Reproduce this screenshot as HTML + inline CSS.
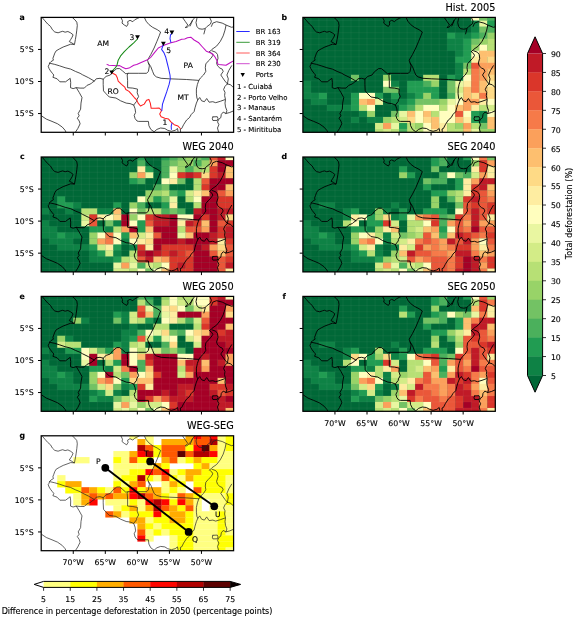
<!DOCTYPE html>
<html lang="en"><head><meta charset="utf-8"><title>Deforestation scenarios</title>
<style>html,body{margin:0;padding:0;background:#fff}svg{display:block}text{font-family:'DejaVu Sans','Liberation Sans',sans-serif;fill:#000;stroke:#000;stroke-width:0.12px}.tk{font-size:7.8px}.tt{font-size:9.75px}.lg{font-size:6.95px}.pl{font-size:7.8px;font-weight:bold}.st{font-size:7.6px}</style></head><body>
<svg width="575" height="618" viewBox="0 0 575 618">
<rect width="575" height="618" fill="#fff"/>
<defs>
<clipPath id="cpa"><rect x="41.2" y="17.4" width="192.4" height="114.9"/></clipPath>
<clipPath id="cpb"><rect x="302.9" y="17.4" width="192.4" height="114.9"/></clipPath>
<clipPath id="cpc"><rect x="41.2" y="157" width="192.4" height="114.9"/></clipPath>
<clipPath id="cpd"><rect x="302.9" y="157" width="192.4" height="114.9"/></clipPath>
<clipPath id="cpe"><rect x="41.2" y="296.4" width="192.4" height="114.9"/></clipPath>
<clipPath id="cpf"><rect x="302.9" y="296.4" width="192.4" height="114.9"/></clipPath>
<clipPath id="cpg"><rect x="41.2" y="435.8" width="192.4" height="114.9"/></clipPath>
</defs>
<g clip-path="url(#cpa)" fill="none" stroke="#222" stroke-width="0.8" stroke-linejoin="round" stroke-linecap="round">
<path d="M42.6 18.1 L44.9 20.8 L47.7 24 L50.5 26.4 L52.4 29.7 L54.8 32 L58.1 32.8 L60.9 31.8 L62.7 31.3 L65.1 32.2 L67.9 31.5 L70.7 32.9 L73.1 34.8 L72.1 37.2 L70.7 39.5 L69.3 41.6 L71.7 42.8 L74 44.4"/>
<path d="M72.6 17.8 L74.9 19.8 L76.8 22.2 L77.3 25.4 L76.8 30.1 L76.2 34.8 L75.4 39.5 L74.5 44.2"/>
<path d="M74 44.4 L70.7 44.2 L67 45.6 L63.2 47 L59.5 48.9 L56.2 50.8 L54.8 53.1 L53.8 55.9 L52.9 58.3 L53.4 60.2 L51 61.6 L49.6 63 L49.1 64.8 L48.2 66.2 L49.1 68.6 L50.5 70.9 L52.4 73.3 L53.8 75 L52.9 77.3 L57.1 78.8 L59.9 81.8 L65.6 81.8 L70.2 78.3 L70.7 82.5 L70.5 87.7 L73.1 88.6 L76.3 87.7 L80.1 88.1 L84.3 88.1 L87.1 85.3 L90.7 83.9 L91.5 83 L94.3 81.1 L96.2 78.8 L100 78.3 L103.2 79.2 L106.1 76.4 L110.3 75 L112.6 71.9 L116.8 68.6 L119.7 68.6 L122.5 70.9 L125.8 73.8 L128.1 73.3 L138.7 73.3 L146.6 73.3 L148.4 71.4 L149.4 65.8 L148.4 63 L147.5 60.2 L150.8 54.5 L154.1 48 L156.9 41.4 L159.2 35.8 L160.6 32 L157.3 29.7 L152.6 27.3 L148.9 24.5 L146.1 21.2 L144.7 18.1"/>
<path d="M49.6 63.2 L54.8 64.4 L59.5 65.8 L65.1 67.7 L70.7 69.1 L75.4 71.4 L80.1 73.3 L82.4 74.7 L88.7 77.8 L94.3 81.1"/>
<path d="M121.1 17.9 L122.5 20.8 L122 23.1 L124.3 25 L126.7 26.4 L128.1 24 L127.6 21.7 L130 20.3 L132.8 21.7 L134.7 19.8 L137.5 18.4 L139.2 17.6"/>
<path d="M148.4 63 L150.8 66.7 L152.6 71.4 L154.1 75 L156.4 76.9 L161.1 78.3 L169.5 78.8 L178.9 79.2 L186.7 79.5 L192.2 79.9 L198.8 80.4"/>
<path d="M128.1 73.3 L127.2 75 L127.6 80.6 L127.6 87.7 L132.8 88.1 L137.5 89.1 L137.2 92.8 L138.6 96.6 L136.7 99.9 L136.6 101.3 L133.7 105"/>
<path d="M103.2 79.2 L103.2 84.4 L103.5 90.9 L106.1 93.8 L109.3 97 L115.9 98 L120.6 100.8 L126.2 103.1 L130 103.6 L133.7 105 L135.1 108.8 L135.6 112.5 L134.2 115.3 L135.1 118.6 L137 121 L138.7 121.4 L148.4 121.4 L148.9 125.7 L150.8 129.4 L154.1 131.8 L156.9 129.4 L160.6 128 L164.8 128.5 L167.7 130.3 L171.4 131.3 L175.2 130.3 L177.5 128.5 L178 131.3"/>
<path d="M209.6 51.7 L211.9 53.6 L212.8 55.5 L211 58.3 L208.2 61.1 L205.8 63.9 L205.3 67.7 L205.8 71.4 L203.5 75 L200.6 77.8 L198.8 80.4 L197.4 84.4 L196.4 89.1 L196.4 93.8 L196.9 98 L197.8 99.9 L196.4 103.1 L195 107.8 L194.1 111.6 L191.3 114.4 L189.4 117.7 L186.6 120 L183.6 124.7 L181.7 128.5 L180.3 129 L180.6 132"/>
<path d="M226 25.4 L225 30.1 L223.2 35.8 L220.3 41.4 L216.6 46.1 L211.9 49.4 L209.6 51.7"/>
<path d="M211.9 50.8 L215.7 52.2 L217.5 54.5 L218 58.3 L216.6 63 L217.5 65.8 L219.9 68.1 L222.2 69.1 L223.2 71.4 L220.8 75 L222.7 77.8 L225 81.1 L227.4 83.9 L225 86.3 L223.6 89.5 L225 92.4 L224.6 95.6 L225.5 99.6 L225 103.1 L225.5 106.9 L226.9 110.6 L226 113.5 L223.2 112.1 L221.3 114.4 L220.8 117.7 L218.9 119.1 L217.5 121.9 L218.9 124.7 L217.5 128 L218.5 131.8"/>
<path d="M197.8 99.9 L199.7 97.5 L201.6 100.8 L204.4 101.7 L206.7 98.5 L209.1 102.2 L212.8 101.7 L215.7 102.7 L220.3 101.3 L225 99.6"/>
<path d="M231.6 65.8 L228.8 70.5 L226.9 75 L228.3 78.8 L227.4 83.9"/>
<path d="M227.4 83.9 L230.7 84.8 L233 87.2"/>
<path d="M226 113.5 L229.7 112.5 L233 111.1"/>
<path d="M212.9 116.9 L217.3 116.7 L218 118.5 L217.3 120.4 L212.9 120.5 L212.3 118.7 L212.9 116.9"/>
<path d="M211.4 26.4 L212.8 23.1 L216.6 21.7 L222.2 23.1 L226.9 25.4 L231.6 27.3 L233.3 26.9"/>
<path d="M182.6 17.6 L185.2 21.3 L187.8 25 L185.2 27.6 L186.9 27.4 L188.3 26.3 L191 22.9 L192.5 20.3 L191.3 23.4 L190.1 26"/>
<path d="M192.5 20.3 L194.1 18.4 L194.9 17.5"/>
<path d="M196.9 18.5 L196 22.6 L196.9 26.4 L198.8 28.7 L202.1 29.2 L204.9 28.7 L207.2 26.4 L210.5 24 L211.4 21.2 L210 18.2"/>
<path d="M205.3 28.7 L203.9 33.9"/>
<path d="M41.7 116 L46.3 119.1 L52 121.4 L57.6 123.8 L62.3 127.1 L65.1 130.3 L66 132.2"/>
<path d="M76.3 87.7 L79.2 92.4 L82 97.5 L81 103.1 L80.6 109.2 L78.2 113.5 L79.2 115.8 L77.3 118.2 L79.2 121 L80.1 123.8 L77.8 128.5 L75.4 132.2"/>
</g>
<g clip-path="url(#cpa)" fill="none" stroke-width="1.05" stroke-linejoin="round" stroke-linecap="round">
<path d="M107 64.4 L108.9 65.3 L113.1 65.6 L116.8 65.8 L119.7 65.6 L122.5 67.2 L125.8 68.8 L129 68.1 L133.7 65.3 L136.7 64.4 L142.3 62 L147.5 59.7 L150.8 57.3 L154.5 52.6 L158.3 48 L162 46.1 L166.7 44.2 L170.9 42.8 L176.1 41.4 L181.7 39.3 L184.7 39 L187.5 37.8 L190.8 37.2 L194.1 40 L198.8 42.8 L202.5 47 L206.3 51.2 L209.6 52.6 L212.8 54.1 L215.2 57.3 L217.1 61.1 L218 64.4 L221.3 64.8 L226 65.3 L229.7 63 L233 61.1" stroke="#c010c0"/>
<path d="M137.5 39 L133.7 42.8 L129 47 L124.3 51.7 L120.6 55.9 L118.2 60.2 L117.3 63.9 L116.8 65.8 L115 68.1 L112.6 70.5 L111.7 71.9" stroke="#188a18"/>
<path d="M112.2 72.8 L113.2 73.5 L115.9 75 L117.3 77.8 L118.2 81.1 L121.5 84.4 L124.8 87.2 L125.8 89.5 L129 91.4 L131.9 94.7 L134.7 98 L136.7 99.9 L138.1 103.1 L140.5 106 L144.2 104.1 L146.6 100.3 L148.9 99.4 L150.3 103.1 L151.2 108.3 L155.5 108.3 L159.2 108 L161.6 110.6 L159.7 113.9 L161.1 116.7 L164.8 118.2 L168.6 119.1 L170.9 121.9 L174.2 124.7 L178 126.1 L180.3 128.5" stroke="#ff2020"/>
<path d="M171.9 33.5 L170.5 34.8 L170 38.6 L170.9 42.3" stroke="#2a2aff"/>
<path d="M163.4 44.5 L162.5 47 L161.6 49.4 L163.9 52.6 L165.8 57.3 L167.2 63 L168.6 68.6 L170 75 L170.3 78.8 L169.1 84.4 L166.7 91.9 L164.4 98.5 L162.5 104.1 L161.8 110.6" stroke="#2a2aff"/>
<path d="M171.9 123.3 L171.2 126.1 L171.4 129.4" stroke="#2a2aff"/>
</g>
<path d="M109.3 70.4 h4.8 l-2.4 4.2z" fill="#000"/>
<path d="M135.1 35.3 h4.8 l-2.4 4.2z" fill="#000"/>
<path d="M169.5 30.6 h4.8 l-2.4 4.2z" fill="#000"/>
<path d="M161 41.8 h4.8 l-2.4 4.2z" fill="#000"/>
<text x="164.8" y="125" text-anchor="middle" class="st">1</text>
<text x="107" y="74.2" text-anchor="middle" class="st">2</text>
<text x="131.9" y="39.5" text-anchor="middle" class="st">3</text>
<text x="166.7" y="34.3" text-anchor="middle" class="st">4</text>
<text x="168.6" y="52.6" text-anchor="middle" class="st">5</text>
<text x="103.2" y="45.6" text-anchor="middle" class="st">AM</text>
<text x="188.2" y="67.8" text-anchor="middle" class="st">PA</text>
<text x="113.1" y="94.2" text-anchor="middle" class="st">RO</text>
<text x="183" y="100.1" text-anchor="middle" class="st">MT</text>
<g stroke="#000" stroke-width="1" fill="none">
<path d="M73.25 132.3 v3.2"/>
<path d="M105.3 132.3 v3.2"/>
<path d="M137.35 132.3 v3.2"/>
<path d="M169.4 132.3 v3.2"/>
<path d="M201.45 132.3 v3.2"/>
<path d="M41.2 49.45 h-3.2"/>
<path d="M41.2 81.5 h-3.2"/>
<path d="M41.2 113.55 h-3.2"/>
</g>
<rect x="41.2" y="17.4" width="192.4" height="114.9" fill="none" stroke="#000" stroke-width="1.25"/>
<text x="33.6" y="52.35" text-anchor="end" class="tk">5°S</text>
<text x="33.6" y="84.4" text-anchor="end" class="tk">10°S</text>
<text x="33.6" y="116.45" text-anchor="end" class="tk">15°S</text>
<path d="M236.3 31.5 H249.7" stroke="#2a2aff" stroke-width="1" fill="none"/>
<text x="255.7" y="34" class="lg">BR 163</text>
<path d="M236.3 42.3 H249.7" stroke="#3a9a3a" stroke-width="1" fill="none"/>
<text x="255.7" y="44.8" class="lg">BR 319</text>
<path d="M236.3 53 H249.7" stroke="#ff5a5a" stroke-width="1" fill="none"/>
<text x="255.7" y="55.5" class="lg">BR 364</text>
<path d="M236.3 63.7 H249.7" stroke="#d050d0" stroke-width="1" fill="none"/>
<text x="255.7" y="66.2" class="lg">BR 230</text>
<path d="M240.5 73.0 h4.4 l-2.2 4.0z" fill="#000"/>
<text x="255.7" y="77.3" class="lg">Ports</text>
<text x="236.9" y="88.6" class="lg">1 - Cuiabá</text>
<text x="236.9" y="99.5" class="lg">2 - Porto Velho</text>
<text x="236.9" y="110.1" class="lg">3 - Manaus</text>
<text x="236.9" y="121.1" class="lg">4 - Santarém</text>
<text x="236.9" y="132" class="lg">5 - Miritituba</text>
<rect x="302.9" y="17.4" width="192.4" height="114.9" fill="#006837"/>
<g clip-path="url(#cpb)">
<rect x="302.9" y="14.6" width="96.45" height="6.27" fill="#006837"/>
<rect x="399.1" y="14.6" width="72.4" height="6.27" fill="#006837"/>
<rect x="471.25" y="14.6" width="8.27" height="6.27" fill="#fffebe"/>
<rect x="479.27" y="14.6" width="8.27" height="6.27" fill="#73c264"/>
<rect x="487.28" y="14.6" width="8.27" height="6.27" fill="#4bb05c"/>
<rect x="302.9" y="20.62" width="96.45" height="6.27" fill="#006837"/>
<rect x="399.1" y="20.62" width="72.4" height="6.27" fill="#006837"/>
<rect x="471.25" y="20.62" width="8.27" height="6.27" fill="#0e8245"/>
<rect x="479.27" y="20.62" width="8.27" height="6.27" fill="#e9f6a1"/>
<rect x="487.28" y="20.62" width="8.27" height="6.27" fill="#219c52"/>
<rect x="302.9" y="26.64" width="96.45" height="6.27" fill="#006837"/>
<rect x="399.1" y="26.64" width="72.4" height="6.27" fill="#006837"/>
<rect x="471.25" y="26.64" width="8.27" height="6.27" fill="#0e8245"/>
<rect x="479.27" y="26.64" width="8.27" height="6.27" fill="#73c264"/>
<rect x="487.28" y="26.64" width="8.27" height="6.27" fill="#4bb05c"/>
<rect x="302.9" y="32.66" width="96.45" height="6.27" fill="#006837"/>
<rect x="399.1" y="32.66" width="48.35" height="6.27" fill="#006837"/>
<rect x="447.2" y="32.66" width="8.27" height="6.27" fill="#219c52"/>
<rect x="455.22" y="32.66" width="16.28" height="6.27" fill="#0e8245"/>
<rect x="471.25" y="32.66" width="8.27" height="6.27" fill="#219c52"/>
<rect x="479.27" y="32.66" width="8.27" height="6.27" fill="#4bb05c"/>
<rect x="487.28" y="32.66" width="8.27" height="6.27" fill="#98d368"/>
<rect x="302.9" y="38.68" width="96.45" height="6.27" fill="#006837"/>
<rect x="399.1" y="38.68" width="48.35" height="6.27" fill="#006837"/>
<rect x="447.2" y="38.68" width="16.28" height="6.27" fill="#0e8245"/>
<rect x="463.23" y="38.68" width="8.27" height="6.27" fill="#219c52"/>
<rect x="471.25" y="38.68" width="8.27" height="6.27" fill="#73c264"/>
<rect x="479.27" y="38.68" width="8.27" height="6.27" fill="#98d368"/>
<rect x="487.28" y="38.68" width="8.27" height="6.27" fill="#b7e075"/>
<rect x="302.9" y="44.7" width="96.45" height="6.27" fill="#006837"/>
<rect x="399.1" y="44.7" width="48.35" height="6.27" fill="#006837"/>
<rect x="447.2" y="44.7" width="16.28" height="6.27" fill="#0e8245"/>
<rect x="463.23" y="44.7" width="8.27" height="6.27" fill="#219c52"/>
<rect x="471.25" y="44.7" width="8.27" height="6.27" fill="#98d368"/>
<rect x="479.27" y="44.7" width="8.27" height="6.27" fill="#fffebe"/>
<rect x="487.28" y="44.7" width="8.27" height="6.27" fill="#b7e075"/>
<rect x="302.9" y="50.72" width="96.45" height="6.27" fill="#006837"/>
<rect x="399.1" y="50.72" width="56.37" height="6.27" fill="#006837"/>
<rect x="455.22" y="50.72" width="8.27" height="6.27" fill="#0e8245"/>
<rect x="463.23" y="50.72" width="8.27" height="6.27" fill="#219c52"/>
<rect x="471.25" y="50.72" width="8.27" height="6.27" fill="#fffebe"/>
<rect x="479.27" y="50.72" width="16.28" height="6.27" fill="#fdbf6f"/>
<rect x="302.9" y="56.74" width="96.45" height="6.27" fill="#006837"/>
<rect x="399.1" y="56.74" width="56.37" height="6.27" fill="#006837"/>
<rect x="455.22" y="56.74" width="16.28" height="6.27" fill="#219c52"/>
<rect x="471.25" y="56.74" width="8.27" height="6.27" fill="#feeda1"/>
<rect x="479.27" y="56.74" width="8.27" height="6.27" fill="#fdbf6f"/>
<rect x="487.28" y="56.74" width="8.27" height="6.27" fill="#feda86"/>
<rect x="302.9" y="62.76" width="96.45" height="6.27" fill="#006837"/>
<rect x="399.1" y="62.76" width="56.37" height="6.27" fill="#006837"/>
<rect x="455.22" y="62.76" width="8.27" height="6.27" fill="#0e8245"/>
<rect x="463.23" y="62.76" width="8.27" height="6.27" fill="#73c264"/>
<rect x="471.25" y="62.76" width="8.27" height="6.27" fill="#ea5739"/>
<rect x="479.27" y="62.76" width="16.28" height="6.27" fill="#fba05b"/>
<rect x="302.9" y="68.78" width="8.27" height="6.27" fill="#006837"/>
<rect x="310.92" y="68.78" width="88.43" height="6.27" fill="#006837"/>
<rect x="399.1" y="68.78" width="56.37" height="6.27" fill="#006837"/>
<rect x="455.22" y="68.78" width="8.27" height="6.27" fill="#0e8245"/>
<rect x="463.23" y="68.78" width="8.27" height="6.27" fill="#b7e075"/>
<rect x="471.25" y="68.78" width="8.27" height="6.27" fill="#f67a49"/>
<rect x="479.27" y="68.78" width="8.27" height="6.27" fill="#fba05b"/>
<rect x="487.28" y="68.78" width="8.27" height="6.27" fill="#fdbf6f"/>
<rect x="302.9" y="74.8" width="8.27" height="6.27" fill="#006837"/>
<rect x="310.92" y="74.8" width="40.33" height="6.27" fill="#006837"/>
<rect x="351" y="74.8" width="8.27" height="6.27" fill="#73c264"/>
<rect x="359.02" y="74.8" width="8.27" height="6.27" fill="#006837"/>
<rect x="367.03" y="74.8" width="16.28" height="6.27" fill="#006837"/>
<rect x="383.07" y="74.8" width="8.27" height="6.27" fill="#98d368"/>
<rect x="391.08" y="74.8" width="8.27" height="6.27" fill="#006837"/>
<rect x="399.1" y="74.8" width="24.3" height="6.27" fill="#006837"/>
<rect x="423.15" y="74.8" width="16.28" height="6.27" fill="#b7e075"/>
<rect x="439.18" y="74.8" width="8.27" height="6.27" fill="#006837"/>
<rect x="447.2" y="74.8" width="8.27" height="6.27" fill="#219c52"/>
<rect x="455.22" y="74.8" width="8.27" height="6.27" fill="#0e8245"/>
<rect x="463.23" y="74.8" width="8.27" height="6.27" fill="#fffebe"/>
<rect x="471.25" y="74.8" width="8.27" height="6.27" fill="#f67a49"/>
<rect x="479.27" y="74.8" width="8.27" height="6.27" fill="#fba05b"/>
<rect x="487.28" y="74.8" width="8.27" height="6.27" fill="#feda86"/>
<rect x="302.9" y="80.82" width="8.27" height="6.27" fill="#0e8245"/>
<rect x="310.92" y="80.82" width="16.28" height="6.27" fill="#006837"/>
<rect x="326.95" y="80.82" width="16.28" height="6.27" fill="#006837"/>
<rect x="342.98" y="80.82" width="16.28" height="6.27" fill="#006837"/>
<rect x="359.02" y="80.82" width="24.3" height="6.27" fill="#006837"/>
<rect x="383.07" y="80.82" width="8.27" height="6.27" fill="#fffebe"/>
<rect x="391.08" y="80.82" width="8.27" height="6.27" fill="#0e8245"/>
<rect x="399.1" y="80.82" width="8.27" height="6.27" fill="#006837"/>
<rect x="407.12" y="80.82" width="16.28" height="6.27" fill="#219c52"/>
<rect x="423.15" y="80.82" width="8.27" height="6.27" fill="#4bb05c"/>
<rect x="431.17" y="80.82" width="8.27" height="6.27" fill="#98d368"/>
<rect x="439.18" y="80.82" width="8.27" height="6.27" fill="#006837"/>
<rect x="447.2" y="80.82" width="8.27" height="6.27" fill="#73c264"/>
<rect x="455.22" y="80.82" width="8.27" height="6.27" fill="#e9f6a1"/>
<rect x="463.23" y="80.82" width="8.27" height="6.27" fill="#feeda1"/>
<rect x="471.25" y="80.82" width="8.27" height="6.27" fill="#f67a49"/>
<rect x="479.27" y="80.82" width="8.27" height="6.27" fill="#fdbf6f"/>
<rect x="487.28" y="80.82" width="8.27" height="6.27" fill="#feeda1"/>
<rect x="302.9" y="86.84" width="8.27" height="6.27" fill="#0e8245"/>
<rect x="310.92" y="86.84" width="16.28" height="6.27" fill="#006837"/>
<rect x="326.95" y="86.84" width="24.3" height="6.27" fill="#006837"/>
<rect x="351" y="86.84" width="32.32" height="6.27" fill="#006837"/>
<rect x="383.07" y="86.84" width="16.28" height="6.27" fill="#73c264"/>
<rect x="399.1" y="86.84" width="8.27" height="6.27" fill="#006837"/>
<rect x="407.12" y="86.84" width="32.32" height="6.27" fill="#219c52"/>
<rect x="439.18" y="86.84" width="8.27" height="6.27" fill="#006837"/>
<rect x="447.2" y="86.84" width="8.27" height="6.27" fill="#73c264"/>
<rect x="455.22" y="86.84" width="8.27" height="6.27" fill="#d3ec87"/>
<rect x="463.23" y="86.84" width="8.27" height="6.27" fill="#fdbf6f"/>
<rect x="471.25" y="86.84" width="8.27" height="6.27" fill="#f67a49"/>
<rect x="479.27" y="86.84" width="8.27" height="6.27" fill="#fdbf6f"/>
<rect x="487.28" y="86.84" width="8.27" height="6.27" fill="#feda86"/>
<rect x="302.9" y="92.86" width="16.28" height="6.27" fill="#0e8245"/>
<rect x="318.93" y="92.86" width="8.27" height="6.27" fill="#219c52"/>
<rect x="326.95" y="92.86" width="8.27" height="6.27" fill="#006837"/>
<rect x="334.97" y="92.86" width="16.28" height="6.27" fill="#006837"/>
<rect x="351" y="92.86" width="8.27" height="6.27" fill="#219c52"/>
<rect x="359.02" y="92.86" width="16.28" height="6.27" fill="#fffebe"/>
<rect x="375.05" y="92.86" width="8.27" height="6.27" fill="#219c52"/>
<rect x="383.07" y="92.86" width="8.27" height="6.27" fill="#006837"/>
<rect x="391.08" y="92.86" width="8.27" height="6.27" fill="#219c52"/>
<rect x="399.1" y="92.86" width="8.27" height="6.27" fill="#006837"/>
<rect x="407.12" y="92.86" width="8.27" height="6.27" fill="#0e8245"/>
<rect x="415.13" y="92.86" width="8.27" height="6.27" fill="#219c52"/>
<rect x="423.15" y="92.86" width="8.27" height="6.27" fill="#98d368"/>
<rect x="431.17" y="92.86" width="8.27" height="6.27" fill="#219c52"/>
<rect x="439.18" y="92.86" width="8.27" height="6.27" fill="#006837"/>
<rect x="447.2" y="92.86" width="8.27" height="6.27" fill="#4bb05c"/>
<rect x="455.22" y="92.86" width="8.27" height="6.27" fill="#e9f6a1"/>
<rect x="463.23" y="92.86" width="8.27" height="6.27" fill="#fdbf6f"/>
<rect x="471.25" y="92.86" width="8.27" height="6.27" fill="#feda86"/>
<rect x="479.27" y="92.86" width="8.27" height="6.27" fill="#f67a49"/>
<rect x="487.28" y="92.86" width="8.27" height="6.27" fill="#feda86"/>
<rect x="302.9" y="98.88" width="8.27" height="6.27" fill="#006837"/>
<rect x="310.92" y="98.88" width="16.28" height="6.27" fill="#0e8245"/>
<rect x="326.95" y="98.88" width="8.27" height="6.27" fill="#006837"/>
<rect x="334.97" y="98.88" width="8.27" height="6.27" fill="#006837"/>
<rect x="342.98" y="98.88" width="8.27" height="6.27" fill="#006837"/>
<rect x="351" y="98.88" width="8.27" height="6.27" fill="#219c52"/>
<rect x="359.02" y="98.88" width="8.27" height="6.27" fill="#fdbf6f"/>
<rect x="367.03" y="98.88" width="8.27" height="6.27" fill="#fba05b"/>
<rect x="375.05" y="98.88" width="8.27" height="6.27" fill="#e9f6a1"/>
<rect x="383.07" y="98.88" width="8.27" height="6.27" fill="#006837"/>
<rect x="391.08" y="98.88" width="8.27" height="6.27" fill="#0e8245"/>
<rect x="399.1" y="98.88" width="8.27" height="6.27" fill="#0e8245"/>
<rect x="407.12" y="98.88" width="8.27" height="6.27" fill="#219c52"/>
<rect x="415.13" y="98.88" width="24.3" height="6.27" fill="#73c264"/>
<rect x="439.18" y="98.88" width="8.27" height="6.27" fill="#98d368"/>
<rect x="447.2" y="98.88" width="8.27" height="6.27" fill="#e9f6a1"/>
<rect x="455.22" y="98.88" width="8.27" height="6.27" fill="#fffebe"/>
<rect x="463.23" y="98.88" width="16.28" height="6.27" fill="#fba05b"/>
<rect x="479.27" y="98.88" width="8.27" height="6.27" fill="#feeda1"/>
<rect x="487.28" y="98.88" width="8.27" height="6.27" fill="#fffebe"/>
<rect x="302.9" y="104.9" width="24.3" height="6.27" fill="#006837"/>
<rect x="326.95" y="104.9" width="24.3" height="6.27" fill="#0e8245"/>
<rect x="351" y="104.9" width="8.27" height="6.27" fill="#219c52"/>
<rect x="359.02" y="104.9" width="8.27" height="6.27" fill="#b7e075"/>
<rect x="367.03" y="104.9" width="8.27" height="6.27" fill="#fffebe"/>
<rect x="375.05" y="104.9" width="24.3" height="6.27" fill="#006837"/>
<rect x="399.1" y="104.9" width="8.27" height="6.27" fill="#219c52"/>
<rect x="407.12" y="104.9" width="8.27" height="6.27" fill="#4bb05c"/>
<rect x="415.13" y="104.9" width="8.27" height="6.27" fill="#b7e075"/>
<rect x="423.15" y="104.9" width="16.28" height="6.27" fill="#fffebe"/>
<rect x="439.18" y="104.9" width="8.27" height="6.27" fill="#b7e075"/>
<rect x="447.2" y="104.9" width="8.27" height="6.27" fill="#fffebe"/>
<rect x="455.22" y="104.9" width="8.27" height="6.27" fill="#fdbf6f"/>
<rect x="463.23" y="104.9" width="8.27" height="6.27" fill="#fba05b"/>
<rect x="471.25" y="104.9" width="8.27" height="6.27" fill="#feeda1"/>
<rect x="479.27" y="104.9" width="8.27" height="6.27" fill="#b7e075"/>
<rect x="487.28" y="104.9" width="8.27" height="6.27" fill="#d3ec87"/>
<rect x="302.9" y="110.92" width="56.37" height="6.27" fill="#006837"/>
<rect x="359.02" y="110.92" width="8.27" height="6.27" fill="#0e8245"/>
<rect x="367.03" y="110.92" width="8.27" height="6.27" fill="#98d368"/>
<rect x="375.05" y="110.92" width="16.28" height="6.27" fill="#006837"/>
<rect x="391.08" y="110.92" width="8.27" height="6.27" fill="#73c264"/>
<rect x="399.1" y="110.92" width="8.27" height="6.27" fill="#e9f6a1"/>
<rect x="407.12" y="110.92" width="8.27" height="6.27" fill="#fdbf6f"/>
<rect x="415.13" y="110.92" width="8.27" height="6.27" fill="#fffebe"/>
<rect x="423.15" y="110.92" width="8.27" height="6.27" fill="#fdbf6f"/>
<rect x="431.17" y="110.92" width="8.27" height="6.27" fill="#b7e075"/>
<rect x="439.18" y="110.92" width="16.28" height="6.27" fill="#fffebe"/>
<rect x="455.22" y="110.92" width="8.27" height="6.27" fill="#ea5739"/>
<rect x="463.23" y="110.92" width="8.27" height="6.27" fill="#fffebe"/>
<rect x="471.25" y="110.92" width="8.27" height="6.27" fill="#219c52"/>
<rect x="479.27" y="110.92" width="8.27" height="6.27" fill="#0e8245"/>
<rect x="487.28" y="110.92" width="8.27" height="6.27" fill="#fffebe"/>
<rect x="302.9" y="116.94" width="32.32" height="6.27" fill="#006837"/>
<rect x="334.97" y="116.94" width="8.27" height="6.27" fill="#006837"/>
<rect x="342.98" y="116.94" width="8.27" height="6.27" fill="#006837"/>
<rect x="351" y="116.94" width="8.27" height="6.27" fill="#0e8245"/>
<rect x="359.02" y="116.94" width="8.27" height="6.27" fill="#006837"/>
<rect x="367.03" y="116.94" width="16.28" height="6.27" fill="#0e8245"/>
<rect x="383.07" y="116.94" width="8.27" height="6.27" fill="#98d368"/>
<rect x="391.08" y="116.94" width="8.27" height="6.27" fill="#b7e075"/>
<rect x="399.1" y="116.94" width="8.27" height="6.27" fill="#d3ec87"/>
<rect x="407.12" y="116.94" width="8.27" height="6.27" fill="#feda86"/>
<rect x="415.13" y="116.94" width="8.27" height="6.27" fill="#fffebe"/>
<rect x="423.15" y="116.94" width="8.27" height="6.27" fill="#feda86"/>
<rect x="431.17" y="116.94" width="8.27" height="6.27" fill="#fdbf6f"/>
<rect x="439.18" y="116.94" width="16.28" height="6.27" fill="#fffebe"/>
<rect x="455.22" y="116.94" width="8.27" height="6.27" fill="#fdbf6f"/>
<rect x="463.23" y="116.94" width="8.27" height="6.27" fill="#feeda1"/>
<rect x="471.25" y="116.94" width="8.27" height="6.27" fill="#219c52"/>
<rect x="479.27" y="116.94" width="8.27" height="6.27" fill="#0e8245"/>
<rect x="487.28" y="116.94" width="8.27" height="6.27" fill="#fdbf6f"/>
<rect x="302.9" y="122.96" width="32.32" height="6.27" fill="#006837"/>
<rect x="334.97" y="122.96" width="8.27" height="6.27" fill="#006837"/>
<rect x="342.98" y="122.96" width="32.32" height="6.27" fill="#006837"/>
<rect x="375.05" y="122.96" width="8.27" height="6.27" fill="#d3ec87"/>
<rect x="383.07" y="122.96" width="8.27" height="6.27" fill="#fba05b"/>
<rect x="391.08" y="122.96" width="8.27" height="6.27" fill="#e9f6a1"/>
<rect x="399.1" y="122.96" width="8.27" height="6.27" fill="#219c52"/>
<rect x="407.12" y="122.96" width="8.27" height="6.27" fill="#b7e075"/>
<rect x="415.13" y="122.96" width="8.27" height="6.27" fill="#98d368"/>
<rect x="423.15" y="122.96" width="8.27" height="6.27" fill="#fffebe"/>
<rect x="431.17" y="122.96" width="8.27" height="6.27" fill="#fdbf6f"/>
<rect x="439.18" y="122.96" width="8.27" height="6.27" fill="#feeda1"/>
<rect x="447.2" y="122.96" width="8.27" height="6.27" fill="#b7e075"/>
<rect x="455.22" y="122.96" width="8.27" height="6.27" fill="#98d368"/>
<rect x="463.23" y="122.96" width="8.27" height="6.27" fill="#fba05b"/>
<rect x="471.25" y="122.96" width="8.27" height="6.27" fill="#b7e075"/>
<rect x="479.27" y="122.96" width="8.27" height="6.27" fill="#73c264"/>
<rect x="487.28" y="122.96" width="8.27" height="6.27" fill="#fdbf6f"/>
<rect x="302.9" y="128.98" width="72.4" height="6.27" fill="#006837"/>
<rect x="375.05" y="128.98" width="8.27" height="6.27" fill="#b7e075"/>
<rect x="383.07" y="128.98" width="8.27" height="6.27" fill="#d3ec87"/>
<rect x="391.08" y="128.98" width="8.27" height="6.27" fill="#b7e075"/>
<rect x="399.1" y="128.98" width="8.27" height="6.27" fill="#4bb05c"/>
<rect x="407.12" y="128.98" width="16.28" height="6.27" fill="#b7e075"/>
<rect x="423.15" y="128.98" width="8.27" height="6.27" fill="#fffebe"/>
<rect x="431.17" y="128.98" width="16.28" height="6.27" fill="#feeda1"/>
<rect x="447.2" y="128.98" width="16.28" height="6.27" fill="#b7e075"/>
<rect x="463.23" y="128.98" width="8.27" height="6.27" fill="#fdbf6f"/>
<rect x="471.25" y="128.98" width="8.27" height="6.27" fill="#e9f6a1"/>
<rect x="479.27" y="128.98" width="16.28" height="6.27" fill="#98d368"/>
<path d="M310.92 17.4v114.9M318.93 17.4v114.9M326.95 17.4v114.9M334.97 17.4v114.9M342.98 17.4v114.9M351 17.4v114.9M359.02 17.4v114.9M367.03 17.4v114.9M375.05 17.4v114.9M383.07 17.4v114.9M391.08 17.4v114.9M399.1 17.4v114.9M407.12 17.4v114.9M415.13 17.4v114.9M423.15 17.4v114.9M431.17 17.4v114.9M439.18 17.4v114.9M447.2 17.4v114.9M455.22 17.4v114.9M463.23 17.4v114.9M471.25 17.4v114.9M479.27 17.4v114.9M487.28 17.4v114.9M302.9 20.62h192.4M302.9 26.64h192.4M302.9 32.66h192.4M302.9 38.68h192.4M302.9 44.7h192.4M302.9 50.72h192.4M302.9 56.74h192.4M302.9 62.76h192.4M302.9 68.78h192.4M302.9 74.8h192.4M302.9 80.82h192.4M302.9 86.84h192.4M302.9 92.86h192.4M302.9 98.88h192.4M302.9 104.9h192.4M302.9 110.92h192.4M302.9 116.94h192.4M302.9 122.96h192.4M302.9 128.98h192.4" stroke="#fff" stroke-opacity="0.10" stroke-width="0.5" fill="none"/>
</g>
<g clip-path="url(#cpb)" fill="none" stroke="#000" stroke-width="0.9" stroke-linejoin="round" stroke-linecap="round">
<path d="M304.3 18.1 L306.6 20.8 L309.4 24 L312.2 26.4 L314.1 29.7 L316.5 32 L319.8 32.8 L322.6 31.8 L324.4 31.3 L326.8 32.2 L329.6 31.5 L332.4 32.9 L334.8 34.8 L333.8 37.2 L332.4 39.5 L331 41.6 L333.4 42.8 L335.7 44.4"/>
<path d="M334.3 17.8 L336.6 19.8 L338.5 22.2 L339 25.4 L338.5 30.1 L337.9 34.8 L337.1 39.5 L336.2 44.2"/>
<path d="M335.7 44.4 L332.4 44.2 L328.7 45.6 L324.9 47 L321.2 48.9 L317.9 50.8 L316.5 53.1 L315.5 55.9 L314.6 58.3 L315.1 60.2 L312.7 61.6 L311.3 63 L310.8 64.8 L309.9 66.2 L310.8 68.6 L312.2 70.9 L314.1 73.3 L315.5 75 L314.6 77.3 L318.8 78.8 L321.6 81.8 L327.3 81.8 L331.9 78.3 L332.4 82.5 L332.2 87.7 L334.8 88.6 L338 87.7 L341.8 88.1 L346 88.1 L348.8 85.3 L352.4 83.9 L353.2 83 L356 81.1 L357.9 78.8 L361.7 78.3 L364.9 79.2 L367.8 76.4 L372 75 L374.3 71.9 L378.5 68.6 L381.4 68.6 L384.2 70.9 L387.5 73.8 L389.8 73.3 L400.4 73.3 L408.3 73.3 L410.1 71.4 L411.1 65.8 L410.1 63 L409.2 60.2 L412.5 54.5 L415.8 48 L418.6 41.4 L420.9 35.8 L422.3 32 L419 29.7 L414.3 27.3 L410.6 24.5 L407.8 21.2 L406.4 18.1"/>
<path d="M311.3 63.2 L316.5 64.4 L321.2 65.8 L326.8 67.7 L332.4 69.1 L337.1 71.4 L341.8 73.3 L344.1 74.7 L350.4 77.8 L356 81.1"/>
<path d="M382.8 17.9 L384.2 20.8 L383.7 23.1 L386 25 L388.4 26.4 L389.8 24 L389.3 21.7 L391.7 20.3 L394.5 21.7 L396.4 19.8 L399.2 18.4 L400.9 17.6"/>
<path d="M410.1 63 L412.5 66.7 L414.3 71.4 L415.8 75 L418.1 76.9 L422.8 78.3 L431.2 78.8 L440.6 79.2 L448.4 79.5 L453.9 79.9 L460.5 80.4"/>
<path d="M389.8 73.3 L388.9 75 L389.3 80.6 L389.3 87.7 L394.5 88.1 L399.2 89.1 L398.9 92.8 L400.3 96.6 L398.4 99.9 L398.3 101.3 L395.4 105"/>
<path d="M364.9 79.2 L364.9 84.4 L365.2 90.9 L367.8 93.8 L371 97 L377.6 98 L382.3 100.8 L387.9 103.1 L391.7 103.6 L395.4 105 L396.8 108.8 L397.3 112.5 L395.9 115.3 L396.8 118.6 L398.7 121 L400.4 121.4 L410.1 121.4 L410.6 125.7 L412.5 129.4 L415.8 131.8 L418.6 129.4 L422.3 128 L426.5 128.5 L429.4 130.3 L433.1 131.3 L436.9 130.3 L439.2 128.5 L439.7 131.3"/>
<path d="M471.3 51.7 L473.6 53.6 L474.5 55.5 L472.7 58.3 L469.9 61.1 L467.5 63.9 L467 67.7 L467.5 71.4 L465.2 75 L462.3 77.8 L460.5 80.4 L459.1 84.4 L458.1 89.1 L458.1 93.8 L458.6 98 L459.5 99.9 L458.1 103.1 L456.7 107.8 L455.8 111.6 L453 114.4 L451.1 117.7 L448.3 120 L445.3 124.7 L443.4 128.5 L442 129 L442.3 132"/>
<path d="M487.7 25.4 L486.7 30.1 L484.9 35.8 L482 41.4 L478.3 46.1 L473.6 49.4 L471.3 51.7"/>
<path d="M473.6 50.8 L477.4 52.2 L479.2 54.5 L479.7 58.3 L478.3 63 L479.2 65.8 L481.6 68.1 L483.9 69.1 L484.9 71.4 L482.5 75 L484.4 77.8 L486.7 81.1 L489.1 83.9 L486.7 86.3 L485.3 89.5 L486.7 92.4 L486.3 95.6 L487.2 99.6 L486.7 103.1 L487.2 106.9 L488.6 110.6 L487.7 113.5 L484.9 112.1 L483 114.4 L482.5 117.7 L480.6 119.1 L479.2 121.9 L480.6 124.7 L479.2 128 L480.2 131.8"/>
<path d="M459.5 99.9 L461.4 97.5 L463.3 100.8 L466.1 101.7 L468.4 98.5 L470.8 102.2 L474.5 101.7 L477.4 102.7 L482 101.3 L486.7 99.6"/>
<path d="M493.3 65.8 L490.5 70.5 L488.6 75 L490 78.8 L489.1 83.9"/>
<path d="M489.1 83.9 L492.4 84.8 L494.7 87.2"/>
<path d="M487.7 113.5 L491.4 112.5 L494.7 111.1"/>
<path d="M474.6 116.9 L479 116.7 L479.7 118.5 L479 120.4 L474.6 120.5 L474 118.7 L474.6 116.9"/>
<path d="M473.1 26.4 L474.5 23.1 L478.3 21.7 L483.9 23.1 L488.6 25.4 L493.3 27.3 L495 26.9"/>
<path d="M444.3 17.6 L446.9 21.3 L449.5 25 L446.9 27.6 L448.6 27.4 L450 26.3 L452.7 22.9 L454.2 20.3 L453 23.4 L451.8 26"/>
<path d="M454.2 20.3 L455.8 18.4 L456.6 17.5"/>
<path d="M458.6 18.5 L457.7 22.6 L458.6 26.4 L460.5 28.7 L463.8 29.2 L466.6 28.7 L468.9 26.4 L472.2 24 L473.1 21.2 L471.7 18.2"/>
<path d="M467 28.7 L465.6 33.9"/>
<path d="M303.4 116 L308 119.1 L313.7 121.4 L319.3 123.8 L324 127.1 L326.8 130.3 L327.7 132.2"/>
<path d="M338 87.7 L340.9 92.4 L343.7 97.5 L342.7 103.1 L342.3 109.2 L339.9 113.5 L340.9 115.8 L339 118.2 L340.9 121 L341.8 123.8 L339.5 128.5 L337.1 132.2"/>
</g>
<g stroke="#000" stroke-width="1" fill="none">
<path d="M334.95 132.3 v3.2"/>
<path d="M367 132.3 v3.2"/>
<path d="M399.05 132.3 v3.2"/>
<path d="M431.1 132.3 v3.2"/>
<path d="M463.15 132.3 v3.2"/>
<path d="M302.9 49.45 h-3.2"/>
<path d="M302.9 81.5 h-3.2"/>
<path d="M302.9 113.55 h-3.2"/>
</g>
<rect x="302.9" y="17.4" width="192.4" height="114.9" fill="none" stroke="#000" stroke-width="1.25"/>
<text x="495.4" y="10.8" text-anchor="end" class="tt">Hist. 2005</text>
<rect x="41.2" y="157" width="192.4" height="114.9" fill="#006837"/>
<g clip-path="url(#cpc)">
<rect x="41.2" y="154.2" width="96.45" height="6.27" fill="#006837"/>
<rect x="137.4" y="154.2" width="8.27" height="6.27" fill="#219c52"/>
<rect x="145.42" y="154.2" width="16.28" height="6.27" fill="#006837"/>
<rect x="161.45" y="154.2" width="8.27" height="6.27" fill="#219c52"/>
<rect x="169.47" y="154.2" width="8.27" height="6.27" fill="#4bb05c"/>
<rect x="177.48" y="154.2" width="8.27" height="6.27" fill="#73c264"/>
<rect x="185.5" y="154.2" width="8.27" height="6.27" fill="#98d368"/>
<rect x="193.52" y="154.2" width="8.27" height="6.27" fill="#73c264"/>
<rect x="201.53" y="154.2" width="8.27" height="6.27" fill="#4bb05c"/>
<rect x="209.55" y="154.2" width="8.27" height="6.27" fill="#ea5739"/>
<rect x="217.57" y="154.2" width="8.27" height="6.27" fill="#c01a27"/>
<rect x="225.58" y="154.2" width="8.27" height="6.27" fill="#fffebe"/>
<rect x="41.2" y="160.22" width="96.45" height="6.27" fill="#006837"/>
<rect x="137.4" y="160.22" width="8.27" height="6.27" fill="#4bb05c"/>
<rect x="145.42" y="160.22" width="16.28" height="6.27" fill="#006837"/>
<rect x="161.45" y="160.22" width="8.27" height="6.27" fill="#4bb05c"/>
<rect x="169.47" y="160.22" width="8.27" height="6.27" fill="#73c264"/>
<rect x="177.48" y="160.22" width="16.28" height="6.27" fill="#98d368"/>
<rect x="193.52" y="160.22" width="8.27" height="6.27" fill="#4bb05c"/>
<rect x="201.53" y="160.22" width="8.27" height="6.27" fill="#98d368"/>
<rect x="209.55" y="160.22" width="8.27" height="6.27" fill="#fba05b"/>
<rect x="217.57" y="160.22" width="16.28" height="6.27" fill="#a50026"/>
<rect x="41.2" y="166.24" width="96.45" height="6.27" fill="#006837"/>
<rect x="137.4" y="166.24" width="8.27" height="6.27" fill="#feeda1"/>
<rect x="145.42" y="166.24" width="8.27" height="6.27" fill="#219c52"/>
<rect x="153.43" y="166.24" width="8.27" height="6.27" fill="#006837"/>
<rect x="161.45" y="166.24" width="8.27" height="6.27" fill="#4bb05c"/>
<rect x="169.47" y="166.24" width="8.27" height="6.27" fill="#e9f6a1"/>
<rect x="177.48" y="166.24" width="8.27" height="6.27" fill="#98d368"/>
<rect x="185.5" y="166.24" width="8.27" height="6.27" fill="#4bb05c"/>
<rect x="193.52" y="166.24" width="8.27" height="6.27" fill="#98d368"/>
<rect x="201.53" y="166.24" width="8.27" height="6.27" fill="#b7e075"/>
<rect x="209.55" y="166.24" width="8.27" height="6.27" fill="#da362a"/>
<rect x="217.57" y="166.24" width="8.27" height="6.27" fill="#a50026"/>
<rect x="225.58" y="166.24" width="8.27" height="6.27" fill="#fdbf6f"/>
<rect x="41.2" y="172.26" width="88.43" height="6.27" fill="#006837"/>
<rect x="129.38" y="172.26" width="8.27" height="6.27" fill="#98d368"/>
<rect x="137.4" y="172.26" width="8.27" height="6.27" fill="#fba05b"/>
<rect x="145.42" y="172.26" width="8.27" height="6.27" fill="#e9f6a1"/>
<rect x="153.43" y="172.26" width="8.27" height="6.27" fill="#006837"/>
<rect x="161.45" y="172.26" width="8.27" height="6.27" fill="#4bb05c"/>
<rect x="169.47" y="172.26" width="8.27" height="6.27" fill="#fffebe"/>
<rect x="177.48" y="172.26" width="8.27" height="6.27" fill="#da362a"/>
<rect x="185.5" y="172.26" width="8.27" height="6.27" fill="#c01a27"/>
<rect x="193.52" y="172.26" width="8.27" height="6.27" fill="#da362a"/>
<rect x="201.53" y="172.26" width="8.27" height="6.27" fill="#feda86"/>
<rect x="209.55" y="172.26" width="8.27" height="6.27" fill="#da362a"/>
<rect x="217.57" y="172.26" width="8.27" height="6.27" fill="#c01a27"/>
<rect x="225.58" y="172.26" width="8.27" height="6.27" fill="#fdbf6f"/>
<rect x="41.2" y="178.28" width="88.43" height="6.27" fill="#006837"/>
<rect x="129.38" y="178.28" width="8.27" height="6.27" fill="#219c52"/>
<rect x="137.4" y="178.28" width="8.27" height="6.27" fill="#4bb05c"/>
<rect x="145.42" y="178.28" width="16.28" height="6.27" fill="#006837"/>
<rect x="161.45" y="178.28" width="8.27" height="6.27" fill="#fffebe"/>
<rect x="169.47" y="178.28" width="8.27" height="6.27" fill="#feeda1"/>
<rect x="177.48" y="178.28" width="8.27" height="6.27" fill="#73c264"/>
<rect x="185.5" y="178.28" width="8.27" height="6.27" fill="#006837"/>
<rect x="193.52" y="178.28" width="8.27" height="6.27" fill="#b7e075"/>
<rect x="201.53" y="178.28" width="8.27" height="6.27" fill="#ea5739"/>
<rect x="209.55" y="178.28" width="24.3" height="6.27" fill="#a50026"/>
<rect x="41.2" y="184.3" width="96.45" height="6.27" fill="#006837"/>
<rect x="137.4" y="184.3" width="16.28" height="6.27" fill="#006837"/>
<rect x="153.43" y="184.3" width="8.27" height="6.27" fill="#4bb05c"/>
<rect x="161.45" y="184.3" width="8.27" height="6.27" fill="#73c264"/>
<rect x="169.47" y="184.3" width="24.3" height="6.27" fill="#006837"/>
<rect x="193.52" y="184.3" width="8.27" height="6.27" fill="#b7e075"/>
<rect x="201.53" y="184.3" width="8.27" height="6.27" fill="#da362a"/>
<rect x="209.55" y="184.3" width="16.28" height="6.27" fill="#a50026"/>
<rect x="225.58" y="184.3" width="8.27" height="6.27" fill="#fdbf6f"/>
<rect x="41.2" y="190.32" width="96.45" height="6.27" fill="#006837"/>
<rect x="137.4" y="190.32" width="8.27" height="6.27" fill="#006837"/>
<rect x="145.42" y="190.32" width="16.28" height="6.27" fill="#98d368"/>
<rect x="161.45" y="190.32" width="8.27" height="6.27" fill="#b7e075"/>
<rect x="169.47" y="190.32" width="8.27" height="6.27" fill="#4bb05c"/>
<rect x="177.48" y="190.32" width="8.27" height="6.27" fill="#219c52"/>
<rect x="185.5" y="190.32" width="8.27" height="6.27" fill="#d3ec87"/>
<rect x="193.52" y="190.32" width="8.27" height="6.27" fill="#feeda1"/>
<rect x="201.53" y="190.32" width="8.27" height="6.27" fill="#fdbf6f"/>
<rect x="209.55" y="190.32" width="8.27" height="6.27" fill="#a50026"/>
<rect x="217.57" y="190.32" width="8.27" height="6.27" fill="#ea5739"/>
<rect x="225.58" y="190.32" width="8.27" height="6.27" fill="#fba05b"/>
<rect x="41.2" y="196.34" width="16.28" height="6.27" fill="#006837"/>
<rect x="57.23" y="196.34" width="8.27" height="6.27" fill="#219c52"/>
<rect x="65.25" y="196.34" width="72.4" height="6.27" fill="#006837"/>
<rect x="137.4" y="196.34" width="8.27" height="6.27" fill="#fffebe"/>
<rect x="145.42" y="196.34" width="8.27" height="6.27" fill="#98d368"/>
<rect x="153.43" y="196.34" width="8.27" height="6.27" fill="#219c52"/>
<rect x="161.45" y="196.34" width="8.27" height="6.27" fill="#73c264"/>
<rect x="169.47" y="196.34" width="8.27" height="6.27" fill="#e9f6a1"/>
<rect x="177.48" y="196.34" width="8.27" height="6.27" fill="#006837"/>
<rect x="185.5" y="196.34" width="8.27" height="6.27" fill="#b7e075"/>
<rect x="193.52" y="196.34" width="8.27" height="6.27" fill="#fffebe"/>
<rect x="201.53" y="196.34" width="16.28" height="6.27" fill="#a50026"/>
<rect x="217.57" y="196.34" width="16.28" height="6.27" fill="#da362a"/>
<rect x="41.2" y="202.36" width="16.28" height="6.27" fill="#006837"/>
<rect x="57.23" y="202.36" width="16.28" height="6.27" fill="#219c52"/>
<rect x="73.27" y="202.36" width="8.27" height="6.27" fill="#0e8245"/>
<rect x="81.28" y="202.36" width="32.32" height="6.27" fill="#006837"/>
<rect x="113.35" y="202.36" width="8.27" height="6.27" fill="#219c52"/>
<rect x="121.37" y="202.36" width="8.27" height="6.27" fill="#006837"/>
<rect x="129.38" y="202.36" width="8.27" height="6.27" fill="#98d368"/>
<rect x="137.4" y="202.36" width="8.27" height="6.27" fill="#4bb05c"/>
<rect x="145.42" y="202.36" width="16.28" height="6.27" fill="#006837"/>
<rect x="161.45" y="202.36" width="8.27" height="6.27" fill="#219c52"/>
<rect x="169.47" y="202.36" width="8.27" height="6.27" fill="#feeda1"/>
<rect x="177.48" y="202.36" width="16.28" height="6.27" fill="#006837"/>
<rect x="193.52" y="202.36" width="8.27" height="6.27" fill="#b7e075"/>
<rect x="201.53" y="202.36" width="16.28" height="6.27" fill="#a50026"/>
<rect x="217.57" y="202.36" width="16.28" height="6.27" fill="#da362a"/>
<rect x="41.2" y="208.38" width="8.27" height="6.27" fill="#0e8245"/>
<rect x="49.22" y="208.38" width="16.28" height="6.27" fill="#006837"/>
<rect x="65.25" y="208.38" width="8.27" height="6.27" fill="#0e8245"/>
<rect x="73.27" y="208.38" width="8.27" height="6.27" fill="#006837"/>
<rect x="81.28" y="208.38" width="16.28" height="6.27" fill="#b7e075"/>
<rect x="97.32" y="208.38" width="16.28" height="6.27" fill="#0e8245"/>
<rect x="113.35" y="208.38" width="8.27" height="6.27" fill="#fdbf6f"/>
<rect x="121.37" y="208.38" width="8.27" height="6.27" fill="#006837"/>
<rect x="129.38" y="208.38" width="8.27" height="6.27" fill="#fffebe"/>
<rect x="137.4" y="208.38" width="8.27" height="6.27" fill="#73c264"/>
<rect x="145.42" y="208.38" width="16.28" height="6.27" fill="#b7e075"/>
<rect x="161.45" y="208.38" width="8.27" height="6.27" fill="#4bb05c"/>
<rect x="169.47" y="208.38" width="8.27" height="6.27" fill="#73c264"/>
<rect x="177.48" y="208.38" width="8.27" height="6.27" fill="#4bb05c"/>
<rect x="185.5" y="208.38" width="8.27" height="6.27" fill="#006837"/>
<rect x="193.52" y="208.38" width="8.27" height="6.27" fill="#c01a27"/>
<rect x="201.53" y="208.38" width="16.28" height="6.27" fill="#a50026"/>
<rect x="217.57" y="208.38" width="16.28" height="6.27" fill="#c01a27"/>
<rect x="41.2" y="214.4" width="16.28" height="6.27" fill="#006837"/>
<rect x="57.23" y="214.4" width="24.3" height="6.27" fill="#006837"/>
<rect x="81.28" y="214.4" width="8.27" height="6.27" fill="#d3ec87"/>
<rect x="89.3" y="214.4" width="8.27" height="6.27" fill="#da362a"/>
<rect x="97.32" y="214.4" width="8.27" height="6.27" fill="#feeda1"/>
<rect x="105.33" y="214.4" width="8.27" height="6.27" fill="#fffebe"/>
<rect x="113.35" y="214.4" width="8.27" height="6.27" fill="#feda86"/>
<rect x="121.37" y="214.4" width="8.27" height="6.27" fill="#a50026"/>
<rect x="129.38" y="214.4" width="8.27" height="6.27" fill="#98d368"/>
<rect x="137.4" y="214.4" width="8.27" height="6.27" fill="#fffebe"/>
<rect x="145.42" y="214.4" width="8.27" height="6.27" fill="#da362a"/>
<rect x="153.43" y="214.4" width="16.28" height="6.27" fill="#c01a27"/>
<rect x="169.47" y="214.4" width="8.27" height="6.27" fill="#a50026"/>
<rect x="177.48" y="214.4" width="16.28" height="6.27" fill="#fffebe"/>
<rect x="193.52" y="214.4" width="8.27" height="6.27" fill="#a50026"/>
<rect x="201.53" y="214.4" width="8.27" height="6.27" fill="#da362a"/>
<rect x="209.55" y="214.4" width="8.27" height="6.27" fill="#a50026"/>
<rect x="217.57" y="214.4" width="8.27" height="6.27" fill="#c01a27"/>
<rect x="225.58" y="214.4" width="8.27" height="6.27" fill="#feda86"/>
<rect x="41.2" y="220.42" width="8.27" height="6.27" fill="#0e8245"/>
<rect x="49.22" y="220.42" width="8.27" height="6.27" fill="#006837"/>
<rect x="57.23" y="220.42" width="24.3" height="6.27" fill="#006837"/>
<rect x="81.28" y="220.42" width="8.27" height="6.27" fill="#e9f6a1"/>
<rect x="89.3" y="220.42" width="8.27" height="6.27" fill="#ea5739"/>
<rect x="97.32" y="220.42" width="8.27" height="6.27" fill="#006837"/>
<rect x="105.33" y="220.42" width="8.27" height="6.27" fill="#73c264"/>
<rect x="113.35" y="220.42" width="8.27" height="6.27" fill="#0e8245"/>
<rect x="121.37" y="220.42" width="8.27" height="6.27" fill="#a50026"/>
<rect x="129.38" y="220.42" width="8.27" height="6.27" fill="#fffebe"/>
<rect x="137.4" y="220.42" width="8.27" height="6.27" fill="#219c52"/>
<rect x="145.42" y="220.42" width="8.27" height="6.27" fill="#ea5739"/>
<rect x="153.43" y="220.42" width="16.28" height="6.27" fill="#c01a27"/>
<rect x="169.47" y="220.42" width="8.27" height="6.27" fill="#a50026"/>
<rect x="177.48" y="220.42" width="8.27" height="6.27" fill="#feeda1"/>
<rect x="185.5" y="220.42" width="8.27" height="6.27" fill="#c01a27"/>
<rect x="193.52" y="220.42" width="8.27" height="6.27" fill="#da362a"/>
<rect x="201.53" y="220.42" width="8.27" height="6.27" fill="#fdbf6f"/>
<rect x="209.55" y="220.42" width="8.27" height="6.27" fill="#a50026"/>
<rect x="217.57" y="220.42" width="8.27" height="6.27" fill="#ea5739"/>
<rect x="225.58" y="220.42" width="8.27" height="6.27" fill="#da362a"/>
<rect x="41.2" y="226.44" width="16.28" height="6.27" fill="#0e8245"/>
<rect x="57.23" y="226.44" width="32.32" height="6.27" fill="#006837"/>
<rect x="89.3" y="226.44" width="16.28" height="6.27" fill="#219c52"/>
<rect x="105.33" y="226.44" width="8.27" height="6.27" fill="#0e8245"/>
<rect x="113.35" y="226.44" width="8.27" height="6.27" fill="#b7e075"/>
<rect x="121.37" y="226.44" width="8.27" height="6.27" fill="#fba05b"/>
<rect x="129.38" y="226.44" width="8.27" height="6.27" fill="#a50026"/>
<rect x="137.4" y="226.44" width="8.27" height="6.27" fill="#219c52"/>
<rect x="145.42" y="226.44" width="8.27" height="6.27" fill="#fdbf6f"/>
<rect x="153.43" y="226.44" width="24.3" height="6.27" fill="#a50026"/>
<rect x="177.48" y="226.44" width="8.27" height="6.27" fill="#b7e075"/>
<rect x="185.5" y="226.44" width="16.28" height="6.27" fill="#ea5739"/>
<rect x="201.53" y="226.44" width="8.27" height="6.27" fill="#fba05b"/>
<rect x="209.55" y="226.44" width="8.27" height="6.27" fill="#a50026"/>
<rect x="217.57" y="226.44" width="8.27" height="6.27" fill="#da362a"/>
<rect x="225.58" y="226.44" width="8.27" height="6.27" fill="#c01a27"/>
<rect x="41.2" y="232.46" width="16.28" height="6.27" fill="#0e8245"/>
<rect x="57.23" y="232.46" width="8.27" height="6.27" fill="#219c52"/>
<rect x="65.25" y="232.46" width="16.28" height="6.27" fill="#0e8245"/>
<rect x="81.28" y="232.46" width="8.27" height="6.27" fill="#006837"/>
<rect x="89.3" y="232.46" width="8.27" height="6.27" fill="#98d368"/>
<rect x="97.32" y="232.46" width="8.27" height="6.27" fill="#fffebe"/>
<rect x="105.33" y="232.46" width="8.27" height="6.27" fill="#f67a49"/>
<rect x="113.35" y="232.46" width="8.27" height="6.27" fill="#fffebe"/>
<rect x="121.37" y="232.46" width="8.27" height="6.27" fill="#219c52"/>
<rect x="129.38" y="232.46" width="8.27" height="6.27" fill="#fdbf6f"/>
<rect x="137.4" y="232.46" width="8.27" height="6.27" fill="#d3ec87"/>
<rect x="145.42" y="232.46" width="8.27" height="6.27" fill="#feeda1"/>
<rect x="153.43" y="232.46" width="8.27" height="6.27" fill="#ea5739"/>
<rect x="161.45" y="232.46" width="16.28" height="6.27" fill="#a50026"/>
<rect x="177.48" y="232.46" width="8.27" height="6.27" fill="#e9f6a1"/>
<rect x="185.5" y="232.46" width="8.27" height="6.27" fill="#fdbf6f"/>
<rect x="193.52" y="232.46" width="16.28" height="6.27" fill="#a50026"/>
<rect x="209.55" y="232.46" width="8.27" height="6.27" fill="#c01a27"/>
<rect x="217.57" y="232.46" width="8.27" height="6.27" fill="#da362a"/>
<rect x="225.58" y="232.46" width="8.27" height="6.27" fill="#c01a27"/>
<rect x="41.2" y="238.48" width="8.27" height="6.27" fill="#006837"/>
<rect x="49.22" y="238.48" width="24.3" height="6.27" fill="#0e8245"/>
<rect x="73.27" y="238.48" width="8.27" height="6.27" fill="#006837"/>
<rect x="81.28" y="238.48" width="8.27" height="6.27" fill="#006837"/>
<rect x="89.3" y="238.48" width="8.27" height="6.27" fill="#98d368"/>
<rect x="97.32" y="238.48" width="8.27" height="6.27" fill="#fba05b"/>
<rect x="105.33" y="238.48" width="8.27" height="6.27" fill="#f67a49"/>
<rect x="113.35" y="238.48" width="8.27" height="6.27" fill="#fffebe"/>
<rect x="121.37" y="238.48" width="8.27" height="6.27" fill="#0e8245"/>
<rect x="129.38" y="238.48" width="8.27" height="6.27" fill="#fffebe"/>
<rect x="137.4" y="238.48" width="8.27" height="6.27" fill="#feeda1"/>
<rect x="145.42" y="238.48" width="8.27" height="6.27" fill="#feda86"/>
<rect x="153.43" y="238.48" width="24.3" height="6.27" fill="#a50026"/>
<rect x="177.48" y="238.48" width="8.27" height="6.27" fill="#c01a27"/>
<rect x="185.5" y="238.48" width="24.3" height="6.27" fill="#a50026"/>
<rect x="209.55" y="238.48" width="8.27" height="6.27" fill="#c01a27"/>
<rect x="217.57" y="238.48" width="8.27" height="6.27" fill="#feeda1"/>
<rect x="225.58" y="238.48" width="8.27" height="6.27" fill="#da362a"/>
<rect x="41.2" y="244.5" width="16.28" height="6.27" fill="#006837"/>
<rect x="57.23" y="244.5" width="32.32" height="6.27" fill="#0e8245"/>
<rect x="89.3" y="244.5" width="8.27" height="6.27" fill="#219c52"/>
<rect x="97.32" y="244.5" width="8.27" height="6.27" fill="#d3ec87"/>
<rect x="105.33" y="244.5" width="8.27" height="6.27" fill="#feeda1"/>
<rect x="113.35" y="244.5" width="8.27" height="6.27" fill="#219c52"/>
<rect x="121.37" y="244.5" width="8.27" height="6.27" fill="#006837"/>
<rect x="129.38" y="244.5" width="8.27" height="6.27" fill="#0e8245"/>
<rect x="137.4" y="244.5" width="8.27" height="6.27" fill="#da362a"/>
<rect x="145.42" y="244.5" width="8.27" height="6.27" fill="#feeda1"/>
<rect x="153.43" y="244.5" width="8.27" height="6.27" fill="#a50026"/>
<rect x="161.45" y="244.5" width="32.32" height="6.27" fill="#da362a"/>
<rect x="193.52" y="244.5" width="8.27" height="6.27" fill="#a50026"/>
<rect x="201.53" y="244.5" width="8.27" height="6.27" fill="#c01a27"/>
<rect x="209.55" y="244.5" width="8.27" height="6.27" fill="#fba05b"/>
<rect x="217.57" y="244.5" width="8.27" height="6.27" fill="#feda86"/>
<rect x="225.58" y="244.5" width="8.27" height="6.27" fill="#ea5739"/>
<rect x="41.2" y="250.52" width="48.35" height="6.27" fill="#006837"/>
<rect x="89.3" y="250.52" width="8.27" height="6.27" fill="#0e8245"/>
<rect x="97.32" y="250.52" width="8.27" height="6.27" fill="#219c52"/>
<rect x="105.33" y="250.52" width="8.27" height="6.27" fill="#d3ec87"/>
<rect x="113.35" y="250.52" width="8.27" height="6.27" fill="#0e8245"/>
<rect x="121.37" y="250.52" width="8.27" height="6.27" fill="#006837"/>
<rect x="129.38" y="250.52" width="8.27" height="6.27" fill="#b7e075"/>
<rect x="137.4" y="250.52" width="8.27" height="6.27" fill="#c01a27"/>
<rect x="145.42" y="250.52" width="8.27" height="6.27" fill="#a50026"/>
<rect x="153.43" y="250.52" width="8.27" height="6.27" fill="#c01a27"/>
<rect x="161.45" y="250.52" width="8.27" height="6.27" fill="#da362a"/>
<rect x="169.47" y="250.52" width="8.27" height="6.27" fill="#c01a27"/>
<rect x="177.48" y="250.52" width="8.27" height="6.27" fill="#da362a"/>
<rect x="185.5" y="250.52" width="8.27" height="6.27" fill="#ea5739"/>
<rect x="193.52" y="250.52" width="16.28" height="6.27" fill="#a50026"/>
<rect x="209.55" y="250.52" width="8.27" height="6.27" fill="#ea5739"/>
<rect x="217.57" y="250.52" width="8.27" height="6.27" fill="#fdbf6f"/>
<rect x="225.58" y="250.52" width="8.27" height="6.27" fill="#ea5739"/>
<rect x="41.2" y="256.54" width="48.35" height="6.27" fill="#006837"/>
<rect x="89.3" y="256.54" width="24.3" height="6.27" fill="#0e8245"/>
<rect x="113.35" y="256.54" width="8.27" height="6.27" fill="#219c52"/>
<rect x="121.37" y="256.54" width="8.27" height="6.27" fill="#b7e075"/>
<rect x="129.38" y="256.54" width="8.27" height="6.27" fill="#d3ec87"/>
<rect x="137.4" y="256.54" width="8.27" height="6.27" fill="#ea5739"/>
<rect x="145.42" y="256.54" width="8.27" height="6.27" fill="#c01a27"/>
<rect x="153.43" y="256.54" width="8.27" height="6.27" fill="#fdbf6f"/>
<rect x="161.45" y="256.54" width="8.27" height="6.27" fill="#fba05b"/>
<rect x="169.47" y="256.54" width="24.3" height="6.27" fill="#da362a"/>
<rect x="193.52" y="256.54" width="24.3" height="6.27" fill="#a50026"/>
<rect x="217.57" y="256.54" width="8.27" height="6.27" fill="#ea5739"/>
<rect x="225.58" y="256.54" width="8.27" height="6.27" fill="#da362a"/>
<rect x="41.2" y="262.56" width="72.4" height="6.27" fill="#006837"/>
<rect x="113.35" y="262.56" width="8.27" height="6.27" fill="#e9f6a1"/>
<rect x="121.37" y="262.56" width="8.27" height="6.27" fill="#fba05b"/>
<rect x="129.38" y="262.56" width="8.27" height="6.27" fill="#e9f6a1"/>
<rect x="137.4" y="262.56" width="8.27" height="6.27" fill="#4bb05c"/>
<rect x="145.42" y="262.56" width="8.27" height="6.27" fill="#d3ec87"/>
<rect x="153.43" y="262.56" width="8.27" height="6.27" fill="#b7e075"/>
<rect x="161.45" y="262.56" width="8.27" height="6.27" fill="#fffebe"/>
<rect x="169.47" y="262.56" width="8.27" height="6.27" fill="#da362a"/>
<rect x="177.48" y="262.56" width="8.27" height="6.27" fill="#c01a27"/>
<rect x="185.5" y="262.56" width="8.27" height="6.27" fill="#da362a"/>
<rect x="193.52" y="262.56" width="24.3" height="6.27" fill="#a50026"/>
<rect x="217.57" y="262.56" width="8.27" height="6.27" fill="#ea5739"/>
<rect x="225.58" y="262.56" width="8.27" height="6.27" fill="#c01a27"/>
<rect x="41.2" y="268.58" width="72.4" height="6.27" fill="#006837"/>
<rect x="113.35" y="268.58" width="16.28" height="6.27" fill="#d3ec87"/>
<rect x="129.38" y="268.58" width="8.27" height="6.27" fill="#b7e075"/>
<rect x="137.4" y="268.58" width="8.27" height="6.27" fill="#fffebe"/>
<rect x="145.42" y="268.58" width="8.27" height="6.27" fill="#73c264"/>
<rect x="153.43" y="268.58" width="8.27" height="6.27" fill="#fffebe"/>
<rect x="161.45" y="268.58" width="8.27" height="6.27" fill="#fdbf6f"/>
<rect x="169.47" y="268.58" width="24.3" height="6.27" fill="#da362a"/>
<rect x="193.52" y="268.58" width="24.3" height="6.27" fill="#a50026"/>
<rect x="217.57" y="268.58" width="8.27" height="6.27" fill="#ea5739"/>
<rect x="225.58" y="268.58" width="8.27" height="6.27" fill="#feeda1"/>
<path d="M49.22 157v114.9M57.23 157v114.9M65.25 157v114.9M73.27 157v114.9M81.28 157v114.9M89.3 157v114.9M97.32 157v114.9M105.33 157v114.9M113.35 157v114.9M121.37 157v114.9M129.38 157v114.9M137.4 157v114.9M145.42 157v114.9M153.43 157v114.9M161.45 157v114.9M169.47 157v114.9M177.48 157v114.9M185.5 157v114.9M193.52 157v114.9M201.53 157v114.9M209.55 157v114.9M217.57 157v114.9M225.58 157v114.9M41.2 160.22h192.4M41.2 166.24h192.4M41.2 172.26h192.4M41.2 178.28h192.4M41.2 184.3h192.4M41.2 190.32h192.4M41.2 196.34h192.4M41.2 202.36h192.4M41.2 208.38h192.4M41.2 214.4h192.4M41.2 220.42h192.4M41.2 226.44h192.4M41.2 232.46h192.4M41.2 238.48h192.4M41.2 244.5h192.4M41.2 250.52h192.4M41.2 256.54h192.4M41.2 262.56h192.4M41.2 268.58h192.4" stroke="#fff" stroke-opacity="0.10" stroke-width="0.5" fill="none"/>
</g>
<g clip-path="url(#cpc)" fill="none" stroke="#000" stroke-width="0.9" stroke-linejoin="round" stroke-linecap="round">
<path d="M42.6 157.7 L44.9 160.4 L47.7 163.6 L50.5 166 L52.4 169.3 L54.8 171.6 L58.1 172.4 L60.9 171.4 L62.7 170.9 L65.1 171.8 L67.9 171.1 L70.7 172.5 L73.1 174.4 L72.1 176.8 L70.7 179.1 L69.3 181.2 L71.7 182.4 L74 184"/>
<path d="M72.6 157.4 L74.9 159.4 L76.8 161.8 L77.3 165 L76.8 169.7 L76.2 174.4 L75.4 179.1 L74.5 183.8"/>
<path d="M74 184 L70.7 183.8 L67 185.2 L63.2 186.6 L59.5 188.5 L56.2 190.4 L54.8 192.7 L53.8 195.5 L52.9 197.9 L53.4 199.8 L51 201.2 L49.6 202.6 L49.1 204.4 L48.2 205.8 L49.1 208.2 L50.5 210.5 L52.4 212.9 L53.8 214.6 L52.9 216.9 L57.1 218.4 L59.9 221.4 L65.6 221.4 L70.2 217.9 L70.7 222.1 L70.5 227.3 L73.1 228.2 L76.3 227.3 L80.1 227.7 L84.3 227.7 L87.1 224.9 L90.7 223.5 L91.5 222.6 L94.3 220.7 L96.2 218.4 L100 217.9 L103.2 218.8 L106.1 216 L110.3 214.6 L112.6 211.5 L116.8 208.2 L119.7 208.2 L122.5 210.5 L125.8 213.4 L128.1 212.9 L138.7 212.9 L146.6 212.9 L148.4 211 L149.4 205.4 L148.4 202.6 L147.5 199.8 L150.8 194.1 L154.1 187.6 L156.9 181 L159.2 175.4 L160.6 171.6 L157.3 169.3 L152.6 166.9 L148.9 164.1 L146.1 160.8 L144.7 157.7"/>
<path d="M49.6 202.8 L54.8 204 L59.5 205.4 L65.1 207.3 L70.7 208.7 L75.4 211 L80.1 212.9 L82.4 214.3 L88.7 217.4 L94.3 220.7"/>
<path d="M121.1 157.5 L122.5 160.4 L122 162.7 L124.3 164.6 L126.7 166 L128.1 163.6 L127.6 161.3 L130 159.9 L132.8 161.3 L134.7 159.4 L137.5 158 L139.2 157.2"/>
<path d="M148.4 202.6 L150.8 206.3 L152.6 211 L154.1 214.6 L156.4 216.5 L161.1 217.9 L169.5 218.4 L178.9 218.8 L186.7 219.1 L192.2 219.5 L198.8 220"/>
<path d="M128.1 212.9 L127.2 214.6 L127.6 220.2 L127.6 227.3 L132.8 227.7 L137.5 228.7 L137.2 232.4 L138.6 236.2 L136.7 239.5 L136.6 240.9 L133.7 244.6"/>
<path d="M103.2 218.8 L103.2 224 L103.5 230.5 L106.1 233.4 L109.3 236.6 L115.9 237.6 L120.6 240.4 L126.2 242.7 L130 243.2 L133.7 244.6 L135.1 248.4 L135.6 252.1 L134.2 254.9 L135.1 258.2 L137 260.6 L138.7 261 L148.4 261 L148.9 265.3 L150.8 269 L154.1 271.4 L156.9 269 L160.6 267.6 L164.8 268.1 L167.7 269.9 L171.4 270.9 L175.2 269.9 L177.5 268.1 L178 270.9"/>
<path d="M209.6 191.3 L211.9 193.2 L212.8 195.1 L211 197.9 L208.2 200.7 L205.8 203.5 L205.3 207.3 L205.8 211 L203.5 214.6 L200.6 217.4 L198.8 220 L197.4 224 L196.4 228.7 L196.4 233.4 L196.9 237.6 L197.8 239.5 L196.4 242.7 L195 247.4 L194.1 251.2 L191.3 254 L189.4 257.3 L186.6 259.6 L183.6 264.3 L181.7 268.1 L180.3 268.6 L180.6 271.6"/>
<path d="M226 165 L225 169.7 L223.2 175.4 L220.3 181 L216.6 185.7 L211.9 189 L209.6 191.3"/>
<path d="M211.9 190.4 L215.7 191.8 L217.5 194.1 L218 197.9 L216.6 202.6 L217.5 205.4 L219.9 207.7 L222.2 208.7 L223.2 211 L220.8 214.6 L222.7 217.4 L225 220.7 L227.4 223.5 L225 225.9 L223.6 229.1 L225 232 L224.6 235.2 L225.5 239.2 L225 242.7 L225.5 246.5 L226.9 250.2 L226 253.1 L223.2 251.7 L221.3 254 L220.8 257.3 L218.9 258.7 L217.5 261.5 L218.9 264.3 L217.5 267.6 L218.5 271.4"/>
<path d="M197.8 239.5 L199.7 237.1 L201.6 240.4 L204.4 241.3 L206.7 238.1 L209.1 241.8 L212.8 241.3 L215.7 242.3 L220.3 240.9 L225 239.2"/>
<path d="M231.6 205.4 L228.8 210.1 L226.9 214.6 L228.3 218.4 L227.4 223.5"/>
<path d="M227.4 223.5 L230.7 224.4 L233 226.8"/>
<path d="M226 253.1 L229.7 252.1 L233 250.7"/>
<path d="M212.9 256.5 L217.3 256.3 L218 258.1 L217.3 260 L212.9 260.1 L212.3 258.3 L212.9 256.5"/>
<path d="M211.4 166 L212.8 162.7 L216.6 161.3 L222.2 162.7 L226.9 165 L231.6 166.9 L233.3 166.5"/>
<path d="M182.6 157.2 L185.2 160.9 L187.8 164.6 L185.2 167.2 L186.9 167 L188.3 165.9 L191 162.5 L192.5 159.9 L191.3 163 L190.1 165.6"/>
<path d="M192.5 159.9 L194.1 158 L194.9 157.1"/>
<path d="M196.9 158.1 L196 162.2 L196.9 166 L198.8 168.3 L202.1 168.8 L204.9 168.3 L207.2 166 L210.5 163.6 L211.4 160.8 L210 157.8"/>
<path d="M205.3 168.3 L203.9 173.5"/>
<path d="M41.7 255.6 L46.3 258.7 L52 261 L57.6 263.4 L62.3 266.7 L65.1 269.9 L66 271.8"/>
<path d="M76.3 227.3 L79.2 232 L82 237.1 L81 242.7 L80.6 248.8 L78.2 253.1 L79.2 255.4 L77.3 257.8 L79.2 260.6 L80.1 263.4 L77.8 268.1 L75.4 271.8"/>
</g>
<g stroke="#000" stroke-width="1" fill="none">
<path d="M73.25 271.9 v3.2"/>
<path d="M105.3 271.9 v3.2"/>
<path d="M137.35 271.9 v3.2"/>
<path d="M169.4 271.9 v3.2"/>
<path d="M201.45 271.9 v3.2"/>
<path d="M41.2 189.05 h-3.2"/>
<path d="M41.2 221.1 h-3.2"/>
<path d="M41.2 253.15 h-3.2"/>
</g>
<rect x="41.2" y="157" width="192.4" height="114.9" fill="none" stroke="#000" stroke-width="1.25"/>
<text x="33.6" y="191.95" text-anchor="end" class="tk">5°S</text>
<text x="33.6" y="224" text-anchor="end" class="tk">10°S</text>
<text x="33.6" y="256.05" text-anchor="end" class="tk">15°S</text>
<text x="233.7" y="150.4" text-anchor="end" class="tt">WEG 2040</text>
<rect x="302.9" y="157" width="192.4" height="114.9" fill="#006837"/>
<g clip-path="url(#cpd)">
<rect x="302.9" y="154.2" width="96.45" height="6.27" fill="#006837"/>
<rect x="399.1" y="154.2" width="24.3" height="6.27" fill="#006837"/>
<rect x="423.15" y="154.2" width="8.27" height="6.27" fill="#006837"/>
<rect x="431.17" y="154.2" width="8.27" height="6.27" fill="#219c52"/>
<rect x="439.18" y="154.2" width="8.27" height="6.27" fill="#4bb05c"/>
<rect x="447.2" y="154.2" width="16.28" height="6.27" fill="#006837"/>
<rect x="463.23" y="154.2" width="8.27" height="6.27" fill="#219c52"/>
<rect x="471.25" y="154.2" width="8.27" height="6.27" fill="#fffebe"/>
<rect x="479.27" y="154.2" width="8.27" height="6.27" fill="#f67a49"/>
<rect x="487.28" y="154.2" width="8.27" height="6.27" fill="#73c264"/>
<rect x="302.9" y="160.22" width="96.45" height="6.27" fill="#006837"/>
<rect x="399.1" y="160.22" width="8.27" height="6.27" fill="#006837"/>
<rect x="407.12" y="160.22" width="16.28" height="6.27" fill="#006837"/>
<rect x="423.15" y="160.22" width="8.27" height="6.27" fill="#006837"/>
<rect x="431.17" y="160.22" width="8.27" height="6.27" fill="#219c52"/>
<rect x="439.18" y="160.22" width="8.27" height="6.27" fill="#4bb05c"/>
<rect x="447.2" y="160.22" width="8.27" height="6.27" fill="#006837"/>
<rect x="455.22" y="160.22" width="8.27" height="6.27" fill="#006837"/>
<rect x="463.23" y="160.22" width="8.27" height="6.27" fill="#006837"/>
<rect x="471.25" y="160.22" width="8.27" height="6.27" fill="#98d368"/>
<rect x="479.27" y="160.22" width="8.27" height="6.27" fill="#da362a"/>
<rect x="487.28" y="160.22" width="8.27" height="6.27" fill="#fba05b"/>
<rect x="302.9" y="166.24" width="96.45" height="6.27" fill="#006837"/>
<rect x="399.1" y="166.24" width="8.27" height="6.27" fill="#219c52"/>
<rect x="407.12" y="166.24" width="16.28" height="6.27" fill="#006837"/>
<rect x="423.15" y="166.24" width="8.27" height="6.27" fill="#006837"/>
<rect x="431.17" y="166.24" width="8.27" height="6.27" fill="#73c264"/>
<rect x="439.18" y="166.24" width="32.32" height="6.27" fill="#006837"/>
<rect x="471.25" y="166.24" width="8.27" height="6.27" fill="#feeda1"/>
<rect x="479.27" y="166.24" width="8.27" height="6.27" fill="#da362a"/>
<rect x="487.28" y="166.24" width="8.27" height="6.27" fill="#feeda1"/>
<rect x="302.9" y="172.26" width="96.45" height="6.27" fill="#006837"/>
<rect x="399.1" y="172.26" width="8.27" height="6.27" fill="#98d368"/>
<rect x="407.12" y="172.26" width="8.27" height="6.27" fill="#219c52"/>
<rect x="415.13" y="172.26" width="8.27" height="6.27" fill="#006837"/>
<rect x="423.15" y="172.26" width="8.27" height="6.27" fill="#006837"/>
<rect x="431.17" y="172.26" width="8.27" height="6.27" fill="#006837"/>
<rect x="439.18" y="172.26" width="8.27" height="6.27" fill="#4bb05c"/>
<rect x="447.2" y="172.26" width="8.27" height="6.27" fill="#fffebe"/>
<rect x="455.22" y="172.26" width="8.27" height="6.27" fill="#73c264"/>
<rect x="463.23" y="172.26" width="8.27" height="6.27" fill="#4bb05c"/>
<rect x="471.25" y="172.26" width="8.27" height="6.27" fill="#d3ec87"/>
<rect x="479.27" y="172.26" width="8.27" height="6.27" fill="#fba05b"/>
<rect x="487.28" y="172.26" width="8.27" height="6.27" fill="#feeda1"/>
<rect x="302.9" y="178.28" width="96.45" height="6.27" fill="#006837"/>
<rect x="399.1" y="178.28" width="24.3" height="6.27" fill="#006837"/>
<rect x="423.15" y="178.28" width="8.27" height="6.27" fill="#73c264"/>
<rect x="431.17" y="178.28" width="16.28" height="6.27" fill="#4bb05c"/>
<rect x="447.2" y="178.28" width="8.27" height="6.27" fill="#006837"/>
<rect x="455.22" y="178.28" width="8.27" height="6.27" fill="#219c52"/>
<rect x="463.23" y="178.28" width="8.27" height="6.27" fill="#feeda1"/>
<rect x="471.25" y="178.28" width="8.27" height="6.27" fill="#fba05b"/>
<rect x="479.27" y="178.28" width="16.28" height="6.27" fill="#c01a27"/>
<rect x="302.9" y="184.3" width="96.45" height="6.27" fill="#006837"/>
<rect x="399.1" y="184.3" width="24.3" height="6.27" fill="#006837"/>
<rect x="423.15" y="184.3" width="8.27" height="6.27" fill="#219c52"/>
<rect x="431.17" y="184.3" width="24.3" height="6.27" fill="#006837"/>
<rect x="455.22" y="184.3" width="8.27" height="6.27" fill="#219c52"/>
<rect x="463.23" y="184.3" width="8.27" height="6.27" fill="#feeda1"/>
<rect x="471.25" y="184.3" width="8.27" height="6.27" fill="#da362a"/>
<rect x="479.27" y="184.3" width="8.27" height="6.27" fill="#c01a27"/>
<rect x="487.28" y="184.3" width="8.27" height="6.27" fill="#fdbf6f"/>
<rect x="302.9" y="190.32" width="96.45" height="6.27" fill="#006837"/>
<rect x="399.1" y="190.32" width="32.32" height="6.27" fill="#006837"/>
<rect x="431.17" y="190.32" width="16.28" height="6.27" fill="#219c52"/>
<rect x="447.2" y="190.32" width="8.27" height="6.27" fill="#98d368"/>
<rect x="455.22" y="190.32" width="8.27" height="6.27" fill="#b7e075"/>
<rect x="463.23" y="190.32" width="8.27" height="6.27" fill="#feeda1"/>
<rect x="471.25" y="190.32" width="8.27" height="6.27" fill="#da362a"/>
<rect x="479.27" y="190.32" width="8.27" height="6.27" fill="#ea5739"/>
<rect x="487.28" y="190.32" width="8.27" height="6.27" fill="#fba05b"/>
<rect x="302.9" y="196.34" width="96.45" height="6.27" fill="#006837"/>
<rect x="399.1" y="196.34" width="8.27" height="6.27" fill="#006837"/>
<rect x="407.12" y="196.34" width="24.3" height="6.27" fill="#006837"/>
<rect x="431.17" y="196.34" width="8.27" height="6.27" fill="#98d368"/>
<rect x="439.18" y="196.34" width="8.27" height="6.27" fill="#006837"/>
<rect x="447.2" y="196.34" width="8.27" height="6.27" fill="#4bb05c"/>
<rect x="455.22" y="196.34" width="8.27" height="6.27" fill="#b7e075"/>
<rect x="463.23" y="196.34" width="8.27" height="6.27" fill="#da362a"/>
<rect x="471.25" y="196.34" width="8.27" height="6.27" fill="#c01a27"/>
<rect x="479.27" y="196.34" width="8.27" height="6.27" fill="#ea5739"/>
<rect x="487.28" y="196.34" width="8.27" height="6.27" fill="#f67a49"/>
<rect x="302.9" y="202.36" width="16.28" height="6.27" fill="#006837"/>
<rect x="318.93" y="202.36" width="16.28" height="6.27" fill="#0e8245"/>
<rect x="334.97" y="202.36" width="8.27" height="6.27" fill="#006837"/>
<rect x="342.98" y="202.36" width="48.35" height="6.27" fill="#006837"/>
<rect x="391.08" y="202.36" width="8.27" height="6.27" fill="#0e8245"/>
<rect x="399.1" y="202.36" width="32.32" height="6.27" fill="#006837"/>
<rect x="431.17" y="202.36" width="8.27" height="6.27" fill="#98d368"/>
<rect x="439.18" y="202.36" width="8.27" height="6.27" fill="#006837"/>
<rect x="447.2" y="202.36" width="8.27" height="6.27" fill="#006837"/>
<rect x="455.22" y="202.36" width="8.27" height="6.27" fill="#73c264"/>
<rect x="463.23" y="202.36" width="8.27" height="6.27" fill="#ea5739"/>
<rect x="471.25" y="202.36" width="8.27" height="6.27" fill="#da362a"/>
<rect x="479.27" y="202.36" width="8.27" height="6.27" fill="#ea5739"/>
<rect x="487.28" y="202.36" width="8.27" height="6.27" fill="#da362a"/>
<rect x="302.9" y="208.38" width="40.33" height="6.27" fill="#006837"/>
<rect x="342.98" y="208.38" width="8.27" height="6.27" fill="#0e8245"/>
<rect x="351" y="208.38" width="8.27" height="6.27" fill="#219c52"/>
<rect x="359.02" y="208.38" width="16.28" height="6.27" fill="#006837"/>
<rect x="375.05" y="208.38" width="8.27" height="6.27" fill="#98d368"/>
<rect x="383.07" y="208.38" width="8.27" height="6.27" fill="#0e8245"/>
<rect x="391.08" y="208.38" width="8.27" height="6.27" fill="#006837"/>
<rect x="399.1" y="208.38" width="8.27" height="6.27" fill="#219c52"/>
<rect x="407.12" y="208.38" width="16.28" height="6.27" fill="#006837"/>
<rect x="423.15" y="208.38" width="24.3" height="6.27" fill="#219c52"/>
<rect x="447.2" y="208.38" width="8.27" height="6.27" fill="#006837"/>
<rect x="455.22" y="208.38" width="8.27" height="6.27" fill="#fffebe"/>
<rect x="463.23" y="208.38" width="8.27" height="6.27" fill="#ea5739"/>
<rect x="471.25" y="208.38" width="8.27" height="6.27" fill="#c01a27"/>
<rect x="479.27" y="208.38" width="8.27" height="6.27" fill="#ea5739"/>
<rect x="487.28" y="208.38" width="8.27" height="6.27" fill="#da362a"/>
<rect x="302.9" y="214.4" width="16.28" height="6.27" fill="#006837"/>
<rect x="318.93" y="214.4" width="24.3" height="6.27" fill="#006837"/>
<rect x="342.98" y="214.4" width="8.27" height="6.27" fill="#0e8245"/>
<rect x="351" y="214.4" width="8.27" height="6.27" fill="#feeda1"/>
<rect x="359.02" y="214.4" width="8.27" height="6.27" fill="#fffebe"/>
<rect x="367.03" y="214.4" width="8.27" height="6.27" fill="#219c52"/>
<rect x="375.05" y="214.4" width="8.27" height="6.27" fill="#98d368"/>
<rect x="383.07" y="214.4" width="8.27" height="6.27" fill="#feda86"/>
<rect x="391.08" y="214.4" width="8.27" height="6.27" fill="#0e8245"/>
<rect x="399.1" y="214.4" width="8.27" height="6.27" fill="#219c52"/>
<rect x="407.12" y="214.4" width="8.27" height="6.27" fill="#e9f6a1"/>
<rect x="415.13" y="214.4" width="8.27" height="6.27" fill="#fba05b"/>
<rect x="423.15" y="214.4" width="8.27" height="6.27" fill="#f67a49"/>
<rect x="431.17" y="214.4" width="8.27" height="6.27" fill="#ea5739"/>
<rect x="439.18" y="214.4" width="8.27" height="6.27" fill="#4bb05c"/>
<rect x="447.2" y="214.4" width="8.27" height="6.27" fill="#73c264"/>
<rect x="455.22" y="214.4" width="8.27" height="6.27" fill="#da362a"/>
<rect x="463.23" y="214.4" width="8.27" height="6.27" fill="#f67a49"/>
<rect x="471.25" y="214.4" width="8.27" height="6.27" fill="#c01a27"/>
<rect x="479.27" y="214.4" width="8.27" height="6.27" fill="#ea5739"/>
<rect x="487.28" y="214.4" width="8.27" height="6.27" fill="#feeda1"/>
<rect x="302.9" y="220.42" width="8.27" height="6.27" fill="#0e8245"/>
<rect x="310.92" y="220.42" width="8.27" height="6.27" fill="#006837"/>
<rect x="318.93" y="220.42" width="24.3" height="6.27" fill="#006837"/>
<rect x="342.98" y="220.42" width="8.27" height="6.27" fill="#b7e075"/>
<rect x="351" y="220.42" width="8.27" height="6.27" fill="#fffebe"/>
<rect x="359.02" y="220.42" width="8.27" height="6.27" fill="#006837"/>
<rect x="367.03" y="220.42" width="16.28" height="6.27" fill="#219c52"/>
<rect x="383.07" y="220.42" width="8.27" height="6.27" fill="#da362a"/>
<rect x="391.08" y="220.42" width="8.27" height="6.27" fill="#d3ec87"/>
<rect x="399.1" y="220.42" width="8.27" height="6.27" fill="#006837"/>
<rect x="407.12" y="220.42" width="16.28" height="6.27" fill="#b7e075"/>
<rect x="423.15" y="220.42" width="8.27" height="6.27" fill="#fffebe"/>
<rect x="431.17" y="220.42" width="8.27" height="6.27" fill="#da362a"/>
<rect x="439.18" y="220.42" width="8.27" height="6.27" fill="#4bb05c"/>
<rect x="447.2" y="220.42" width="8.27" height="6.27" fill="#fba05b"/>
<rect x="455.22" y="220.42" width="8.27" height="6.27" fill="#ea5739"/>
<rect x="463.23" y="220.42" width="8.27" height="6.27" fill="#fba05b"/>
<rect x="471.25" y="220.42" width="8.27" height="6.27" fill="#c01a27"/>
<rect x="479.27" y="220.42" width="16.28" height="6.27" fill="#fba05b"/>
<rect x="302.9" y="226.44" width="16.28" height="6.27" fill="#0e8245"/>
<rect x="318.93" y="226.44" width="32.32" height="6.27" fill="#006837"/>
<rect x="351" y="226.44" width="16.28" height="6.27" fill="#219c52"/>
<rect x="367.03" y="226.44" width="8.27" height="6.27" fill="#0e8245"/>
<rect x="375.05" y="226.44" width="8.27" height="6.27" fill="#98d368"/>
<rect x="383.07" y="226.44" width="8.27" height="6.27" fill="#feeda1"/>
<rect x="391.08" y="226.44" width="8.27" height="6.27" fill="#fdbf6f"/>
<rect x="399.1" y="226.44" width="8.27" height="6.27" fill="#006837"/>
<rect x="407.12" y="226.44" width="8.27" height="6.27" fill="#b7e075"/>
<rect x="415.13" y="226.44" width="8.27" height="6.27" fill="#d3ec87"/>
<rect x="423.15" y="226.44" width="8.27" height="6.27" fill="#fdbf6f"/>
<rect x="431.17" y="226.44" width="8.27" height="6.27" fill="#fba05b"/>
<rect x="439.18" y="226.44" width="8.27" height="6.27" fill="#219c52"/>
<rect x="447.2" y="226.44" width="8.27" height="6.27" fill="#fffebe"/>
<rect x="455.22" y="226.44" width="8.27" height="6.27" fill="#ea5739"/>
<rect x="463.23" y="226.44" width="8.27" height="6.27" fill="#f67a49"/>
<rect x="471.25" y="226.44" width="8.27" height="6.27" fill="#a50026"/>
<rect x="479.27" y="226.44" width="16.28" height="6.27" fill="#ea5739"/>
<rect x="302.9" y="232.46" width="16.28" height="6.27" fill="#0e8245"/>
<rect x="318.93" y="232.46" width="8.27" height="6.27" fill="#219c52"/>
<rect x="326.95" y="232.46" width="8.27" height="6.27" fill="#0e8245"/>
<rect x="334.97" y="232.46" width="8.27" height="6.27" fill="#006837"/>
<rect x="342.98" y="232.46" width="8.27" height="6.27" fill="#006837"/>
<rect x="351" y="232.46" width="8.27" height="6.27" fill="#98d368"/>
<rect x="359.02" y="232.46" width="8.27" height="6.27" fill="#fffebe"/>
<rect x="367.03" y="232.46" width="8.27" height="6.27" fill="#feeda1"/>
<rect x="375.05" y="232.46" width="8.27" height="6.27" fill="#b7e075"/>
<rect x="383.07" y="232.46" width="8.27" height="6.27" fill="#0e8245"/>
<rect x="391.08" y="232.46" width="8.27" height="6.27" fill="#d3ec87"/>
<rect x="399.1" y="232.46" width="8.27" height="6.27" fill="#73c264"/>
<rect x="407.12" y="232.46" width="8.27" height="6.27" fill="#98d368"/>
<rect x="415.13" y="232.46" width="8.27" height="6.27" fill="#b7e075"/>
<rect x="423.15" y="232.46" width="8.27" height="6.27" fill="#ea5739"/>
<rect x="431.17" y="232.46" width="8.27" height="6.27" fill="#fdbf6f"/>
<rect x="439.18" y="232.46" width="8.27" height="6.27" fill="#4bb05c"/>
<rect x="447.2" y="232.46" width="8.27" height="6.27" fill="#fdbf6f"/>
<rect x="455.22" y="232.46" width="8.27" height="6.27" fill="#c01a27"/>
<rect x="463.23" y="232.46" width="8.27" height="6.27" fill="#da362a"/>
<rect x="471.25" y="232.46" width="8.27" height="6.27" fill="#ea5739"/>
<rect x="479.27" y="232.46" width="8.27" height="6.27" fill="#f67a49"/>
<rect x="487.28" y="232.46" width="8.27" height="6.27" fill="#da362a"/>
<rect x="302.9" y="238.48" width="8.27" height="6.27" fill="#006837"/>
<rect x="310.92" y="238.48" width="24.3" height="6.27" fill="#0e8245"/>
<rect x="334.97" y="238.48" width="8.27" height="6.27" fill="#006837"/>
<rect x="342.98" y="238.48" width="8.27" height="6.27" fill="#006837"/>
<rect x="351" y="238.48" width="8.27" height="6.27" fill="#98d368"/>
<rect x="359.02" y="238.48" width="8.27" height="6.27" fill="#fba05b"/>
<rect x="367.03" y="238.48" width="8.27" height="6.27" fill="#f67a49"/>
<rect x="375.05" y="238.48" width="8.27" height="6.27" fill="#fffebe"/>
<rect x="383.07" y="238.48" width="8.27" height="6.27" fill="#0e8245"/>
<rect x="391.08" y="238.48" width="8.27" height="6.27" fill="#b7e075"/>
<rect x="399.1" y="238.48" width="8.27" height="6.27" fill="#d3ec87"/>
<rect x="407.12" y="238.48" width="8.27" height="6.27" fill="#feeda1"/>
<rect x="415.13" y="238.48" width="8.27" height="6.27" fill="#f67a49"/>
<rect x="423.15" y="238.48" width="8.27" height="6.27" fill="#ea5739"/>
<rect x="431.17" y="238.48" width="8.27" height="6.27" fill="#f67a49"/>
<rect x="439.18" y="238.48" width="8.27" height="6.27" fill="#fba05b"/>
<rect x="447.2" y="238.48" width="8.27" height="6.27" fill="#c01a27"/>
<rect x="455.22" y="238.48" width="8.27" height="6.27" fill="#ea5739"/>
<rect x="463.23" y="238.48" width="8.27" height="6.27" fill="#c01a27"/>
<rect x="471.25" y="238.48" width="8.27" height="6.27" fill="#fba05b"/>
<rect x="479.27" y="238.48" width="8.27" height="6.27" fill="#fffebe"/>
<rect x="487.28" y="238.48" width="8.27" height="6.27" fill="#ea5739"/>
<rect x="302.9" y="244.5" width="16.28" height="6.27" fill="#006837"/>
<rect x="318.93" y="244.5" width="32.32" height="6.27" fill="#0e8245"/>
<rect x="351" y="244.5" width="8.27" height="6.27" fill="#219c52"/>
<rect x="359.02" y="244.5" width="8.27" height="6.27" fill="#d3ec87"/>
<rect x="367.03" y="244.5" width="8.27" height="6.27" fill="#feeda1"/>
<rect x="375.05" y="244.5" width="8.27" height="6.27" fill="#0e8245"/>
<rect x="383.07" y="244.5" width="8.27" height="6.27" fill="#006837"/>
<rect x="391.08" y="244.5" width="8.27" height="6.27" fill="#0e8245"/>
<rect x="399.1" y="244.5" width="8.27" height="6.27" fill="#feeda1"/>
<rect x="407.12" y="244.5" width="8.27" height="6.27" fill="#d3ec87"/>
<rect x="415.13" y="244.5" width="8.27" height="6.27" fill="#da362a"/>
<rect x="423.15" y="244.5" width="8.27" height="6.27" fill="#fba05b"/>
<rect x="431.17" y="244.5" width="8.27" height="6.27" fill="#f67a49"/>
<rect x="439.18" y="244.5" width="8.27" height="6.27" fill="#fba05b"/>
<rect x="447.2" y="244.5" width="8.27" height="6.27" fill="#f67a49"/>
<rect x="455.22" y="244.5" width="16.28" height="6.27" fill="#da362a"/>
<rect x="471.25" y="244.5" width="8.27" height="6.27" fill="#fba05b"/>
<rect x="479.27" y="244.5" width="8.27" height="6.27" fill="#feeda1"/>
<rect x="487.28" y="244.5" width="8.27" height="6.27" fill="#f67a49"/>
<rect x="302.9" y="250.52" width="48.35" height="6.27" fill="#006837"/>
<rect x="351" y="250.52" width="8.27" height="6.27" fill="#0e8245"/>
<rect x="359.02" y="250.52" width="8.27" height="6.27" fill="#219c52"/>
<rect x="367.03" y="250.52" width="8.27" height="6.27" fill="#b7e075"/>
<rect x="375.05" y="250.52" width="8.27" height="6.27" fill="#0e8245"/>
<rect x="383.07" y="250.52" width="8.27" height="6.27" fill="#006837"/>
<rect x="391.08" y="250.52" width="8.27" height="6.27" fill="#98d368"/>
<rect x="399.1" y="250.52" width="8.27" height="6.27" fill="#fdbf6f"/>
<rect x="407.12" y="250.52" width="8.27" height="6.27" fill="#c01a27"/>
<rect x="415.13" y="250.52" width="16.28" height="6.27" fill="#ea5739"/>
<rect x="431.17" y="250.52" width="16.28" height="6.27" fill="#f67a49"/>
<rect x="447.2" y="250.52" width="8.27" height="6.27" fill="#fba05b"/>
<rect x="455.22" y="250.52" width="16.28" height="6.27" fill="#c01a27"/>
<rect x="471.25" y="250.52" width="8.27" height="6.27" fill="#f67a49"/>
<rect x="479.27" y="250.52" width="8.27" height="6.27" fill="#fdbf6f"/>
<rect x="487.28" y="250.52" width="8.27" height="6.27" fill="#fba05b"/>
<rect x="302.9" y="256.54" width="48.35" height="6.27" fill="#006837"/>
<rect x="351" y="256.54" width="24.3" height="6.27" fill="#0e8245"/>
<rect x="375.05" y="256.54" width="8.27" height="6.27" fill="#219c52"/>
<rect x="383.07" y="256.54" width="8.27" height="6.27" fill="#98d368"/>
<rect x="391.08" y="256.54" width="8.27" height="6.27" fill="#b7e075"/>
<rect x="399.1" y="256.54" width="8.27" height="6.27" fill="#d3ec87"/>
<rect x="407.12" y="256.54" width="8.27" height="6.27" fill="#ea5739"/>
<rect x="415.13" y="256.54" width="8.27" height="6.27" fill="#fba05b"/>
<rect x="423.15" y="256.54" width="8.27" height="6.27" fill="#f67a49"/>
<rect x="431.17" y="256.54" width="16.28" height="6.27" fill="#ea5739"/>
<rect x="447.2" y="256.54" width="8.27" height="6.27" fill="#f67a49"/>
<rect x="455.22" y="256.54" width="8.27" height="6.27" fill="#da362a"/>
<rect x="463.23" y="256.54" width="8.27" height="6.27" fill="#a50026"/>
<rect x="471.25" y="256.54" width="8.27" height="6.27" fill="#c01a27"/>
<rect x="479.27" y="256.54" width="8.27" height="6.27" fill="#f67a49"/>
<rect x="487.28" y="256.54" width="8.27" height="6.27" fill="#da362a"/>
<rect x="302.9" y="262.56" width="72.4" height="6.27" fill="#006837"/>
<rect x="375.05" y="262.56" width="8.27" height="6.27" fill="#d3ec87"/>
<rect x="383.07" y="262.56" width="8.27" height="6.27" fill="#fba05b"/>
<rect x="391.08" y="262.56" width="8.27" height="6.27" fill="#e9f6a1"/>
<rect x="399.1" y="262.56" width="8.27" height="6.27" fill="#4bb05c"/>
<rect x="407.12" y="262.56" width="8.27" height="6.27" fill="#d3ec87"/>
<rect x="415.13" y="262.56" width="8.27" height="6.27" fill="#b7e075"/>
<rect x="423.15" y="262.56" width="8.27" height="6.27" fill="#fffebe"/>
<rect x="431.17" y="262.56" width="16.28" height="6.27" fill="#ea5739"/>
<rect x="447.2" y="262.56" width="8.27" height="6.27" fill="#f67a49"/>
<rect x="455.22" y="262.56" width="8.27" height="6.27" fill="#da362a"/>
<rect x="463.23" y="262.56" width="8.27" height="6.27" fill="#a50026"/>
<rect x="471.25" y="262.56" width="8.27" height="6.27" fill="#c01a27"/>
<rect x="479.27" y="262.56" width="8.27" height="6.27" fill="#fba05b"/>
<rect x="487.28" y="262.56" width="8.27" height="6.27" fill="#da362a"/>
<rect x="302.9" y="268.58" width="72.4" height="6.27" fill="#006837"/>
<rect x="375.05" y="268.58" width="8.27" height="6.27" fill="#b7e075"/>
<rect x="383.07" y="268.58" width="8.27" height="6.27" fill="#d3ec87"/>
<rect x="391.08" y="268.58" width="8.27" height="6.27" fill="#b7e075"/>
<rect x="399.1" y="268.58" width="8.27" height="6.27" fill="#fffebe"/>
<rect x="407.12" y="268.58" width="8.27" height="6.27" fill="#73c264"/>
<rect x="415.13" y="268.58" width="8.27" height="6.27" fill="#e9f6a1"/>
<rect x="423.15" y="268.58" width="8.27" height="6.27" fill="#fdbf6f"/>
<rect x="431.17" y="268.58" width="16.28" height="6.27" fill="#ea5739"/>
<rect x="447.2" y="268.58" width="8.27" height="6.27" fill="#f67a49"/>
<rect x="455.22" y="268.58" width="8.27" height="6.27" fill="#c01a27"/>
<rect x="463.23" y="268.58" width="8.27" height="6.27" fill="#a50026"/>
<rect x="471.25" y="268.58" width="8.27" height="6.27" fill="#c01a27"/>
<rect x="479.27" y="268.58" width="8.27" height="6.27" fill="#f67a49"/>
<rect x="487.28" y="268.58" width="8.27" height="6.27" fill="#feeda1"/>
<path d="M310.92 157v114.9M318.93 157v114.9M326.95 157v114.9M334.97 157v114.9M342.98 157v114.9M351 157v114.9M359.02 157v114.9M367.03 157v114.9M375.05 157v114.9M383.07 157v114.9M391.08 157v114.9M399.1 157v114.9M407.12 157v114.9M415.13 157v114.9M423.15 157v114.9M431.17 157v114.9M439.18 157v114.9M447.2 157v114.9M455.22 157v114.9M463.23 157v114.9M471.25 157v114.9M479.27 157v114.9M487.28 157v114.9M302.9 160.22h192.4M302.9 166.24h192.4M302.9 172.26h192.4M302.9 178.28h192.4M302.9 184.3h192.4M302.9 190.32h192.4M302.9 196.34h192.4M302.9 202.36h192.4M302.9 208.38h192.4M302.9 214.4h192.4M302.9 220.42h192.4M302.9 226.44h192.4M302.9 232.46h192.4M302.9 238.48h192.4M302.9 244.5h192.4M302.9 250.52h192.4M302.9 256.54h192.4M302.9 262.56h192.4M302.9 268.58h192.4" stroke="#fff" stroke-opacity="0.10" stroke-width="0.5" fill="none"/>
</g>
<g clip-path="url(#cpd)" fill="none" stroke="#000" stroke-width="0.9" stroke-linejoin="round" stroke-linecap="round">
<path d="M304.3 157.7 L306.6 160.4 L309.4 163.6 L312.2 166 L314.1 169.3 L316.5 171.6 L319.8 172.4 L322.6 171.4 L324.4 170.9 L326.8 171.8 L329.6 171.1 L332.4 172.5 L334.8 174.4 L333.8 176.8 L332.4 179.1 L331 181.2 L333.4 182.4 L335.7 184"/>
<path d="M334.3 157.4 L336.6 159.4 L338.5 161.8 L339 165 L338.5 169.7 L337.9 174.4 L337.1 179.1 L336.2 183.8"/>
<path d="M335.7 184 L332.4 183.8 L328.7 185.2 L324.9 186.6 L321.2 188.5 L317.9 190.4 L316.5 192.7 L315.5 195.5 L314.6 197.9 L315.1 199.8 L312.7 201.2 L311.3 202.6 L310.8 204.4 L309.9 205.8 L310.8 208.2 L312.2 210.5 L314.1 212.9 L315.5 214.6 L314.6 216.9 L318.8 218.4 L321.6 221.4 L327.3 221.4 L331.9 217.9 L332.4 222.1 L332.2 227.3 L334.8 228.2 L338 227.3 L341.8 227.7 L346 227.7 L348.8 224.9 L352.4 223.5 L353.2 222.6 L356 220.7 L357.9 218.4 L361.7 217.9 L364.9 218.8 L367.8 216 L372 214.6 L374.3 211.5 L378.5 208.2 L381.4 208.2 L384.2 210.5 L387.5 213.4 L389.8 212.9 L400.4 212.9 L408.3 212.9 L410.1 211 L411.1 205.4 L410.1 202.6 L409.2 199.8 L412.5 194.1 L415.8 187.6 L418.6 181 L420.9 175.4 L422.3 171.6 L419 169.3 L414.3 166.9 L410.6 164.1 L407.8 160.8 L406.4 157.7"/>
<path d="M311.3 202.8 L316.5 204 L321.2 205.4 L326.8 207.3 L332.4 208.7 L337.1 211 L341.8 212.9 L344.1 214.3 L350.4 217.4 L356 220.7"/>
<path d="M382.8 157.5 L384.2 160.4 L383.7 162.7 L386 164.6 L388.4 166 L389.8 163.6 L389.3 161.3 L391.7 159.9 L394.5 161.3 L396.4 159.4 L399.2 158 L400.9 157.2"/>
<path d="M410.1 202.6 L412.5 206.3 L414.3 211 L415.8 214.6 L418.1 216.5 L422.8 217.9 L431.2 218.4 L440.6 218.8 L448.4 219.1 L453.9 219.5 L460.5 220"/>
<path d="M389.8 212.9 L388.9 214.6 L389.3 220.2 L389.3 227.3 L394.5 227.7 L399.2 228.7 L398.9 232.4 L400.3 236.2 L398.4 239.5 L398.3 240.9 L395.4 244.6"/>
<path d="M364.9 218.8 L364.9 224 L365.2 230.5 L367.8 233.4 L371 236.6 L377.6 237.6 L382.3 240.4 L387.9 242.7 L391.7 243.2 L395.4 244.6 L396.8 248.4 L397.3 252.1 L395.9 254.9 L396.8 258.2 L398.7 260.6 L400.4 261 L410.1 261 L410.6 265.3 L412.5 269 L415.8 271.4 L418.6 269 L422.3 267.6 L426.5 268.1 L429.4 269.9 L433.1 270.9 L436.9 269.9 L439.2 268.1 L439.7 270.9"/>
<path d="M471.3 191.3 L473.6 193.2 L474.5 195.1 L472.7 197.9 L469.9 200.7 L467.5 203.5 L467 207.3 L467.5 211 L465.2 214.6 L462.3 217.4 L460.5 220 L459.1 224 L458.1 228.7 L458.1 233.4 L458.6 237.6 L459.5 239.5 L458.1 242.7 L456.7 247.4 L455.8 251.2 L453 254 L451.1 257.3 L448.3 259.6 L445.3 264.3 L443.4 268.1 L442 268.6 L442.3 271.6"/>
<path d="M487.7 165 L486.7 169.7 L484.9 175.4 L482 181 L478.3 185.7 L473.6 189 L471.3 191.3"/>
<path d="M473.6 190.4 L477.4 191.8 L479.2 194.1 L479.7 197.9 L478.3 202.6 L479.2 205.4 L481.6 207.7 L483.9 208.7 L484.9 211 L482.5 214.6 L484.4 217.4 L486.7 220.7 L489.1 223.5 L486.7 225.9 L485.3 229.1 L486.7 232 L486.3 235.2 L487.2 239.2 L486.7 242.7 L487.2 246.5 L488.6 250.2 L487.7 253.1 L484.9 251.7 L483 254 L482.5 257.3 L480.6 258.7 L479.2 261.5 L480.6 264.3 L479.2 267.6 L480.2 271.4"/>
<path d="M459.5 239.5 L461.4 237.1 L463.3 240.4 L466.1 241.3 L468.4 238.1 L470.8 241.8 L474.5 241.3 L477.4 242.3 L482 240.9 L486.7 239.2"/>
<path d="M493.3 205.4 L490.5 210.1 L488.6 214.6 L490 218.4 L489.1 223.5"/>
<path d="M489.1 223.5 L492.4 224.4 L494.7 226.8"/>
<path d="M487.7 253.1 L491.4 252.1 L494.7 250.7"/>
<path d="M474.6 256.5 L479 256.3 L479.7 258.1 L479 260 L474.6 260.1 L474 258.3 L474.6 256.5"/>
<path d="M473.1 166 L474.5 162.7 L478.3 161.3 L483.9 162.7 L488.6 165 L493.3 166.9 L495 166.5"/>
<path d="M444.3 157.2 L446.9 160.9 L449.5 164.6 L446.9 167.2 L448.6 167 L450 165.9 L452.7 162.5 L454.2 159.9 L453 163 L451.8 165.6"/>
<path d="M454.2 159.9 L455.8 158 L456.6 157.1"/>
<path d="M458.6 158.1 L457.7 162.2 L458.6 166 L460.5 168.3 L463.8 168.8 L466.6 168.3 L468.9 166 L472.2 163.6 L473.1 160.8 L471.7 157.8"/>
<path d="M467 168.3 L465.6 173.5"/>
<path d="M303.4 255.6 L308 258.7 L313.7 261 L319.3 263.4 L324 266.7 L326.8 269.9 L327.7 271.8"/>
<path d="M338 227.3 L340.9 232 L343.7 237.1 L342.7 242.7 L342.3 248.8 L339.9 253.1 L340.9 255.4 L339 257.8 L340.9 260.6 L341.8 263.4 L339.5 268.1 L337.1 271.8"/>
</g>
<g stroke="#000" stroke-width="1" fill="none">
<path d="M334.95 271.9 v3.2"/>
<path d="M367 271.9 v3.2"/>
<path d="M399.05 271.9 v3.2"/>
<path d="M431.1 271.9 v3.2"/>
<path d="M463.15 271.9 v3.2"/>
<path d="M302.9 189.05 h-3.2"/>
<path d="M302.9 221.1 h-3.2"/>
<path d="M302.9 253.15 h-3.2"/>
</g>
<rect x="302.9" y="157" width="192.4" height="114.9" fill="none" stroke="#000" stroke-width="1.25"/>
<text x="495.4" y="150.4" text-anchor="end" class="tt">SEG 2040</text>
<rect x="41.2" y="296.4" width="192.4" height="114.9" fill="#006837"/>
<g clip-path="url(#cpe)">
<rect x="41.2" y="293.6" width="88.43" height="6.27" fill="#006837"/>
<rect x="129.38" y="293.6" width="8.27" height="6.27" fill="#006837"/>
<rect x="137.4" y="293.6" width="8.27" height="6.27" fill="#4bb05c"/>
<rect x="145.42" y="293.6" width="8.27" height="6.27" fill="#219c52"/>
<rect x="153.43" y="293.6" width="8.27" height="6.27" fill="#006837"/>
<rect x="161.45" y="293.6" width="8.27" height="6.27" fill="#98d368"/>
<rect x="169.47" y="293.6" width="8.27" height="6.27" fill="#fffebe"/>
<rect x="177.48" y="293.6" width="16.28" height="6.27" fill="#b7e075"/>
<rect x="193.52" y="293.6" width="16.28" height="6.27" fill="#fffebe"/>
<rect x="209.55" y="293.6" width="8.27" height="6.27" fill="#da362a"/>
<rect x="217.57" y="293.6" width="8.27" height="6.27" fill="#c01a27"/>
<rect x="225.58" y="293.6" width="8.27" height="6.27" fill="#fffebe"/>
<rect x="41.2" y="299.62" width="96.45" height="6.27" fill="#006837"/>
<rect x="137.4" y="299.62" width="8.27" height="6.27" fill="#b7e075"/>
<rect x="145.42" y="299.62" width="8.27" height="6.27" fill="#4bb05c"/>
<rect x="153.43" y="299.62" width="8.27" height="6.27" fill="#006837"/>
<rect x="161.45" y="299.62" width="8.27" height="6.27" fill="#b7e075"/>
<rect x="169.47" y="299.62" width="8.27" height="6.27" fill="#fffebe"/>
<rect x="177.48" y="299.62" width="8.27" height="6.27" fill="#d3ec87"/>
<rect x="185.5" y="299.62" width="8.27" height="6.27" fill="#b7e075"/>
<rect x="193.52" y="299.62" width="16.28" height="6.27" fill="#fffebe"/>
<rect x="209.55" y="299.62" width="8.27" height="6.27" fill="#da362a"/>
<rect x="217.57" y="299.62" width="16.28" height="6.27" fill="#a50026"/>
<rect x="41.2" y="305.64" width="96.45" height="6.27" fill="#006837"/>
<rect x="137.4" y="305.64" width="8.27" height="6.27" fill="#ea5739"/>
<rect x="145.42" y="305.64" width="8.27" height="6.27" fill="#e9f6a1"/>
<rect x="153.43" y="305.64" width="8.27" height="6.27" fill="#4bb05c"/>
<rect x="161.45" y="305.64" width="8.27" height="6.27" fill="#feeda1"/>
<rect x="169.47" y="305.64" width="8.27" height="6.27" fill="#feda86"/>
<rect x="177.48" y="305.64" width="8.27" height="6.27" fill="#fffebe"/>
<rect x="185.5" y="305.64" width="8.27" height="6.27" fill="#73c264"/>
<rect x="193.52" y="305.64" width="8.27" height="6.27" fill="#d3ec87"/>
<rect x="201.53" y="305.64" width="8.27" height="6.27" fill="#feeda1"/>
<rect x="209.55" y="305.64" width="16.28" height="6.27" fill="#a50026"/>
<rect x="225.58" y="305.64" width="8.27" height="6.27" fill="#fba05b"/>
<rect x="41.2" y="311.66" width="72.4" height="6.27" fill="#006837"/>
<rect x="113.35" y="311.66" width="8.27" height="6.27" fill="#219c52"/>
<rect x="121.37" y="311.66" width="8.27" height="6.27" fill="#0e8245"/>
<rect x="129.38" y="311.66" width="8.27" height="6.27" fill="#d3ec87"/>
<rect x="137.4" y="311.66" width="8.27" height="6.27" fill="#da362a"/>
<rect x="145.42" y="311.66" width="8.27" height="6.27" fill="#fdbf6f"/>
<rect x="153.43" y="311.66" width="8.27" height="6.27" fill="#4bb05c"/>
<rect x="161.45" y="311.66" width="8.27" height="6.27" fill="#e9f6a1"/>
<rect x="169.47" y="311.66" width="8.27" height="6.27" fill="#feeda1"/>
<rect x="177.48" y="311.66" width="24.3" height="6.27" fill="#a50026"/>
<rect x="201.53" y="311.66" width="8.27" height="6.27" fill="#fba05b"/>
<rect x="209.55" y="311.66" width="16.28" height="6.27" fill="#a50026"/>
<rect x="225.58" y="311.66" width="8.27" height="6.27" fill="#feda86"/>
<rect x="41.2" y="317.68" width="32.32" height="6.27" fill="#006837"/>
<rect x="73.27" y="317.68" width="8.27" height="6.27" fill="#98d368"/>
<rect x="81.28" y="317.68" width="8.27" height="6.27" fill="#0e8245"/>
<rect x="89.3" y="317.68" width="24.3" height="6.27" fill="#006837"/>
<rect x="113.35" y="317.68" width="8.27" height="6.27" fill="#73c264"/>
<rect x="121.37" y="317.68" width="8.27" height="6.27" fill="#0e8245"/>
<rect x="129.38" y="317.68" width="8.27" height="6.27" fill="#d3ec87"/>
<rect x="137.4" y="317.68" width="8.27" height="6.27" fill="#b7e075"/>
<rect x="145.42" y="317.68" width="8.27" height="6.27" fill="#219c52"/>
<rect x="153.43" y="317.68" width="8.27" height="6.27" fill="#006837"/>
<rect x="161.45" y="317.68" width="8.27" height="6.27" fill="#fffebe"/>
<rect x="169.47" y="317.68" width="8.27" height="6.27" fill="#feeda1"/>
<rect x="177.48" y="317.68" width="8.27" height="6.27" fill="#b7e075"/>
<rect x="185.5" y="317.68" width="8.27" height="6.27" fill="#4bb05c"/>
<rect x="193.52" y="317.68" width="8.27" height="6.27" fill="#d3ec87"/>
<rect x="201.53" y="317.68" width="8.27" height="6.27" fill="#ea5739"/>
<rect x="209.55" y="317.68" width="24.3" height="6.27" fill="#a50026"/>
<rect x="41.2" y="323.7" width="80.42" height="6.27" fill="#006837"/>
<rect x="121.37" y="323.7" width="8.27" height="6.27" fill="#006837"/>
<rect x="129.38" y="323.7" width="8.27" height="6.27" fill="#0e8245"/>
<rect x="137.4" y="323.7" width="16.28" height="6.27" fill="#006837"/>
<rect x="153.43" y="323.7" width="16.28" height="6.27" fill="#b7e075"/>
<rect x="169.47" y="323.7" width="24.3" height="6.27" fill="#006837"/>
<rect x="193.52" y="323.7" width="8.27" height="6.27" fill="#b7e075"/>
<rect x="201.53" y="323.7" width="8.27" height="6.27" fill="#da362a"/>
<rect x="209.55" y="323.7" width="16.28" height="6.27" fill="#a50026"/>
<rect x="225.58" y="323.7" width="8.27" height="6.27" fill="#fdbf6f"/>
<rect x="41.2" y="329.72" width="80.42" height="6.27" fill="#006837"/>
<rect x="121.37" y="329.72" width="16.28" height="6.27" fill="#0e8245"/>
<rect x="137.4" y="329.72" width="8.27" height="6.27" fill="#4bb05c"/>
<rect x="145.42" y="329.72" width="8.27" height="6.27" fill="#fffebe"/>
<rect x="153.43" y="329.72" width="8.27" height="6.27" fill="#e9f6a1"/>
<rect x="161.45" y="329.72" width="8.27" height="6.27" fill="#feda86"/>
<rect x="169.47" y="329.72" width="8.27" height="6.27" fill="#73c264"/>
<rect x="177.48" y="329.72" width="8.27" height="6.27" fill="#4bb05c"/>
<rect x="185.5" y="329.72" width="8.27" height="6.27" fill="#fffebe"/>
<rect x="193.52" y="329.72" width="8.27" height="6.27" fill="#feda86"/>
<rect x="201.53" y="329.72" width="8.27" height="6.27" fill="#fdbf6f"/>
<rect x="209.55" y="329.72" width="8.27" height="6.27" fill="#a50026"/>
<rect x="217.57" y="329.72" width="8.27" height="6.27" fill="#da362a"/>
<rect x="225.58" y="329.72" width="8.27" height="6.27" fill="#c01a27"/>
<rect x="41.2" y="335.74" width="16.28" height="6.27" fill="#006837"/>
<rect x="57.23" y="335.74" width="8.27" height="6.27" fill="#98d368"/>
<rect x="65.25" y="335.74" width="8.27" height="6.27" fill="#0e8245"/>
<rect x="73.27" y="335.74" width="48.35" height="6.27" fill="#006837"/>
<rect x="121.37" y="335.74" width="8.27" height="6.27" fill="#0e8245"/>
<rect x="129.38" y="335.74" width="8.27" height="6.27" fill="#219c52"/>
<rect x="137.4" y="335.74" width="8.27" height="6.27" fill="#ea5739"/>
<rect x="145.42" y="335.74" width="8.27" height="6.27" fill="#d3ec87"/>
<rect x="153.43" y="335.74" width="8.27" height="6.27" fill="#219c52"/>
<rect x="161.45" y="335.74" width="8.27" height="6.27" fill="#e9f6a1"/>
<rect x="169.47" y="335.74" width="8.27" height="6.27" fill="#fffebe"/>
<rect x="177.48" y="335.74" width="8.27" height="6.27" fill="#006837"/>
<rect x="185.5" y="335.74" width="8.27" height="6.27" fill="#d3ec87"/>
<rect x="193.52" y="335.74" width="8.27" height="6.27" fill="#feeda1"/>
<rect x="201.53" y="335.74" width="16.28" height="6.27" fill="#a50026"/>
<rect x="217.57" y="335.74" width="16.28" height="6.27" fill="#c01a27"/>
<rect x="41.2" y="341.76" width="16.28" height="6.27" fill="#006837"/>
<rect x="57.23" y="341.76" width="8.27" height="6.27" fill="#d3ec87"/>
<rect x="65.25" y="341.76" width="16.28" height="6.27" fill="#b7e075"/>
<rect x="81.28" y="341.76" width="32.32" height="6.27" fill="#006837"/>
<rect x="113.35" y="341.76" width="8.27" height="6.27" fill="#219c52"/>
<rect x="121.37" y="341.76" width="8.27" height="6.27" fill="#0e8245"/>
<rect x="129.38" y="341.76" width="8.27" height="6.27" fill="#b7e075"/>
<rect x="137.4" y="341.76" width="8.27" height="6.27" fill="#d3ec87"/>
<rect x="145.42" y="341.76" width="16.28" height="6.27" fill="#006837"/>
<rect x="161.45" y="341.76" width="8.27" height="6.27" fill="#4bb05c"/>
<rect x="169.47" y="341.76" width="8.27" height="6.27" fill="#feda86"/>
<rect x="177.48" y="341.76" width="16.28" height="6.27" fill="#006837"/>
<rect x="193.52" y="341.76" width="8.27" height="6.27" fill="#d3ec87"/>
<rect x="201.53" y="341.76" width="24.3" height="6.27" fill="#a50026"/>
<rect x="225.58" y="341.76" width="8.27" height="6.27" fill="#c01a27"/>
<rect x="41.2" y="347.78" width="8.27" height="6.27" fill="#0e8245"/>
<rect x="49.22" y="347.78" width="16.28" height="6.27" fill="#006837"/>
<rect x="65.25" y="347.78" width="16.28" height="6.27" fill="#219c52"/>
<rect x="81.28" y="347.78" width="8.27" height="6.27" fill="#fffebe"/>
<rect x="89.3" y="347.78" width="8.27" height="6.27" fill="#d3ec87"/>
<rect x="97.32" y="347.78" width="8.27" height="6.27" fill="#73c264"/>
<rect x="105.33" y="347.78" width="8.27" height="6.27" fill="#219c52"/>
<rect x="113.35" y="347.78" width="8.27" height="6.27" fill="#fba05b"/>
<rect x="121.37" y="347.78" width="8.27" height="6.27" fill="#0e8245"/>
<rect x="129.38" y="347.78" width="8.27" height="6.27" fill="#fffebe"/>
<rect x="137.4" y="347.78" width="8.27" height="6.27" fill="#b7e075"/>
<rect x="145.42" y="347.78" width="8.27" height="6.27" fill="#e9f6a1"/>
<rect x="153.43" y="347.78" width="8.27" height="6.27" fill="#d3ec87"/>
<rect x="161.45" y="347.78" width="8.27" height="6.27" fill="#73c264"/>
<rect x="169.47" y="347.78" width="8.27" height="6.27" fill="#98d368"/>
<rect x="177.48" y="347.78" width="8.27" height="6.27" fill="#4bb05c"/>
<rect x="185.5" y="347.78" width="8.27" height="6.27" fill="#006837"/>
<rect x="193.52" y="347.78" width="40.33" height="6.27" fill="#a50026"/>
<rect x="41.2" y="353.8" width="16.28" height="6.27" fill="#006837"/>
<rect x="57.23" y="353.8" width="24.3" height="6.27" fill="#006837"/>
<rect x="81.28" y="353.8" width="8.27" height="6.27" fill="#fffebe"/>
<rect x="89.3" y="353.8" width="8.27" height="6.27" fill="#a50026"/>
<rect x="97.32" y="353.8" width="8.27" height="6.27" fill="#feeda1"/>
<rect x="105.33" y="353.8" width="8.27" height="6.27" fill="#feda86"/>
<rect x="113.35" y="353.8" width="8.27" height="6.27" fill="#fba05b"/>
<rect x="121.37" y="353.8" width="8.27" height="6.27" fill="#a50026"/>
<rect x="129.38" y="353.8" width="8.27" height="6.27" fill="#fffebe"/>
<rect x="137.4" y="353.8" width="8.27" height="6.27" fill="#fdbf6f"/>
<rect x="145.42" y="353.8" width="8.27" height="6.27" fill="#c01a27"/>
<rect x="153.43" y="353.8" width="24.3" height="6.27" fill="#a50026"/>
<rect x="177.48" y="353.8" width="16.28" height="6.27" fill="#fffebe"/>
<rect x="193.52" y="353.8" width="8.27" height="6.27" fill="#a50026"/>
<rect x="201.53" y="353.8" width="8.27" height="6.27" fill="#c01a27"/>
<rect x="209.55" y="353.8" width="16.28" height="6.27" fill="#a50026"/>
<rect x="225.58" y="353.8" width="8.27" height="6.27" fill="#fba05b"/>
<rect x="41.2" y="359.82" width="8.27" height="6.27" fill="#0e8245"/>
<rect x="49.22" y="359.82" width="8.27" height="6.27" fill="#006837"/>
<rect x="57.23" y="359.82" width="16.28" height="6.27" fill="#006837"/>
<rect x="73.27" y="359.82" width="8.27" height="6.27" fill="#006837"/>
<rect x="81.28" y="359.82" width="8.27" height="6.27" fill="#e9f6a1"/>
<rect x="89.3" y="359.82" width="8.27" height="6.27" fill="#a50026"/>
<rect x="97.32" y="359.82" width="8.27" height="6.27" fill="#006837"/>
<rect x="105.33" y="359.82" width="8.27" height="6.27" fill="#b7e075"/>
<rect x="113.35" y="359.82" width="8.27" height="6.27" fill="#219c52"/>
<rect x="121.37" y="359.82" width="8.27" height="6.27" fill="#a50026"/>
<rect x="129.38" y="359.82" width="8.27" height="6.27" fill="#fffebe"/>
<rect x="137.4" y="359.82" width="8.27" height="6.27" fill="#4bb05c"/>
<rect x="145.42" y="359.82" width="8.27" height="6.27" fill="#da362a"/>
<rect x="153.43" y="359.82" width="24.3" height="6.27" fill="#a50026"/>
<rect x="177.48" y="359.82" width="8.27" height="6.27" fill="#fdbf6f"/>
<rect x="185.5" y="359.82" width="16.28" height="6.27" fill="#c01a27"/>
<rect x="201.53" y="359.82" width="8.27" height="6.27" fill="#fdbf6f"/>
<rect x="209.55" y="359.82" width="8.27" height="6.27" fill="#a50026"/>
<rect x="217.57" y="359.82" width="8.27" height="6.27" fill="#c01a27"/>
<rect x="225.58" y="359.82" width="8.27" height="6.27" fill="#fba05b"/>
<rect x="41.2" y="365.84" width="16.28" height="6.27" fill="#0e8245"/>
<rect x="57.23" y="365.84" width="32.32" height="6.27" fill="#006837"/>
<rect x="89.3" y="365.84" width="16.28" height="6.27" fill="#219c52"/>
<rect x="105.33" y="365.84" width="8.27" height="6.27" fill="#0e8245"/>
<rect x="113.35" y="365.84" width="8.27" height="6.27" fill="#d3ec87"/>
<rect x="121.37" y="365.84" width="8.27" height="6.27" fill="#f67a49"/>
<rect x="129.38" y="365.84" width="8.27" height="6.27" fill="#a50026"/>
<rect x="137.4" y="365.84" width="8.27" height="6.27" fill="#4bb05c"/>
<rect x="145.42" y="365.84" width="8.27" height="6.27" fill="#fdbf6f"/>
<rect x="153.43" y="365.84" width="24.3" height="6.27" fill="#a50026"/>
<rect x="177.48" y="365.84" width="8.27" height="6.27" fill="#b7e075"/>
<rect x="185.5" y="365.84" width="8.27" height="6.27" fill="#da362a"/>
<rect x="193.52" y="365.84" width="8.27" height="6.27" fill="#c01a27"/>
<rect x="201.53" y="365.84" width="8.27" height="6.27" fill="#fba05b"/>
<rect x="209.55" y="365.84" width="24.3" height="6.27" fill="#a50026"/>
<rect x="41.2" y="371.86" width="16.28" height="6.27" fill="#0e8245"/>
<rect x="57.23" y="371.86" width="8.27" height="6.27" fill="#219c52"/>
<rect x="65.25" y="371.86" width="8.27" height="6.27" fill="#0e8245"/>
<rect x="73.27" y="371.86" width="8.27" height="6.27" fill="#006837"/>
<rect x="81.28" y="371.86" width="8.27" height="6.27" fill="#006837"/>
<rect x="89.3" y="371.86" width="8.27" height="6.27" fill="#98d368"/>
<rect x="97.32" y="371.86" width="8.27" height="6.27" fill="#fffebe"/>
<rect x="105.33" y="371.86" width="8.27" height="6.27" fill="#a50026"/>
<rect x="113.35" y="371.86" width="8.27" height="6.27" fill="#b7e075"/>
<rect x="121.37" y="371.86" width="8.27" height="6.27" fill="#73c264"/>
<rect x="129.38" y="371.86" width="8.27" height="6.27" fill="#fba05b"/>
<rect x="137.4" y="371.86" width="8.27" height="6.27" fill="#fffebe"/>
<rect x="145.42" y="371.86" width="8.27" height="6.27" fill="#feda86"/>
<rect x="153.43" y="371.86" width="8.27" height="6.27" fill="#da362a"/>
<rect x="161.45" y="371.86" width="16.28" height="6.27" fill="#a50026"/>
<rect x="177.48" y="371.86" width="8.27" height="6.27" fill="#d3ec87"/>
<rect x="185.5" y="371.86" width="8.27" height="6.27" fill="#fba05b"/>
<rect x="193.52" y="371.86" width="40.33" height="6.27" fill="#a50026"/>
<rect x="41.2" y="377.88" width="8.27" height="6.27" fill="#006837"/>
<rect x="49.22" y="377.88" width="24.3" height="6.27" fill="#0e8245"/>
<rect x="73.27" y="377.88" width="8.27" height="6.27" fill="#006837"/>
<rect x="81.28" y="377.88" width="8.27" height="6.27" fill="#006837"/>
<rect x="89.3" y="377.88" width="8.27" height="6.27" fill="#98d368"/>
<rect x="97.32" y="377.88" width="8.27" height="6.27" fill="#fba05b"/>
<rect x="105.33" y="377.88" width="8.27" height="6.27" fill="#f67a49"/>
<rect x="113.35" y="377.88" width="8.27" height="6.27" fill="#fffebe"/>
<rect x="121.37" y="377.88" width="8.27" height="6.27" fill="#219c52"/>
<rect x="129.38" y="377.88" width="8.27" height="6.27" fill="#feda86"/>
<rect x="137.4" y="377.88" width="16.28" height="6.27" fill="#fdbf6f"/>
<rect x="153.43" y="377.88" width="64.38" height="6.27" fill="#a50026"/>
<rect x="217.57" y="377.88" width="8.27" height="6.27" fill="#fdbf6f"/>
<rect x="225.58" y="377.88" width="8.27" height="6.27" fill="#a50026"/>
<rect x="41.2" y="383.9" width="16.28" height="6.27" fill="#006837"/>
<rect x="57.23" y="383.9" width="32.32" height="6.27" fill="#0e8245"/>
<rect x="89.3" y="383.9" width="8.27" height="6.27" fill="#73c264"/>
<rect x="97.32" y="383.9" width="8.27" height="6.27" fill="#d3ec87"/>
<rect x="105.33" y="383.9" width="8.27" height="6.27" fill="#feda86"/>
<rect x="113.35" y="383.9" width="8.27" height="6.27" fill="#73c264"/>
<rect x="121.37" y="383.9" width="8.27" height="6.27" fill="#0e8245"/>
<rect x="129.38" y="383.9" width="8.27" height="6.27" fill="#219c52"/>
<rect x="137.4" y="383.9" width="8.27" height="6.27" fill="#da362a"/>
<rect x="145.42" y="383.9" width="8.27" height="6.27" fill="#feeda1"/>
<rect x="153.43" y="383.9" width="24.3" height="6.27" fill="#a50026"/>
<rect x="177.48" y="383.9" width="16.28" height="6.27" fill="#c01a27"/>
<rect x="193.52" y="383.9" width="16.28" height="6.27" fill="#a50026"/>
<rect x="209.55" y="383.9" width="16.28" height="6.27" fill="#da362a"/>
<rect x="225.58" y="383.9" width="8.27" height="6.27" fill="#c01a27"/>
<rect x="41.2" y="389.92" width="48.35" height="6.27" fill="#006837"/>
<rect x="89.3" y="389.92" width="8.27" height="6.27" fill="#0e8245"/>
<rect x="97.32" y="389.92" width="8.27" height="6.27" fill="#219c52"/>
<rect x="105.33" y="389.92" width="8.27" height="6.27" fill="#d3ec87"/>
<rect x="113.35" y="389.92" width="8.27" height="6.27" fill="#0e8245"/>
<rect x="121.37" y="389.92" width="8.27" height="6.27" fill="#006837"/>
<rect x="129.38" y="389.92" width="8.27" height="6.27" fill="#b7e075"/>
<rect x="137.4" y="389.92" width="24.3" height="6.27" fill="#a50026"/>
<rect x="161.45" y="389.92" width="8.27" height="6.27" fill="#c01a27"/>
<rect x="169.47" y="389.92" width="8.27" height="6.27" fill="#a50026"/>
<rect x="177.48" y="389.92" width="8.27" height="6.27" fill="#c01a27"/>
<rect x="185.5" y="389.92" width="8.27" height="6.27" fill="#da362a"/>
<rect x="193.52" y="389.92" width="16.28" height="6.27" fill="#a50026"/>
<rect x="209.55" y="389.92" width="8.27" height="6.27" fill="#c01a27"/>
<rect x="217.57" y="389.92" width="8.27" height="6.27" fill="#ea5739"/>
<rect x="225.58" y="389.92" width="8.27" height="6.27" fill="#da362a"/>
<rect x="41.2" y="395.94" width="48.35" height="6.27" fill="#006837"/>
<rect x="89.3" y="395.94" width="8.27" height="6.27" fill="#219c52"/>
<rect x="97.32" y="395.94" width="16.28" height="6.27" fill="#0e8245"/>
<rect x="113.35" y="395.94" width="8.27" height="6.27" fill="#73c264"/>
<rect x="121.37" y="395.94" width="8.27" height="6.27" fill="#b7e075"/>
<rect x="129.38" y="395.94" width="8.27" height="6.27" fill="#d3ec87"/>
<rect x="137.4" y="395.94" width="8.27" height="6.27" fill="#a50026"/>
<rect x="145.42" y="395.94" width="8.27" height="6.27" fill="#da362a"/>
<rect x="153.43" y="395.94" width="8.27" height="6.27" fill="#fba05b"/>
<rect x="161.45" y="395.94" width="8.27" height="6.27" fill="#ea5739"/>
<rect x="169.47" y="395.94" width="24.3" height="6.27" fill="#c01a27"/>
<rect x="193.52" y="395.94" width="24.3" height="6.27" fill="#a50026"/>
<rect x="217.57" y="395.94" width="8.27" height="6.27" fill="#c01a27"/>
<rect x="225.58" y="395.94" width="8.27" height="6.27" fill="#a50026"/>
<rect x="41.2" y="401.96" width="72.4" height="6.27" fill="#006837"/>
<rect x="113.35" y="401.96" width="8.27" height="6.27" fill="#e9f6a1"/>
<rect x="121.37" y="401.96" width="8.27" height="6.27" fill="#fba05b"/>
<rect x="129.38" y="401.96" width="8.27" height="6.27" fill="#e9f6a1"/>
<rect x="137.4" y="401.96" width="8.27" height="6.27" fill="#98d368"/>
<rect x="145.42" y="401.96" width="16.28" height="6.27" fill="#d3ec87"/>
<rect x="161.45" y="401.96" width="8.27" height="6.27" fill="#fffebe"/>
<rect x="169.47" y="401.96" width="8.27" height="6.27" fill="#da362a"/>
<rect x="177.48" y="401.96" width="40.33" height="6.27" fill="#a50026"/>
<rect x="217.57" y="401.96" width="16.28" height="6.27" fill="#c01a27"/>
<rect x="41.2" y="407.98" width="72.4" height="6.27" fill="#006837"/>
<rect x="113.35" y="407.98" width="8.27" height="6.27" fill="#d3ec87"/>
<rect x="121.37" y="407.98" width="8.27" height="6.27" fill="#e9f6a1"/>
<rect x="129.38" y="407.98" width="8.27" height="6.27" fill="#b7e075"/>
<rect x="137.4" y="407.98" width="8.27" height="6.27" fill="#fffebe"/>
<rect x="145.42" y="407.98" width="8.27" height="6.27" fill="#73c264"/>
<rect x="153.43" y="407.98" width="8.27" height="6.27" fill="#fffebe"/>
<rect x="161.45" y="407.98" width="8.27" height="6.27" fill="#fdbf6f"/>
<rect x="169.47" y="407.98" width="8.27" height="6.27" fill="#c01a27"/>
<rect x="177.48" y="407.98" width="40.33" height="6.27" fill="#a50026"/>
<rect x="217.57" y="407.98" width="8.27" height="6.27" fill="#c01a27"/>
<rect x="225.58" y="407.98" width="8.27" height="6.27" fill="#fdbf6f"/>
<path d="M49.22 296.4v114.9M57.23 296.4v114.9M65.25 296.4v114.9M73.27 296.4v114.9M81.28 296.4v114.9M89.3 296.4v114.9M97.32 296.4v114.9M105.33 296.4v114.9M113.35 296.4v114.9M121.37 296.4v114.9M129.38 296.4v114.9M137.4 296.4v114.9M145.42 296.4v114.9M153.43 296.4v114.9M161.45 296.4v114.9M169.47 296.4v114.9M177.48 296.4v114.9M185.5 296.4v114.9M193.52 296.4v114.9M201.53 296.4v114.9M209.55 296.4v114.9M217.57 296.4v114.9M225.58 296.4v114.9M41.2 299.62h192.4M41.2 305.64h192.4M41.2 311.66h192.4M41.2 317.68h192.4M41.2 323.7h192.4M41.2 329.72h192.4M41.2 335.74h192.4M41.2 341.76h192.4M41.2 347.78h192.4M41.2 353.8h192.4M41.2 359.82h192.4M41.2 365.84h192.4M41.2 371.86h192.4M41.2 377.88h192.4M41.2 383.9h192.4M41.2 389.92h192.4M41.2 395.94h192.4M41.2 401.96h192.4M41.2 407.98h192.4" stroke="#fff" stroke-opacity="0.10" stroke-width="0.5" fill="none"/>
</g>
<g clip-path="url(#cpe)" fill="none" stroke="#000" stroke-width="0.9" stroke-linejoin="round" stroke-linecap="round">
<path d="M42.6 297.1 L44.9 299.8 L47.7 303 L50.5 305.4 L52.4 308.7 L54.8 311 L58.1 311.8 L60.9 310.8 L62.7 310.3 L65.1 311.2 L67.9 310.5 L70.7 311.9 L73.1 313.8 L72.1 316.2 L70.7 318.5 L69.3 320.6 L71.7 321.8 L74 323.4"/>
<path d="M72.6 296.8 L74.9 298.8 L76.8 301.2 L77.3 304.4 L76.8 309.1 L76.2 313.8 L75.4 318.5 L74.5 323.2"/>
<path d="M74 323.4 L70.7 323.2 L67 324.6 L63.2 326 L59.5 327.9 L56.2 329.8 L54.8 332.1 L53.8 334.9 L52.9 337.3 L53.4 339.2 L51 340.6 L49.6 342 L49.1 343.8 L48.2 345.2 L49.1 347.6 L50.5 349.9 L52.4 352.3 L53.8 354 L52.9 356.3 L57.1 357.8 L59.9 360.8 L65.6 360.8 L70.2 357.3 L70.7 361.5 L70.5 366.7 L73.1 367.6 L76.3 366.7 L80.1 367.1 L84.3 367.1 L87.1 364.3 L90.7 362.9 L91.5 362 L94.3 360.1 L96.2 357.8 L100 357.3 L103.2 358.2 L106.1 355.4 L110.3 354 L112.6 350.9 L116.8 347.6 L119.7 347.6 L122.5 349.9 L125.8 352.8 L128.1 352.3 L138.7 352.3 L146.6 352.3 L148.4 350.4 L149.4 344.8 L148.4 342 L147.5 339.2 L150.8 333.5 L154.1 327 L156.9 320.4 L159.2 314.8 L160.6 311 L157.3 308.7 L152.6 306.3 L148.9 303.5 L146.1 300.2 L144.7 297.1"/>
<path d="M49.6 342.2 L54.8 343.4 L59.5 344.8 L65.1 346.7 L70.7 348.1 L75.4 350.4 L80.1 352.3 L82.4 353.7 L88.7 356.8 L94.3 360.1"/>
<path d="M121.1 296.9 L122.5 299.8 L122 302.1 L124.3 304 L126.7 305.4 L128.1 303 L127.6 300.7 L130 299.3 L132.8 300.7 L134.7 298.8 L137.5 297.4 L139.2 296.6"/>
<path d="M148.4 342 L150.8 345.7 L152.6 350.4 L154.1 354 L156.4 355.9 L161.1 357.3 L169.5 357.8 L178.9 358.2 L186.7 358.5 L192.2 358.9 L198.8 359.4"/>
<path d="M128.1 352.3 L127.2 354 L127.6 359.6 L127.6 366.7 L132.8 367.1 L137.5 368.1 L137.2 371.8 L138.6 375.6 L136.7 378.9 L136.6 380.3 L133.7 384"/>
<path d="M103.2 358.2 L103.2 363.4 L103.5 369.9 L106.1 372.8 L109.3 376 L115.9 377 L120.6 379.8 L126.2 382.1 L130 382.6 L133.7 384 L135.1 387.8 L135.6 391.5 L134.2 394.3 L135.1 397.6 L137 400 L138.7 400.4 L148.4 400.4 L148.9 404.7 L150.8 408.4 L154.1 410.8 L156.9 408.4 L160.6 407 L164.8 407.5 L167.7 409.3 L171.4 410.3 L175.2 409.3 L177.5 407.5 L178 410.3"/>
<path d="M209.6 330.7 L211.9 332.6 L212.8 334.5 L211 337.3 L208.2 340.1 L205.8 342.9 L205.3 346.7 L205.8 350.4 L203.5 354 L200.6 356.8 L198.8 359.4 L197.4 363.4 L196.4 368.1 L196.4 372.8 L196.9 377 L197.8 378.9 L196.4 382.1 L195 386.8 L194.1 390.6 L191.3 393.4 L189.4 396.7 L186.6 399 L183.6 403.7 L181.7 407.5 L180.3 408 L180.6 411"/>
<path d="M226 304.4 L225 309.1 L223.2 314.8 L220.3 320.4 L216.6 325.1 L211.9 328.4 L209.6 330.7"/>
<path d="M211.9 329.8 L215.7 331.2 L217.5 333.5 L218 337.3 L216.6 342 L217.5 344.8 L219.9 347.1 L222.2 348.1 L223.2 350.4 L220.8 354 L222.7 356.8 L225 360.1 L227.4 362.9 L225 365.3 L223.6 368.5 L225 371.4 L224.6 374.6 L225.5 378.6 L225 382.1 L225.5 385.9 L226.9 389.6 L226 392.5 L223.2 391.1 L221.3 393.4 L220.8 396.7 L218.9 398.1 L217.5 400.9 L218.9 403.7 L217.5 407 L218.5 410.8"/>
<path d="M197.8 378.9 L199.7 376.5 L201.6 379.8 L204.4 380.7 L206.7 377.5 L209.1 381.2 L212.8 380.7 L215.7 381.7 L220.3 380.3 L225 378.6"/>
<path d="M231.6 344.8 L228.8 349.5 L226.9 354 L228.3 357.8 L227.4 362.9"/>
<path d="M227.4 362.9 L230.7 363.8 L233 366.2"/>
<path d="M226 392.5 L229.7 391.5 L233 390.1"/>
<path d="M212.9 395.9 L217.3 395.7 L218 397.5 L217.3 399.4 L212.9 399.5 L212.3 397.7 L212.9 395.9"/>
<path d="M211.4 305.4 L212.8 302.1 L216.6 300.7 L222.2 302.1 L226.9 304.4 L231.6 306.3 L233.3 305.9"/>
<path d="M182.6 296.6 L185.2 300.3 L187.8 304 L185.2 306.6 L186.9 306.4 L188.3 305.3 L191 301.9 L192.5 299.3 L191.3 302.4 L190.1 305"/>
<path d="M192.5 299.3 L194.1 297.4 L194.9 296.5"/>
<path d="M196.9 297.5 L196 301.6 L196.9 305.4 L198.8 307.7 L202.1 308.2 L204.9 307.7 L207.2 305.4 L210.5 303 L211.4 300.2 L210 297.2"/>
<path d="M205.3 307.7 L203.9 312.9"/>
<path d="M41.7 395 L46.3 398.1 L52 400.4 L57.6 402.8 L62.3 406.1 L65.1 409.3 L66 411.2"/>
<path d="M76.3 366.7 L79.2 371.4 L82 376.5 L81 382.1 L80.6 388.2 L78.2 392.5 L79.2 394.8 L77.3 397.2 L79.2 400 L80.1 402.8 L77.8 407.5 L75.4 411.2"/>
</g>
<g stroke="#000" stroke-width="1" fill="none">
<path d="M73.25 411.3 v3.2"/>
<path d="M105.3 411.3 v3.2"/>
<path d="M137.35 411.3 v3.2"/>
<path d="M169.4 411.3 v3.2"/>
<path d="M201.45 411.3 v3.2"/>
<path d="M41.2 328.45 h-3.2"/>
<path d="M41.2 360.5 h-3.2"/>
<path d="M41.2 392.55 h-3.2"/>
</g>
<rect x="41.2" y="296.4" width="192.4" height="114.9" fill="none" stroke="#000" stroke-width="1.25"/>
<text x="33.6" y="331.35" text-anchor="end" class="tk">5°S</text>
<text x="33.6" y="363.4" text-anchor="end" class="tk">10°S</text>
<text x="33.6" y="395.45" text-anchor="end" class="tk">15°S</text>
<text x="233.7" y="289.8" text-anchor="end" class="tt">WEG 2050</text>
<rect x="302.9" y="296.4" width="192.4" height="114.9" fill="#006837"/>
<g clip-path="url(#cpf)">
<rect x="302.9" y="293.6" width="96.45" height="6.27" fill="#006837"/>
<rect x="399.1" y="293.6" width="24.3" height="6.27" fill="#006837"/>
<rect x="423.15" y="293.6" width="8.27" height="6.27" fill="#006837"/>
<rect x="431.17" y="293.6" width="8.27" height="6.27" fill="#219c52"/>
<rect x="439.18" y="293.6" width="8.27" height="6.27" fill="#4bb05c"/>
<rect x="447.2" y="293.6" width="16.28" height="6.27" fill="#006837"/>
<rect x="463.23" y="293.6" width="8.27" height="6.27" fill="#219c52"/>
<rect x="471.25" y="293.6" width="8.27" height="6.27" fill="#fffebe"/>
<rect x="479.27" y="293.6" width="8.27" height="6.27" fill="#ea5739"/>
<rect x="487.28" y="293.6" width="8.27" height="6.27" fill="#98d368"/>
<rect x="302.9" y="299.62" width="96.45" height="6.27" fill="#006837"/>
<rect x="399.1" y="299.62" width="8.27" height="6.27" fill="#006837"/>
<rect x="407.12" y="299.62" width="16.28" height="6.27" fill="#006837"/>
<rect x="423.15" y="299.62" width="8.27" height="6.27" fill="#006837"/>
<rect x="431.17" y="299.62" width="8.27" height="6.27" fill="#219c52"/>
<rect x="439.18" y="299.62" width="8.27" height="6.27" fill="#4bb05c"/>
<rect x="447.2" y="299.62" width="8.27" height="6.27" fill="#006837"/>
<rect x="455.22" y="299.62" width="8.27" height="6.27" fill="#006837"/>
<rect x="463.23" y="299.62" width="8.27" height="6.27" fill="#006837"/>
<rect x="471.25" y="299.62" width="8.27" height="6.27" fill="#b7e075"/>
<rect x="479.27" y="299.62" width="8.27" height="6.27" fill="#da362a"/>
<rect x="487.28" y="299.62" width="8.27" height="6.27" fill="#f67a49"/>
<rect x="302.9" y="305.64" width="96.45" height="6.27" fill="#006837"/>
<rect x="399.1" y="305.64" width="8.27" height="6.27" fill="#219c52"/>
<rect x="407.12" y="305.64" width="16.28" height="6.27" fill="#006837"/>
<rect x="423.15" y="305.64" width="8.27" height="6.27" fill="#006837"/>
<rect x="431.17" y="305.64" width="8.27" height="6.27" fill="#98d368"/>
<rect x="439.18" y="305.64" width="32.32" height="6.27" fill="#006837"/>
<rect x="471.25" y="305.64" width="8.27" height="6.27" fill="#fdbf6f"/>
<rect x="479.27" y="305.64" width="8.27" height="6.27" fill="#da362a"/>
<rect x="487.28" y="305.64" width="8.27" height="6.27" fill="#feeda1"/>
<rect x="302.9" y="311.66" width="96.45" height="6.27" fill="#006837"/>
<rect x="399.1" y="311.66" width="8.27" height="6.27" fill="#b7e075"/>
<rect x="407.12" y="311.66" width="8.27" height="6.27" fill="#219c52"/>
<rect x="415.13" y="311.66" width="8.27" height="6.27" fill="#006837"/>
<rect x="423.15" y="311.66" width="8.27" height="6.27" fill="#006837"/>
<rect x="431.17" y="311.66" width="8.27" height="6.27" fill="#219c52"/>
<rect x="439.18" y="311.66" width="8.27" height="6.27" fill="#4bb05c"/>
<rect x="447.2" y="311.66" width="8.27" height="6.27" fill="#fffebe"/>
<rect x="455.22" y="311.66" width="8.27" height="6.27" fill="#98d368"/>
<rect x="463.23" y="311.66" width="8.27" height="6.27" fill="#73c264"/>
<rect x="471.25" y="311.66" width="8.27" height="6.27" fill="#e9f6a1"/>
<rect x="479.27" y="311.66" width="8.27" height="6.27" fill="#f67a49"/>
<rect x="487.28" y="311.66" width="8.27" height="6.27" fill="#feeda1"/>
<rect x="302.9" y="317.68" width="96.45" height="6.27" fill="#006837"/>
<rect x="399.1" y="317.68" width="24.3" height="6.27" fill="#006837"/>
<rect x="423.15" y="317.68" width="16.28" height="6.27" fill="#73c264"/>
<rect x="439.18" y="317.68" width="8.27" height="6.27" fill="#4bb05c"/>
<rect x="447.2" y="317.68" width="8.27" height="6.27" fill="#006837"/>
<rect x="455.22" y="317.68" width="8.27" height="6.27" fill="#219c52"/>
<rect x="463.23" y="317.68" width="8.27" height="6.27" fill="#fdbf6f"/>
<rect x="471.25" y="317.68" width="8.27" height="6.27" fill="#f67a49"/>
<rect x="479.27" y="317.68" width="16.28" height="6.27" fill="#c01a27"/>
<rect x="302.9" y="323.7" width="96.45" height="6.27" fill="#006837"/>
<rect x="399.1" y="323.7" width="24.3" height="6.27" fill="#006837"/>
<rect x="423.15" y="323.7" width="8.27" height="6.27" fill="#219c52"/>
<rect x="431.17" y="323.7" width="24.3" height="6.27" fill="#006837"/>
<rect x="455.22" y="323.7" width="8.27" height="6.27" fill="#219c52"/>
<rect x="463.23" y="323.7" width="8.27" height="6.27" fill="#fdbf6f"/>
<rect x="471.25" y="323.7" width="16.28" height="6.27" fill="#c01a27"/>
<rect x="487.28" y="323.7" width="8.27" height="6.27" fill="#fdbf6f"/>
<rect x="302.9" y="329.72" width="96.45" height="6.27" fill="#006837"/>
<rect x="399.1" y="329.72" width="32.32" height="6.27" fill="#006837"/>
<rect x="431.17" y="329.72" width="16.28" height="6.27" fill="#219c52"/>
<rect x="447.2" y="329.72" width="8.27" height="6.27" fill="#98d368"/>
<rect x="455.22" y="329.72" width="8.27" height="6.27" fill="#d3ec87"/>
<rect x="463.23" y="329.72" width="8.27" height="6.27" fill="#feeda1"/>
<rect x="471.25" y="329.72" width="8.27" height="6.27" fill="#c01a27"/>
<rect x="479.27" y="329.72" width="8.27" height="6.27" fill="#ea5739"/>
<rect x="487.28" y="329.72" width="8.27" height="6.27" fill="#fba05b"/>
<rect x="302.9" y="335.74" width="96.45" height="6.27" fill="#006837"/>
<rect x="399.1" y="335.74" width="8.27" height="6.27" fill="#006837"/>
<rect x="407.12" y="335.74" width="24.3" height="6.27" fill="#006837"/>
<rect x="431.17" y="335.74" width="8.27" height="6.27" fill="#98d368"/>
<rect x="439.18" y="335.74" width="8.27" height="6.27" fill="#006837"/>
<rect x="447.2" y="335.74" width="8.27" height="6.27" fill="#4bb05c"/>
<rect x="455.22" y="335.74" width="8.27" height="6.27" fill="#b7e075"/>
<rect x="463.23" y="335.74" width="8.27" height="6.27" fill="#ea5739"/>
<rect x="471.25" y="335.74" width="8.27" height="6.27" fill="#da362a"/>
<rect x="479.27" y="335.74" width="8.27" height="6.27" fill="#ea5739"/>
<rect x="487.28" y="335.74" width="8.27" height="6.27" fill="#f67a49"/>
<rect x="302.9" y="341.76" width="16.28" height="6.27" fill="#006837"/>
<rect x="318.93" y="341.76" width="16.28" height="6.27" fill="#0e8245"/>
<rect x="334.97" y="341.76" width="8.27" height="6.27" fill="#006837"/>
<rect x="342.98" y="341.76" width="48.35" height="6.27" fill="#006837"/>
<rect x="391.08" y="341.76" width="8.27" height="6.27" fill="#0e8245"/>
<rect x="399.1" y="341.76" width="32.32" height="6.27" fill="#006837"/>
<rect x="431.17" y="341.76" width="8.27" height="6.27" fill="#b7e075"/>
<rect x="439.18" y="341.76" width="8.27" height="6.27" fill="#006837"/>
<rect x="447.2" y="341.76" width="8.27" height="6.27" fill="#006837"/>
<rect x="455.22" y="341.76" width="8.27" height="6.27" fill="#98d368"/>
<rect x="463.23" y="341.76" width="16.28" height="6.27" fill="#ea5739"/>
<rect x="479.27" y="341.76" width="8.27" height="6.27" fill="#da362a"/>
<rect x="487.28" y="341.76" width="8.27" height="6.27" fill="#c01a27"/>
<rect x="302.9" y="347.78" width="40.33" height="6.27" fill="#006837"/>
<rect x="342.98" y="347.78" width="8.27" height="6.27" fill="#0e8245"/>
<rect x="351" y="347.78" width="8.27" height="6.27" fill="#219c52"/>
<rect x="359.02" y="347.78" width="16.28" height="6.27" fill="#006837"/>
<rect x="375.05" y="347.78" width="8.27" height="6.27" fill="#b7e075"/>
<rect x="383.07" y="347.78" width="16.28" height="6.27" fill="#006837"/>
<rect x="399.1" y="347.78" width="8.27" height="6.27" fill="#219c52"/>
<rect x="407.12" y="347.78" width="16.28" height="6.27" fill="#006837"/>
<rect x="423.15" y="347.78" width="24.3" height="6.27" fill="#219c52"/>
<rect x="447.2" y="347.78" width="8.27" height="6.27" fill="#006837"/>
<rect x="455.22" y="347.78" width="8.27" height="6.27" fill="#fffebe"/>
<rect x="463.23" y="347.78" width="8.27" height="6.27" fill="#ea5739"/>
<rect x="471.25" y="347.78" width="8.27" height="6.27" fill="#c01a27"/>
<rect x="479.27" y="347.78" width="8.27" height="6.27" fill="#ea5739"/>
<rect x="487.28" y="347.78" width="8.27" height="6.27" fill="#da362a"/>
<rect x="302.9" y="353.8" width="16.28" height="6.27" fill="#006837"/>
<rect x="318.93" y="353.8" width="24.3" height="6.27" fill="#006837"/>
<rect x="342.98" y="353.8" width="8.27" height="6.27" fill="#0e8245"/>
<rect x="351" y="353.8" width="8.27" height="6.27" fill="#feda86"/>
<rect x="359.02" y="353.8" width="8.27" height="6.27" fill="#fffebe"/>
<rect x="367.03" y="353.8" width="8.27" height="6.27" fill="#219c52"/>
<rect x="375.05" y="353.8" width="8.27" height="6.27" fill="#98d368"/>
<rect x="383.07" y="353.8" width="8.27" height="6.27" fill="#feda86"/>
<rect x="391.08" y="353.8" width="8.27" height="6.27" fill="#0e8245"/>
<rect x="399.1" y="353.8" width="8.27" height="6.27" fill="#219c52"/>
<rect x="407.12" y="353.8" width="8.27" height="6.27" fill="#fffebe"/>
<rect x="415.13" y="353.8" width="8.27" height="6.27" fill="#f67a49"/>
<rect x="423.15" y="353.8" width="8.27" height="6.27" fill="#ea5739"/>
<rect x="431.17" y="353.8" width="8.27" height="6.27" fill="#da362a"/>
<rect x="439.18" y="353.8" width="8.27" height="6.27" fill="#4bb05c"/>
<rect x="447.2" y="353.8" width="8.27" height="6.27" fill="#73c264"/>
<rect x="455.22" y="353.8" width="8.27" height="6.27" fill="#da362a"/>
<rect x="463.23" y="353.8" width="8.27" height="6.27" fill="#f67a49"/>
<rect x="471.25" y="353.8" width="8.27" height="6.27" fill="#c01a27"/>
<rect x="479.27" y="353.8" width="8.27" height="6.27" fill="#ea5739"/>
<rect x="487.28" y="353.8" width="8.27" height="6.27" fill="#feeda1"/>
<rect x="302.9" y="359.82" width="8.27" height="6.27" fill="#0e8245"/>
<rect x="310.92" y="359.82" width="8.27" height="6.27" fill="#006837"/>
<rect x="318.93" y="359.82" width="24.3" height="6.27" fill="#006837"/>
<rect x="342.98" y="359.82" width="8.27" height="6.27" fill="#b7e075"/>
<rect x="351" y="359.82" width="8.27" height="6.27" fill="#fffebe"/>
<rect x="359.02" y="359.82" width="8.27" height="6.27" fill="#006837"/>
<rect x="367.03" y="359.82" width="16.28" height="6.27" fill="#219c52"/>
<rect x="383.07" y="359.82" width="8.27" height="6.27" fill="#da362a"/>
<rect x="391.08" y="359.82" width="8.27" height="6.27" fill="#d3ec87"/>
<rect x="399.1" y="359.82" width="8.27" height="6.27" fill="#006837"/>
<rect x="407.12" y="359.82" width="16.28" height="6.27" fill="#b7e075"/>
<rect x="423.15" y="359.82" width="8.27" height="6.27" fill="#fffebe"/>
<rect x="431.17" y="359.82" width="8.27" height="6.27" fill="#ea5739"/>
<rect x="439.18" y="359.82" width="8.27" height="6.27" fill="#4bb05c"/>
<rect x="447.2" y="359.82" width="8.27" height="6.27" fill="#fba05b"/>
<rect x="455.22" y="359.82" width="8.27" height="6.27" fill="#ea5739"/>
<rect x="463.23" y="359.82" width="8.27" height="6.27" fill="#fba05b"/>
<rect x="471.25" y="359.82" width="8.27" height="6.27" fill="#c01a27"/>
<rect x="479.27" y="359.82" width="16.28" height="6.27" fill="#f67a49"/>
<rect x="302.9" y="365.84" width="16.28" height="6.27" fill="#0e8245"/>
<rect x="318.93" y="365.84" width="32.32" height="6.27" fill="#006837"/>
<rect x="351" y="365.84" width="16.28" height="6.27" fill="#219c52"/>
<rect x="367.03" y="365.84" width="8.27" height="6.27" fill="#0e8245"/>
<rect x="375.05" y="365.84" width="8.27" height="6.27" fill="#b7e075"/>
<rect x="383.07" y="365.84" width="8.27" height="6.27" fill="#feeda1"/>
<rect x="391.08" y="365.84" width="8.27" height="6.27" fill="#fba05b"/>
<rect x="399.1" y="365.84" width="8.27" height="6.27" fill="#006837"/>
<rect x="407.12" y="365.84" width="8.27" height="6.27" fill="#b7e075"/>
<rect x="415.13" y="365.84" width="8.27" height="6.27" fill="#d3ec87"/>
<rect x="423.15" y="365.84" width="8.27" height="6.27" fill="#fdbf6f"/>
<rect x="431.17" y="365.84" width="8.27" height="6.27" fill="#fba05b"/>
<rect x="439.18" y="365.84" width="8.27" height="6.27" fill="#219c52"/>
<rect x="447.2" y="365.84" width="8.27" height="6.27" fill="#feeda1"/>
<rect x="455.22" y="365.84" width="8.27" height="6.27" fill="#ea5739"/>
<rect x="463.23" y="365.84" width="8.27" height="6.27" fill="#f67a49"/>
<rect x="471.25" y="365.84" width="8.27" height="6.27" fill="#a50026"/>
<rect x="479.27" y="365.84" width="16.28" height="6.27" fill="#ea5739"/>
<rect x="302.9" y="371.86" width="16.28" height="6.27" fill="#0e8245"/>
<rect x="318.93" y="371.86" width="8.27" height="6.27" fill="#219c52"/>
<rect x="326.95" y="371.86" width="8.27" height="6.27" fill="#0e8245"/>
<rect x="334.97" y="371.86" width="8.27" height="6.27" fill="#006837"/>
<rect x="342.98" y="371.86" width="8.27" height="6.27" fill="#006837"/>
<rect x="351" y="371.86" width="8.27" height="6.27" fill="#98d368"/>
<rect x="359.02" y="371.86" width="8.27" height="6.27" fill="#fffebe"/>
<rect x="367.03" y="371.86" width="8.27" height="6.27" fill="#feeda1"/>
<rect x="375.05" y="371.86" width="8.27" height="6.27" fill="#b7e075"/>
<rect x="383.07" y="371.86" width="8.27" height="6.27" fill="#0e8245"/>
<rect x="391.08" y="371.86" width="8.27" height="6.27" fill="#d3ec87"/>
<rect x="399.1" y="371.86" width="8.27" height="6.27" fill="#98d368"/>
<rect x="407.12" y="371.86" width="16.28" height="6.27" fill="#b7e075"/>
<rect x="423.15" y="371.86" width="8.27" height="6.27" fill="#ea5739"/>
<rect x="431.17" y="371.86" width="8.27" height="6.27" fill="#fdbf6f"/>
<rect x="439.18" y="371.86" width="8.27" height="6.27" fill="#4bb05c"/>
<rect x="447.2" y="371.86" width="8.27" height="6.27" fill="#fba05b"/>
<rect x="455.22" y="371.86" width="8.27" height="6.27" fill="#c01a27"/>
<rect x="463.23" y="371.86" width="8.27" height="6.27" fill="#da362a"/>
<rect x="471.25" y="371.86" width="8.27" height="6.27" fill="#f67a49"/>
<rect x="479.27" y="371.86" width="8.27" height="6.27" fill="#fba05b"/>
<rect x="487.28" y="371.86" width="8.27" height="6.27" fill="#da362a"/>
<rect x="302.9" y="377.88" width="8.27" height="6.27" fill="#006837"/>
<rect x="310.92" y="377.88" width="24.3" height="6.27" fill="#0e8245"/>
<rect x="334.97" y="377.88" width="8.27" height="6.27" fill="#006837"/>
<rect x="342.98" y="377.88" width="8.27" height="6.27" fill="#006837"/>
<rect x="351" y="377.88" width="8.27" height="6.27" fill="#98d368"/>
<rect x="359.02" y="377.88" width="8.27" height="6.27" fill="#fba05b"/>
<rect x="367.03" y="377.88" width="8.27" height="6.27" fill="#f67a49"/>
<rect x="375.05" y="377.88" width="8.27" height="6.27" fill="#fffebe"/>
<rect x="383.07" y="377.88" width="8.27" height="6.27" fill="#0e8245"/>
<rect x="391.08" y="377.88" width="8.27" height="6.27" fill="#b7e075"/>
<rect x="399.1" y="377.88" width="8.27" height="6.27" fill="#d3ec87"/>
<rect x="407.12" y="377.88" width="8.27" height="6.27" fill="#feeda1"/>
<rect x="415.13" y="377.88" width="8.27" height="6.27" fill="#f67a49"/>
<rect x="423.15" y="377.88" width="8.27" height="6.27" fill="#ea5739"/>
<rect x="431.17" y="377.88" width="16.28" height="6.27" fill="#fba05b"/>
<rect x="447.2" y="377.88" width="8.27" height="6.27" fill="#c01a27"/>
<rect x="455.22" y="377.88" width="8.27" height="6.27" fill="#da362a"/>
<rect x="463.23" y="377.88" width="8.27" height="6.27" fill="#c01a27"/>
<rect x="471.25" y="377.88" width="8.27" height="6.27" fill="#f67a49"/>
<rect x="479.27" y="377.88" width="8.27" height="6.27" fill="#fffebe"/>
<rect x="487.28" y="377.88" width="8.27" height="6.27" fill="#ea5739"/>
<rect x="302.9" y="383.9" width="16.28" height="6.27" fill="#006837"/>
<rect x="318.93" y="383.9" width="32.32" height="6.27" fill="#0e8245"/>
<rect x="351" y="383.9" width="8.27" height="6.27" fill="#73c264"/>
<rect x="359.02" y="383.9" width="8.27" height="6.27" fill="#d3ec87"/>
<rect x="367.03" y="383.9" width="8.27" height="6.27" fill="#feda86"/>
<rect x="375.05" y="383.9" width="8.27" height="6.27" fill="#219c52"/>
<rect x="383.07" y="383.9" width="8.27" height="6.27" fill="#006837"/>
<rect x="391.08" y="383.9" width="8.27" height="6.27" fill="#0e8245"/>
<rect x="399.1" y="383.9" width="8.27" height="6.27" fill="#feeda1"/>
<rect x="407.12" y="383.9" width="8.27" height="6.27" fill="#d3ec87"/>
<rect x="415.13" y="383.9" width="8.27" height="6.27" fill="#c01a27"/>
<rect x="423.15" y="383.9" width="16.28" height="6.27" fill="#f67a49"/>
<rect x="439.18" y="383.9" width="8.27" height="6.27" fill="#fba05b"/>
<rect x="447.2" y="383.9" width="8.27" height="6.27" fill="#f67a49"/>
<rect x="455.22" y="383.9" width="8.27" height="6.27" fill="#c01a27"/>
<rect x="463.23" y="383.9" width="8.27" height="6.27" fill="#da362a"/>
<rect x="471.25" y="383.9" width="8.27" height="6.27" fill="#fba05b"/>
<rect x="479.27" y="383.9" width="8.27" height="6.27" fill="#feeda1"/>
<rect x="487.28" y="383.9" width="8.27" height="6.27" fill="#f67a49"/>
<rect x="302.9" y="389.92" width="48.35" height="6.27" fill="#006837"/>
<rect x="351" y="389.92" width="8.27" height="6.27" fill="#0e8245"/>
<rect x="359.02" y="389.92" width="8.27" height="6.27" fill="#219c52"/>
<rect x="367.03" y="389.92" width="8.27" height="6.27" fill="#d3ec87"/>
<rect x="375.05" y="389.92" width="8.27" height="6.27" fill="#0e8245"/>
<rect x="383.07" y="389.92" width="8.27" height="6.27" fill="#006837"/>
<rect x="391.08" y="389.92" width="8.27" height="6.27" fill="#98d368"/>
<rect x="399.1" y="389.92" width="8.27" height="6.27" fill="#fdbf6f"/>
<rect x="407.12" y="389.92" width="8.27" height="6.27" fill="#c01a27"/>
<rect x="415.13" y="389.92" width="16.28" height="6.27" fill="#ea5739"/>
<rect x="431.17" y="389.92" width="8.27" height="6.27" fill="#f67a49"/>
<rect x="439.18" y="389.92" width="8.27" height="6.27" fill="#fba05b"/>
<rect x="447.2" y="389.92" width="8.27" height="6.27" fill="#f67a49"/>
<rect x="455.22" y="389.92" width="16.28" height="6.27" fill="#c01a27"/>
<rect x="471.25" y="389.92" width="8.27" height="6.27" fill="#f67a49"/>
<rect x="479.27" y="389.92" width="8.27" height="6.27" fill="#fdbf6f"/>
<rect x="487.28" y="389.92" width="8.27" height="6.27" fill="#f67a49"/>
<rect x="302.9" y="395.94" width="48.35" height="6.27" fill="#006837"/>
<rect x="351" y="395.94" width="8.27" height="6.27" fill="#219c52"/>
<rect x="359.02" y="395.94" width="16.28" height="6.27" fill="#0e8245"/>
<rect x="375.05" y="395.94" width="8.27" height="6.27" fill="#73c264"/>
<rect x="383.07" y="395.94" width="8.27" height="6.27" fill="#98d368"/>
<rect x="391.08" y="395.94" width="8.27" height="6.27" fill="#b7e075"/>
<rect x="399.1" y="395.94" width="8.27" height="6.27" fill="#e9f6a1"/>
<rect x="407.12" y="395.94" width="8.27" height="6.27" fill="#da362a"/>
<rect x="415.13" y="395.94" width="8.27" height="6.27" fill="#f67a49"/>
<rect x="423.15" y="395.94" width="16.28" height="6.27" fill="#ea5739"/>
<rect x="439.18" y="395.94" width="8.27" height="6.27" fill="#f67a49"/>
<rect x="447.2" y="395.94" width="8.27" height="6.27" fill="#ea5739"/>
<rect x="455.22" y="395.94" width="8.27" height="6.27" fill="#da362a"/>
<rect x="463.23" y="395.94" width="16.28" height="6.27" fill="#c01a27"/>
<rect x="479.27" y="395.94" width="8.27" height="6.27" fill="#fba05b"/>
<rect x="487.28" y="395.94" width="8.27" height="6.27" fill="#da362a"/>
<rect x="302.9" y="401.96" width="72.4" height="6.27" fill="#006837"/>
<rect x="375.05" y="401.96" width="8.27" height="6.27" fill="#d3ec87"/>
<rect x="383.07" y="401.96" width="8.27" height="6.27" fill="#fba05b"/>
<rect x="391.08" y="401.96" width="8.27" height="6.27" fill="#e9f6a1"/>
<rect x="399.1" y="401.96" width="8.27" height="6.27" fill="#73c264"/>
<rect x="407.12" y="401.96" width="16.28" height="6.27" fill="#d3ec87"/>
<rect x="423.15" y="401.96" width="8.27" height="6.27" fill="#fffebe"/>
<rect x="431.17" y="401.96" width="24.3" height="6.27" fill="#ea5739"/>
<rect x="455.22" y="401.96" width="8.27" height="6.27" fill="#da362a"/>
<rect x="463.23" y="401.96" width="8.27" height="6.27" fill="#a50026"/>
<rect x="471.25" y="401.96" width="8.27" height="6.27" fill="#c01a27"/>
<rect x="479.27" y="401.96" width="8.27" height="6.27" fill="#fba05b"/>
<rect x="487.28" y="401.96" width="8.27" height="6.27" fill="#da362a"/>
<rect x="302.9" y="407.98" width="72.4" height="6.27" fill="#006837"/>
<rect x="375.05" y="407.98" width="8.27" height="6.27" fill="#b7e075"/>
<rect x="383.07" y="407.98" width="8.27" height="6.27" fill="#d3ec87"/>
<rect x="391.08" y="407.98" width="8.27" height="6.27" fill="#b7e075"/>
<rect x="399.1" y="407.98" width="8.27" height="6.27" fill="#fffebe"/>
<rect x="407.12" y="407.98" width="8.27" height="6.27" fill="#73c264"/>
<rect x="415.13" y="407.98" width="8.27" height="6.27" fill="#e9f6a1"/>
<rect x="423.15" y="407.98" width="8.27" height="6.27" fill="#fdbf6f"/>
<rect x="431.17" y="407.98" width="24.3" height="6.27" fill="#ea5739"/>
<rect x="455.22" y="407.98" width="24.3" height="6.27" fill="#c01a27"/>
<rect x="479.27" y="407.98" width="8.27" height="6.27" fill="#f67a49"/>
<rect x="487.28" y="407.98" width="8.27" height="6.27" fill="#feeda1"/>
<path d="M310.92 296.4v114.9M318.93 296.4v114.9M326.95 296.4v114.9M334.97 296.4v114.9M342.98 296.4v114.9M351 296.4v114.9M359.02 296.4v114.9M367.03 296.4v114.9M375.05 296.4v114.9M383.07 296.4v114.9M391.08 296.4v114.9M399.1 296.4v114.9M407.12 296.4v114.9M415.13 296.4v114.9M423.15 296.4v114.9M431.17 296.4v114.9M439.18 296.4v114.9M447.2 296.4v114.9M455.22 296.4v114.9M463.23 296.4v114.9M471.25 296.4v114.9M479.27 296.4v114.9M487.28 296.4v114.9M302.9 299.62h192.4M302.9 305.64h192.4M302.9 311.66h192.4M302.9 317.68h192.4M302.9 323.7h192.4M302.9 329.72h192.4M302.9 335.74h192.4M302.9 341.76h192.4M302.9 347.78h192.4M302.9 353.8h192.4M302.9 359.82h192.4M302.9 365.84h192.4M302.9 371.86h192.4M302.9 377.88h192.4M302.9 383.9h192.4M302.9 389.92h192.4M302.9 395.94h192.4M302.9 401.96h192.4M302.9 407.98h192.4" stroke="#fff" stroke-opacity="0.10" stroke-width="0.5" fill="none"/>
</g>
<g clip-path="url(#cpf)" fill="none" stroke="#000" stroke-width="0.9" stroke-linejoin="round" stroke-linecap="round">
<path d="M304.3 297.1 L306.6 299.8 L309.4 303 L312.2 305.4 L314.1 308.7 L316.5 311 L319.8 311.8 L322.6 310.8 L324.4 310.3 L326.8 311.2 L329.6 310.5 L332.4 311.9 L334.8 313.8 L333.8 316.2 L332.4 318.5 L331 320.6 L333.4 321.8 L335.7 323.4"/>
<path d="M334.3 296.8 L336.6 298.8 L338.5 301.2 L339 304.4 L338.5 309.1 L337.9 313.8 L337.1 318.5 L336.2 323.2"/>
<path d="M335.7 323.4 L332.4 323.2 L328.7 324.6 L324.9 326 L321.2 327.9 L317.9 329.8 L316.5 332.1 L315.5 334.9 L314.6 337.3 L315.1 339.2 L312.7 340.6 L311.3 342 L310.8 343.8 L309.9 345.2 L310.8 347.6 L312.2 349.9 L314.1 352.3 L315.5 354 L314.6 356.3 L318.8 357.8 L321.6 360.8 L327.3 360.8 L331.9 357.3 L332.4 361.5 L332.2 366.7 L334.8 367.6 L338 366.7 L341.8 367.1 L346 367.1 L348.8 364.3 L352.4 362.9 L353.2 362 L356 360.1 L357.9 357.8 L361.7 357.3 L364.9 358.2 L367.8 355.4 L372 354 L374.3 350.9 L378.5 347.6 L381.4 347.6 L384.2 349.9 L387.5 352.8 L389.8 352.3 L400.4 352.3 L408.3 352.3 L410.1 350.4 L411.1 344.8 L410.1 342 L409.2 339.2 L412.5 333.5 L415.8 327 L418.6 320.4 L420.9 314.8 L422.3 311 L419 308.7 L414.3 306.3 L410.6 303.5 L407.8 300.2 L406.4 297.1"/>
<path d="M311.3 342.2 L316.5 343.4 L321.2 344.8 L326.8 346.7 L332.4 348.1 L337.1 350.4 L341.8 352.3 L344.1 353.7 L350.4 356.8 L356 360.1"/>
<path d="M382.8 296.9 L384.2 299.8 L383.7 302.1 L386 304 L388.4 305.4 L389.8 303 L389.3 300.7 L391.7 299.3 L394.5 300.7 L396.4 298.8 L399.2 297.4 L400.9 296.6"/>
<path d="M410.1 342 L412.5 345.7 L414.3 350.4 L415.8 354 L418.1 355.9 L422.8 357.3 L431.2 357.8 L440.6 358.2 L448.4 358.5 L453.9 358.9 L460.5 359.4"/>
<path d="M389.8 352.3 L388.9 354 L389.3 359.6 L389.3 366.7 L394.5 367.1 L399.2 368.1 L398.9 371.8 L400.3 375.6 L398.4 378.9 L398.3 380.3 L395.4 384"/>
<path d="M364.9 358.2 L364.9 363.4 L365.2 369.9 L367.8 372.8 L371 376 L377.6 377 L382.3 379.8 L387.9 382.1 L391.7 382.6 L395.4 384 L396.8 387.8 L397.3 391.5 L395.9 394.3 L396.8 397.6 L398.7 400 L400.4 400.4 L410.1 400.4 L410.6 404.7 L412.5 408.4 L415.8 410.8 L418.6 408.4 L422.3 407 L426.5 407.5 L429.4 409.3 L433.1 410.3 L436.9 409.3 L439.2 407.5 L439.7 410.3"/>
<path d="M471.3 330.7 L473.6 332.6 L474.5 334.5 L472.7 337.3 L469.9 340.1 L467.5 342.9 L467 346.7 L467.5 350.4 L465.2 354 L462.3 356.8 L460.5 359.4 L459.1 363.4 L458.1 368.1 L458.1 372.8 L458.6 377 L459.5 378.9 L458.1 382.1 L456.7 386.8 L455.8 390.6 L453 393.4 L451.1 396.7 L448.3 399 L445.3 403.7 L443.4 407.5 L442 408 L442.3 411"/>
<path d="M487.7 304.4 L486.7 309.1 L484.9 314.8 L482 320.4 L478.3 325.1 L473.6 328.4 L471.3 330.7"/>
<path d="M473.6 329.8 L477.4 331.2 L479.2 333.5 L479.7 337.3 L478.3 342 L479.2 344.8 L481.6 347.1 L483.9 348.1 L484.9 350.4 L482.5 354 L484.4 356.8 L486.7 360.1 L489.1 362.9 L486.7 365.3 L485.3 368.5 L486.7 371.4 L486.3 374.6 L487.2 378.6 L486.7 382.1 L487.2 385.9 L488.6 389.6 L487.7 392.5 L484.9 391.1 L483 393.4 L482.5 396.7 L480.6 398.1 L479.2 400.9 L480.6 403.7 L479.2 407 L480.2 410.8"/>
<path d="M459.5 378.9 L461.4 376.5 L463.3 379.8 L466.1 380.7 L468.4 377.5 L470.8 381.2 L474.5 380.7 L477.4 381.7 L482 380.3 L486.7 378.6"/>
<path d="M493.3 344.8 L490.5 349.5 L488.6 354 L490 357.8 L489.1 362.9"/>
<path d="M489.1 362.9 L492.4 363.8 L494.7 366.2"/>
<path d="M487.7 392.5 L491.4 391.5 L494.7 390.1"/>
<path d="M474.6 395.9 L479 395.7 L479.7 397.5 L479 399.4 L474.6 399.5 L474 397.7 L474.6 395.9"/>
<path d="M473.1 305.4 L474.5 302.1 L478.3 300.7 L483.9 302.1 L488.6 304.4 L493.3 306.3 L495 305.9"/>
<path d="M444.3 296.6 L446.9 300.3 L449.5 304 L446.9 306.6 L448.6 306.4 L450 305.3 L452.7 301.9 L454.2 299.3 L453 302.4 L451.8 305"/>
<path d="M454.2 299.3 L455.8 297.4 L456.6 296.5"/>
<path d="M458.6 297.5 L457.7 301.6 L458.6 305.4 L460.5 307.7 L463.8 308.2 L466.6 307.7 L468.9 305.4 L472.2 303 L473.1 300.2 L471.7 297.2"/>
<path d="M467 307.7 L465.6 312.9"/>
<path d="M303.4 395 L308 398.1 L313.7 400.4 L319.3 402.8 L324 406.1 L326.8 409.3 L327.7 411.2"/>
<path d="M338 366.7 L340.9 371.4 L343.7 376.5 L342.7 382.1 L342.3 388.2 L339.9 392.5 L340.9 394.8 L339 397.2 L340.9 400 L341.8 402.8 L339.5 407.5 L337.1 411.2"/>
</g>
<g stroke="#000" stroke-width="1" fill="none">
<path d="M334.95 411.3 v3.2"/>
<path d="M367 411.3 v3.2"/>
<path d="M399.05 411.3 v3.2"/>
<path d="M431.1 411.3 v3.2"/>
<path d="M463.15 411.3 v3.2"/>
<path d="M302.9 328.45 h-3.2"/>
<path d="M302.9 360.5 h-3.2"/>
<path d="M302.9 392.55 h-3.2"/>
</g>
<rect x="302.9" y="296.4" width="192.4" height="114.9" fill="none" stroke="#000" stroke-width="1.25"/>
<text x="334.95" y="425.9" text-anchor="middle" class="tk">70°W</text>
<text x="367" y="425.9" text-anchor="middle" class="tk">65°W</text>
<text x="399.05" y="425.9" text-anchor="middle" class="tk">60°W</text>
<text x="431.1" y="425.9" text-anchor="middle" class="tk">55°W</text>
<text x="463.15" y="425.9" text-anchor="middle" class="tk">50°W</text>
<text x="495.4" y="289.8" text-anchor="end" class="tt">SEG 2050</text>
<g clip-path="url(#cpg)">
<rect x="129.38" y="433" width="8.27" height="6.27" fill="#ffff81"/>
<rect x="145.42" y="433" width="8.27" height="6.27" fill="#ffff81"/>
<rect x="185.5" y="433" width="8.27" height="6.27" fill="#ffad00"/>
<rect x="193.52" y="433" width="8.27" height="6.27" fill="#ff0500"/>
<rect x="201.53" y="433" width="8.27" height="6.27" fill="#ff5900"/>
<rect x="209.55" y="433" width="8.27" height="6.27" fill="#ff0500"/>
<rect x="217.57" y="433" width="8.27" height="6.27" fill="#ffff81"/>
<rect x="225.58" y="433" width="8.27" height="6.27" fill="#ffff03"/>
<rect x="137.4" y="439.02" width="8.27" height="6.27" fill="#ffad00"/>
<rect x="145.42" y="439.02" width="8.27" height="6.27" fill="#ffff81"/>
<rect x="161.45" y="439.02" width="32.32" height="6.27" fill="#ffad00"/>
<rect x="193.52" y="439.02" width="16.28" height="6.27" fill="#ff5900"/>
<rect x="209.55" y="439.02" width="8.27" height="6.27" fill="#b00000"/>
<rect x="217.57" y="439.02" width="8.27" height="6.27" fill="#ffff81"/>
<rect x="225.58" y="439.02" width="8.27" height="6.27" fill="#ffff03"/>
<rect x="137.4" y="445.04" width="8.27" height="6.27" fill="#b00000"/>
<rect x="145.42" y="445.04" width="8.27" height="6.27" fill="#ff5900"/>
<rect x="153.43" y="445.04" width="8.27" height="6.27" fill="#ffff03"/>
<rect x="161.45" y="445.04" width="24.3" height="6.27" fill="#ff5900"/>
<rect x="185.5" y="445.04" width="8.27" height="6.27" fill="#ffff03"/>
<rect x="193.52" y="445.04" width="8.27" height="6.27" fill="#ff0500"/>
<rect x="201.53" y="445.04" width="8.27" height="6.27" fill="#5c0000"/>
<rect x="209.55" y="445.04" width="8.27" height="6.27" fill="#ffad00"/>
<rect x="217.57" y="445.04" width="8.27" height="6.27" fill="#ffff81"/>
<rect x="225.58" y="445.04" width="8.27" height="6.27" fill="#ffff03"/>
<rect x="113.35" y="451.06" width="16.28" height="6.27" fill="#ffff81"/>
<rect x="129.38" y="451.06" width="8.27" height="6.27" fill="#ffad00"/>
<rect x="137.4" y="451.06" width="8.27" height="6.27" fill="#ff0500"/>
<rect x="145.42" y="451.06" width="8.27" height="6.27" fill="#b00000"/>
<rect x="153.43" y="451.06" width="8.27" height="6.27" fill="#ffff03"/>
<rect x="161.45" y="451.06" width="16.28" height="6.27" fill="#ff5900"/>
<rect x="177.48" y="451.06" width="8.27" height="6.27" fill="#5c0000"/>
<rect x="185.5" y="451.06" width="8.27" height="6.27" fill="#ff5900"/>
<rect x="193.52" y="451.06" width="16.28" height="6.27" fill="#b00000"/>
<rect x="209.55" y="451.06" width="8.27" height="6.27" fill="#ff0500"/>
<rect x="217.57" y="451.06" width="16.28" height="6.27" fill="#ffff81"/>
<rect x="73.27" y="457.08" width="16.28" height="6.27" fill="#ffff81"/>
<rect x="113.35" y="457.08" width="8.27" height="6.27" fill="#ffff03"/>
<rect x="121.37" y="457.08" width="8.27" height="6.27" fill="#ffff81"/>
<rect x="129.38" y="457.08" width="8.27" height="6.27" fill="#ff5900"/>
<rect x="137.4" y="457.08" width="16.28" height="6.27" fill="#ffff03"/>
<rect x="161.45" y="457.08" width="8.27" height="6.27" fill="#ffad00"/>
<rect x="169.47" y="457.08" width="8.27" height="6.27" fill="#ff5900"/>
<rect x="177.48" y="457.08" width="8.27" height="6.27" fill="#ffff81"/>
<rect x="185.5" y="457.08" width="8.27" height="6.27" fill="#ffff03"/>
<rect x="193.52" y="457.08" width="8.27" height="6.27" fill="#ffad00"/>
<rect x="201.53" y="457.08" width="16.28" height="6.27" fill="#ffff03"/>
<rect x="217.57" y="457.08" width="16.28" height="6.27" fill="#ffff81"/>
<rect x="113.35" y="463.1" width="24.3" height="6.27" fill="#ffff81"/>
<rect x="137.4" y="463.1" width="16.28" height="6.27" fill="#ffff81"/>
<rect x="153.43" y="463.1" width="8.27" height="6.27" fill="#ffad00"/>
<rect x="161.45" y="463.1" width="8.27" height="6.27" fill="#ffff03"/>
<rect x="193.52" y="463.1" width="8.27" height="6.27" fill="#ffff03"/>
<rect x="201.53" y="463.1" width="8.27" height="6.27" fill="#ffad00"/>
<rect x="209.55" y="463.1" width="24.3" height="6.27" fill="#ffff81"/>
<rect x="113.35" y="469.12" width="16.28" height="6.27" fill="#ffff81"/>
<rect x="129.38" y="469.12" width="8.27" height="6.27" fill="#ffff03"/>
<rect x="137.4" y="469.12" width="8.27" height="6.27" fill="#ffff03"/>
<rect x="145.42" y="469.12" width="8.27" height="6.27" fill="#ff0500"/>
<rect x="153.43" y="469.12" width="8.27" height="6.27" fill="#ff5900"/>
<rect x="161.45" y="469.12" width="8.27" height="6.27" fill="#ff0500"/>
<rect x="169.47" y="469.12" width="8.27" height="6.27" fill="#ffff81"/>
<rect x="177.48" y="469.12" width="8.27" height="6.27" fill="#ffff03"/>
<rect x="185.5" y="469.12" width="16.28" height="6.27" fill="#ffad00"/>
<rect x="201.53" y="469.12" width="32.32" height="6.27" fill="#ffff03"/>
<rect x="57.23" y="475.14" width="8.27" height="6.27" fill="#ffff81"/>
<rect x="113.35" y="475.14" width="8.27" height="6.27" fill="#ffff81"/>
<rect x="121.37" y="475.14" width="16.28" height="6.27" fill="#ffff03"/>
<rect x="137.4" y="475.14" width="8.27" height="6.27" fill="#b00000"/>
<rect x="145.42" y="475.14" width="8.27" height="6.27" fill="#ffff03"/>
<rect x="153.43" y="475.14" width="8.27" height="6.27" fill="#ffff81"/>
<rect x="161.45" y="475.14" width="8.27" height="6.27" fill="#ff5900"/>
<rect x="169.47" y="475.14" width="8.27" height="6.27" fill="#ffff03"/>
<rect x="177.48" y="475.14" width="8.27" height="6.27" fill="#ffff81"/>
<rect x="185.5" y="475.14" width="8.27" height="6.27" fill="#ffad00"/>
<rect x="193.52" y="475.14" width="32.32" height="6.27" fill="#ffff03"/>
<rect x="225.58" y="475.14" width="8.27" height="6.27" fill="#ffff81"/>
<rect x="57.23" y="481.16" width="8.27" height="6.27" fill="#ffff03"/>
<rect x="65.25" y="481.16" width="16.28" height="6.27" fill="#ffad00"/>
<rect x="113.35" y="481.16" width="8.27" height="6.27" fill="#ffff03"/>
<rect x="121.37" y="481.16" width="8.27" height="6.27" fill="#ffff81"/>
<rect x="129.38" y="481.16" width="8.27" height="6.27" fill="#ffad00"/>
<rect x="137.4" y="481.16" width="8.27" height="6.27" fill="#ff5900"/>
<rect x="161.45" y="481.16" width="8.27" height="6.27" fill="#ffff81"/>
<rect x="169.47" y="481.16" width="8.27" height="6.27" fill="#ffad00"/>
<rect x="177.48" y="481.16" width="8.27" height="6.27" fill="#ffff03"/>
<rect x="193.52" y="481.16" width="32.32" height="6.27" fill="#ffff03"/>
<rect x="225.58" y="481.16" width="8.27" height="6.27" fill="#ffff81"/>
<rect x="65.25" y="487.18" width="16.28" height="6.27" fill="#ffff03"/>
<rect x="81.28" y="487.18" width="8.27" height="6.27" fill="#ff5900"/>
<rect x="89.3" y="487.18" width="8.27" height="6.27" fill="#ffad00"/>
<rect x="97.32" y="487.18" width="8.27" height="6.27" fill="#ffff03"/>
<rect x="105.33" y="487.18" width="8.27" height="6.27" fill="#ffff81"/>
<rect x="113.35" y="487.18" width="8.27" height="6.27" fill="#ff5900"/>
<rect x="121.37" y="487.18" width="8.27" height="6.27" fill="#ffff03"/>
<rect x="129.38" y="487.18" width="8.27" height="6.27" fill="#ff0500"/>
<rect x="137.4" y="487.18" width="8.27" height="6.27" fill="#ffff03"/>
<rect x="145.42" y="487.18" width="16.28" height="6.27" fill="#ffad00"/>
<rect x="161.45" y="487.18" width="8.27" height="6.27" fill="#ffff81"/>
<rect x="169.47" y="487.18" width="8.27" height="6.27" fill="#ffff03"/>
<rect x="177.48" y="487.18" width="8.27" height="6.27" fill="#ffff81"/>
<rect x="193.52" y="487.18" width="8.27" height="6.27" fill="#ff5900"/>
<rect x="201.53" y="487.18" width="24.3" height="6.27" fill="#ffff03"/>
<rect x="225.58" y="487.18" width="8.27" height="6.27" fill="#ffff81"/>
<rect x="73.27" y="493.2" width="8.27" height="6.27" fill="#ffff81"/>
<rect x="81.28" y="493.2" width="8.27" height="6.27" fill="#ffad00"/>
<rect x="89.3" y="493.2" width="8.27" height="6.27" fill="#ff5900"/>
<rect x="97.32" y="493.2" width="8.27" height="6.27" fill="#ffad00"/>
<rect x="105.33" y="493.2" width="8.27" height="6.27" fill="#ff5900"/>
<rect x="113.35" y="493.2" width="16.28" height="6.27" fill="#ffad00"/>
<rect x="129.38" y="493.2" width="8.27" height="6.27" fill="#ff0500"/>
<rect x="137.4" y="493.2" width="8.27" height="6.27" fill="#b00000"/>
<rect x="145.42" y="493.2" width="8.27" height="6.27" fill="#ff5900"/>
<rect x="153.43" y="493.2" width="8.27" height="6.27" fill="#ffad00"/>
<rect x="161.45" y="493.2" width="8.27" height="6.27" fill="#ffff03"/>
<rect x="169.47" y="493.2" width="8.27" height="6.27" fill="#ffff81"/>
<rect x="177.48" y="493.2" width="8.27" height="6.27" fill="#ff5900"/>
<rect x="185.5" y="493.2" width="8.27" height="6.27" fill="#ffad00"/>
<rect x="193.52" y="493.2" width="8.27" height="6.27" fill="#ffff03"/>
<rect x="201.53" y="493.2" width="24.3" height="6.27" fill="#ffff81"/>
<rect x="225.58" y="493.2" width="8.27" height="6.27" fill="#ffff03"/>
<rect x="73.27" y="499.22" width="8.27" height="6.27" fill="#ffff81"/>
<rect x="81.28" y="499.22" width="8.27" height="6.27" fill="#ffad00"/>
<rect x="89.3" y="499.22" width="8.27" height="6.27" fill="#ff0500"/>
<rect x="105.33" y="499.22" width="24.3" height="6.27" fill="#ffff81"/>
<rect x="129.38" y="499.22" width="8.27" height="6.27" fill="#ffff03"/>
<rect x="137.4" y="499.22" width="8.27" height="6.27" fill="#ffff81"/>
<rect x="145.42" y="499.22" width="8.27" height="6.27" fill="#ff0500"/>
<rect x="153.43" y="499.22" width="8.27" height="6.27" fill="#b00000"/>
<rect x="161.45" y="499.22" width="8.27" height="6.27" fill="#ff0500"/>
<rect x="169.47" y="499.22" width="8.27" height="6.27" fill="#ffff03"/>
<rect x="177.48" y="499.22" width="8.27" height="6.27" fill="#ff0500"/>
<rect x="185.5" y="499.22" width="8.27" height="6.27" fill="#ffad00"/>
<rect x="193.52" y="499.22" width="8.27" height="6.27" fill="#ffff81"/>
<rect x="209.55" y="499.22" width="16.28" height="6.27" fill="#ffff81"/>
<rect x="225.58" y="499.22" width="8.27" height="6.27" fill="#ffff03"/>
<rect x="113.35" y="505.24" width="8.27" height="6.27" fill="#ffff81"/>
<rect x="121.37" y="505.24" width="8.27" height="6.27" fill="#ffff03"/>
<rect x="129.38" y="505.24" width="8.27" height="6.27" fill="#ffad00"/>
<rect x="137.4" y="505.24" width="8.27" height="6.27" fill="#ffff81"/>
<rect x="145.42" y="505.24" width="8.27" height="6.27" fill="#ffad00"/>
<rect x="153.43" y="505.24" width="8.27" height="6.27" fill="#b00000"/>
<rect x="161.45" y="505.24" width="8.27" height="6.27" fill="#ff5900"/>
<rect x="169.47" y="505.24" width="8.27" height="6.27" fill="#ffad00"/>
<rect x="177.48" y="505.24" width="8.27" height="6.27" fill="#ffff03"/>
<rect x="185.5" y="505.24" width="8.27" height="6.27" fill="#ff5900"/>
<rect x="193.52" y="505.24" width="8.27" height="6.27" fill="#ffff81"/>
<rect x="209.55" y="505.24" width="24.3" height="6.27" fill="#ffff81"/>
<rect x="105.33" y="511.26" width="8.27" height="6.27" fill="#ff5900"/>
<rect x="113.35" y="511.26" width="8.27" height="6.27" fill="#ffad00"/>
<rect x="121.37" y="511.26" width="8.27" height="6.27" fill="#ffff81"/>
<rect x="129.38" y="511.26" width="8.27" height="6.27" fill="#ffff03"/>
<rect x="137.4" y="511.26" width="16.28" height="6.27" fill="#ffff03"/>
<rect x="153.43" y="511.26" width="8.27" height="6.27" fill="#ff0500"/>
<rect x="161.45" y="511.26" width="8.27" height="6.27" fill="#ffff03"/>
<rect x="169.47" y="511.26" width="16.28" height="6.27" fill="#ffad00"/>
<rect x="185.5" y="511.26" width="8.27" height="6.27" fill="#ffff03"/>
<rect x="193.52" y="511.26" width="24.3" height="6.27" fill="#ffff81"/>
<rect x="217.57" y="511.26" width="8.27" height="6.27" fill="#ffff03"/>
<rect x="225.58" y="511.26" width="8.27" height="6.27" fill="#ffff81"/>
<rect x="129.38" y="517.28" width="8.27" height="6.27" fill="#ffad00"/>
<rect x="137.4" y="517.28" width="8.27" height="6.27" fill="#ffad00"/>
<rect x="145.42" y="517.28" width="8.27" height="6.27" fill="#ffff81"/>
<rect x="153.43" y="517.28" width="16.28" height="6.27" fill="#ffff03"/>
<rect x="169.47" y="517.28" width="16.28" height="6.27" fill="#ffad00"/>
<rect x="185.5" y="517.28" width="8.27" height="6.27" fill="#ffff03"/>
<rect x="193.52" y="517.28" width="24.3" height="6.27" fill="#ffff81"/>
<rect x="217.57" y="517.28" width="8.27" height="6.27" fill="#ffff03"/>
<rect x="225.58" y="517.28" width="8.27" height="6.27" fill="#ffff81"/>
<rect x="137.4" y="523.3" width="8.27" height="6.27" fill="#ffad00"/>
<rect x="145.42" y="523.3" width="8.27" height="6.27" fill="#ffff03"/>
<rect x="153.43" y="523.3" width="8.27" height="6.27" fill="#ffff81"/>
<rect x="161.45" y="523.3" width="32.32" height="6.27" fill="#ffff03"/>
<rect x="193.52" y="523.3" width="24.3" height="6.27" fill="#ffff81"/>
<rect x="217.57" y="523.3" width="8.27" height="6.27" fill="#ffff03"/>
<rect x="225.58" y="523.3" width="8.27" height="6.27" fill="#ffff81"/>
<rect x="137.4" y="529.32" width="8.27" height="6.27" fill="#ff5900"/>
<rect x="145.42" y="529.32" width="8.27" height="6.27" fill="#ffff81"/>
<rect x="153.43" y="529.32" width="8.27" height="6.27" fill="#ffff03"/>
<rect x="161.45" y="529.32" width="8.27" height="6.27" fill="#ffff81"/>
<rect x="169.47" y="529.32" width="24.3" height="6.27" fill="#ffff03"/>
<rect x="193.52" y="529.32" width="24.3" height="6.27" fill="#ffff81"/>
<rect x="217.57" y="529.32" width="8.27" height="6.27" fill="#ffff03"/>
<rect x="225.58" y="529.32" width="8.27" height="6.27" fill="#ffff81"/>
<rect x="137.4" y="535.34" width="8.27" height="6.27" fill="#ff0500"/>
<rect x="145.42" y="535.34" width="8.27" height="6.27" fill="#ffff81"/>
<rect x="169.47" y="535.34" width="8.27" height="6.27" fill="#ffff81"/>
<rect x="177.48" y="535.34" width="16.28" height="6.27" fill="#ffff03"/>
<rect x="193.52" y="535.34" width="24.3" height="6.27" fill="#ffff81"/>
<rect x="217.57" y="535.34" width="16.28" height="6.27" fill="#ffff03"/>
<rect x="169.47" y="541.36" width="8.27" height="6.27" fill="#ffff81"/>
<rect x="177.48" y="541.36" width="16.28" height="6.27" fill="#ffff03"/>
<rect x="193.52" y="541.36" width="24.3" height="6.27" fill="#ffff81"/>
<rect x="217.57" y="541.36" width="16.28" height="6.27" fill="#ffff03"/>
<rect x="169.47" y="547.38" width="8.27" height="6.27" fill="#ffff81"/>
<rect x="177.48" y="547.38" width="16.28" height="6.27" fill="#ffff03"/>
<rect x="193.52" y="547.38" width="24.3" height="6.27" fill="#ffff81"/>
<rect x="217.57" y="547.38" width="8.27" height="6.27" fill="#ffff03"/>
<rect x="225.58" y="547.38" width="8.27" height="6.27" fill="#ffff81"/>
</g>
<g clip-path="url(#cpg)" fill="none" stroke="#222" stroke-width="0.7" stroke-linejoin="round" stroke-linecap="round">
<path d="M42.6 436.5 L44.9 439.2 L47.7 442.4 L50.5 444.8 L52.4 448.1 L54.8 450.4 L58.1 451.2 L60.9 450.2 L62.7 449.7 L65.1 450.6 L67.9 449.9 L70.7 451.3 L73.1 453.2 L72.1 455.6 L70.7 457.9 L69.3 460 L71.7 461.2 L74 462.8"/>
<path d="M72.6 436.2 L74.9 438.2 L76.8 440.6 L77.3 443.8 L76.8 448.5 L76.2 453.2 L75.4 457.9 L74.5 462.6"/>
<path d="M74 462.8 L70.7 462.6 L67 464 L63.2 465.4 L59.5 467.3 L56.2 469.2 L54.8 471.5 L53.8 474.3 L52.9 476.7 L53.4 478.6 L51 480 L49.6 481.4 L49.1 483.2 L48.2 484.6 L49.1 487 L50.5 489.3 L52.4 491.7 L53.8 493.4 L52.9 495.7 L57.1 497.2 L59.9 500.2 L65.6 500.2 L70.2 496.7 L70.7 500.9 L70.5 506.1 L73.1 507 L76.3 506.1 L80.1 506.5 L84.3 506.5 L87.1 503.7 L90.7 502.3 L91.5 501.4 L94.3 499.5 L96.2 497.2 L100 496.7 L103.2 497.6 L106.1 494.8 L110.3 493.4 L112.6 490.3 L116.8 487 L119.7 487 L122.5 489.3 L125.8 492.2 L128.1 491.7 L138.7 491.7 L146.6 491.7 L148.4 489.8 L149.4 484.2 L148.4 481.4 L147.5 478.6 L150.8 472.9 L154.1 466.4 L156.9 459.8 L159.2 454.2 L160.6 450.4 L157.3 448.1 L152.6 445.7 L148.9 442.9 L146.1 439.6 L144.7 436.5"/>
<path d="M49.6 481.6 L54.8 482.8 L59.5 484.2 L65.1 486.1 L70.7 487.5 L75.4 489.8 L80.1 491.7 L82.4 493.1 L88.7 496.2 L94.3 499.5"/>
<path d="M121.1 436.3 L122.5 439.2 L122 441.5 L124.3 443.4 L126.7 444.8 L128.1 442.4 L127.6 440.1 L130 438.7 L132.8 440.1 L134.7 438.2 L137.5 436.8 L139.2 436"/>
<path d="M148.4 481.4 L150.8 485.1 L152.6 489.8 L154.1 493.4 L156.4 495.3 L161.1 496.7 L169.5 497.2 L178.9 497.6 L186.7 497.9 L192.2 498.3 L198.8 498.8"/>
<path d="M128.1 491.7 L127.2 493.4 L127.6 499 L127.6 506.1 L132.8 506.5 L137.5 507.5 L137.2 511.2 L138.6 515 L136.7 518.3 L136.6 519.7 L133.7 523.4"/>
<path d="M103.2 497.6 L103.2 502.8 L103.5 509.3 L106.1 512.2 L109.3 515.4 L115.9 516.4 L120.6 519.2 L126.2 521.5 L130 522 L133.7 523.4 L135.1 527.2 L135.6 530.9 L134.2 533.7 L135.1 537 L137 539.4 L138.7 539.8 L148.4 539.8 L148.9 544.1 L150.8 547.8 L154.1 550.2 L156.9 547.8 L160.6 546.4 L164.8 546.9 L167.7 548.7 L171.4 549.7 L175.2 548.7 L177.5 546.9 L178 549.7"/>
<path d="M209.6 470.1 L211.9 472 L212.8 473.9 L211 476.7 L208.2 479.5 L205.8 482.3 L205.3 486.1 L205.8 489.8 L203.5 493.4 L200.6 496.2 L198.8 498.8 L197.4 502.8 L196.4 507.5 L196.4 512.2 L196.9 516.4 L197.8 518.3 L196.4 521.5 L195 526.2 L194.1 530 L191.3 532.8 L189.4 536.1 L186.6 538.4 L183.6 543.1 L181.7 546.9 L180.3 547.4 L180.6 550.4"/>
<path d="M226 443.8 L225 448.5 L223.2 454.2 L220.3 459.8 L216.6 464.5 L211.9 467.8 L209.6 470.1"/>
<path d="M211.9 469.2 L215.7 470.6 L217.5 472.9 L218 476.7 L216.6 481.4 L217.5 484.2 L219.9 486.5 L222.2 487.5 L223.2 489.8 L220.8 493.4 L222.7 496.2 L225 499.5 L227.4 502.3 L225 504.7 L223.6 507.9 L225 510.8 L224.6 514 L225.5 518 L225 521.5 L225.5 525.3 L226.9 529 L226 531.9 L223.2 530.5 L221.3 532.8 L220.8 536.1 L218.9 537.5 L217.5 540.3 L218.9 543.1 L217.5 546.4 L218.5 550.2"/>
<path d="M197.8 518.3 L199.7 515.9 L201.6 519.2 L204.4 520.1 L206.7 516.9 L209.1 520.6 L212.8 520.1 L215.7 521.1 L220.3 519.7 L225 518"/>
<path d="M231.6 484.2 L228.8 488.9 L226.9 493.4 L228.3 497.2 L227.4 502.3"/>
<path d="M227.4 502.3 L230.7 503.2 L233 505.6"/>
<path d="M226 531.9 L229.7 530.9 L233 529.5"/>
<path d="M212.9 535.3 L217.3 535.1 L218 536.9 L217.3 538.8 L212.9 538.9 L212.3 537.1 L212.9 535.3"/>
<path d="M211.4 444.8 L212.8 441.5 L216.6 440.1 L222.2 441.5 L226.9 443.8 L231.6 445.7 L233.3 445.3"/>
<path d="M182.6 436 L185.2 439.7 L187.8 443.4 L185.2 446 L186.9 445.8 L188.3 444.7 L191 441.3 L192.5 438.7 L191.3 441.8 L190.1 444.4"/>
<path d="M192.5 438.7 L194.1 436.8 L194.9 435.9"/>
<path d="M196.9 436.9 L196 441 L196.9 444.8 L198.8 447.1 L202.1 447.6 L204.9 447.1 L207.2 444.8 L210.5 442.4 L211.4 439.6 L210 436.6"/>
<path d="M205.3 447.1 L203.9 452.3"/>
<path d="M41.7 534.4 L46.3 537.5 L52 539.8 L57.6 542.2 L62.3 545.5 L65.1 548.7 L66 550.6"/>
<path d="M76.3 506.1 L79.2 510.8 L82 515.9 L81 521.5 L80.6 527.6 L78.2 531.9 L79.2 534.2 L77.3 536.6 L79.2 539.4 L80.1 542.2 L77.8 546.9 L75.4 550.6"/>
</g>
<g stroke="#000" stroke-width="1.9" fill="none"><path d="M105.3 467.85 L188.63 531.95"/><path d="M150.17 461.44 L214.27 506.31"/></g>
<circle cx="105.3" cy="467.85" r="3.9" fill="#000"/>
<circle cx="188.63" cy="531.95" r="3.9" fill="#000"/>
<circle cx="150.17" cy="461.44" r="3.9" fill="#000"/>
<circle cx="214.27" cy="506.31" r="3.9" fill="#000"/>
<text x="98.3" y="463.7" text-anchor="middle" class="st">P</text>
<text x="146.4" y="456.1" text-anchor="middle" class="st">T</text>
<text x="217.8" y="516.9" text-anchor="middle" class="st">U</text>
<text x="195.1" y="541.8" text-anchor="middle" class="st">Q</text>
<g stroke="#000" stroke-width="1" fill="none">
<path d="M73.25 550.7 v3.2"/>
<path d="M105.3 550.7 v3.2"/>
<path d="M137.35 550.7 v3.2"/>
<path d="M169.4 550.7 v3.2"/>
<path d="M201.45 550.7 v3.2"/>
<path d="M41.2 467.85 h-3.2"/>
<path d="M41.2 499.9 h-3.2"/>
<path d="M41.2 531.95 h-3.2"/>
</g>
<rect x="41.2" y="435.8" width="192.4" height="114.9" fill="none" stroke="#000" stroke-width="1.25"/>
<text x="33.6" y="470.75" text-anchor="end" class="tk">5°S</text>
<text x="33.6" y="502.8" text-anchor="end" class="tk">10°S</text>
<text x="33.6" y="534.85" text-anchor="end" class="tk">15°S</text>
<text x="73.25" y="565.3" text-anchor="middle" class="tk">70°W</text>
<text x="105.3" y="565.3" text-anchor="middle" class="tk">65°W</text>
<text x="137.35" y="565.3" text-anchor="middle" class="tk">60°W</text>
<text x="169.4" y="565.3" text-anchor="middle" class="tk">55°W</text>
<text x="201.45" y="565.3" text-anchor="middle" class="tk">50°W</text>
<text x="233.7" y="429.2" text-anchor="end" class="tt">WEG-SEG</text>
<text x="22.2" y="19.5" text-anchor="middle" class="pl">a</text>
<text x="284.3" y="19.5" text-anchor="middle" class="pl">b</text>
<text x="22.2" y="159.1" text-anchor="middle" class="pl">c</text>
<text x="284.3" y="159.1" text-anchor="middle" class="pl">d</text>
<text x="22.2" y="298.5" text-anchor="middle" class="pl">e</text>
<text x="284.3" y="298.5" text-anchor="middle" class="pl">f</text>
<text x="22.2" y="437.9" text-anchor="middle" class="pl">g</text>
<rect x="527.5" y="53.5" width="15.1" height="19.24" fill="#c01a27"/>
<rect x="527.5" y="72.44" width="15.1" height="19.24" fill="#da362a"/>
<rect x="527.5" y="91.38" width="15.1" height="19.24" fill="#ea5739"/>
<rect x="527.5" y="110.32" width="15.1" height="19.24" fill="#f67a49"/>
<rect x="527.5" y="129.26" width="15.1" height="19.24" fill="#fba05b"/>
<rect x="527.5" y="148.21" width="15.1" height="19.24" fill="#fdbf6f"/>
<rect x="527.5" y="167.15" width="15.1" height="19.24" fill="#feda86"/>
<rect x="527.5" y="186.09" width="15.1" height="19.24" fill="#feeda1"/>
<rect x="527.5" y="205.03" width="15.1" height="19.24" fill="#fffebe"/>
<rect x="527.5" y="223.97" width="15.1" height="19.24" fill="#e9f6a1"/>
<rect x="527.5" y="242.91" width="15.1" height="19.24" fill="#d3ec87"/>
<rect x="527.5" y="261.85" width="15.1" height="19.24" fill="#b7e075"/>
<rect x="527.5" y="280.79" width="15.1" height="19.24" fill="#98d368"/>
<rect x="527.5" y="299.74" width="15.1" height="19.24" fill="#73c264"/>
<rect x="527.5" y="318.68" width="15.1" height="19.24" fill="#4bb05c"/>
<rect x="527.5" y="337.62" width="15.1" height="19.24" fill="#219c52"/>
<rect x="527.5" y="356.56" width="15.1" height="19.24" fill="#0e8245"/>
<path d="M527.5 53.5 L535.05 36.8 L542.6 53.5 z" fill="#a50026"/>
<path d="M527.5 375.5 L535.05 392.2 L542.6 375.5 z" fill="#006837"/>
<path d="M527.5 53.5 L535.05 36.8 L542.6 53.5 L542.6 375.5 L535.05 392.2 L527.5 375.5 z" fill="none" stroke="#000" stroke-width="1" stroke-linejoin="miter"/>
<path d="M542.6 53.5 h3.4" stroke="#000" stroke-width="0.8"/>
<text x="550.9" y="56.9" class="tk">90</text>
<path d="M542.6 72.44 h3.4" stroke="#000" stroke-width="0.8"/>
<text x="550.9" y="75.84" class="tk">85</text>
<path d="M542.6 91.38 h3.4" stroke="#000" stroke-width="0.8"/>
<text x="550.9" y="94.78" class="tk">80</text>
<path d="M542.6 110.32 h3.4" stroke="#000" stroke-width="0.8"/>
<text x="550.9" y="113.72" class="tk">75</text>
<path d="M542.6 129.26 h3.4" stroke="#000" stroke-width="0.8"/>
<text x="550.9" y="132.66" class="tk">70</text>
<path d="M542.6 148.21 h3.4" stroke="#000" stroke-width="0.8"/>
<text x="550.9" y="151.61" class="tk">65</text>
<path d="M542.6 167.15 h3.4" stroke="#000" stroke-width="0.8"/>
<text x="550.9" y="170.55" class="tk">60</text>
<path d="M542.6 186.09 h3.4" stroke="#000" stroke-width="0.8"/>
<text x="550.9" y="189.49" class="tk">55</text>
<path d="M542.6 205.03 h3.4" stroke="#000" stroke-width="0.8"/>
<text x="550.9" y="208.43" class="tk">50</text>
<path d="M542.6 223.97 h3.4" stroke="#000" stroke-width="0.8"/>
<text x="550.9" y="227.37" class="tk">45</text>
<path d="M542.6 242.91 h3.4" stroke="#000" stroke-width="0.8"/>
<text x="550.9" y="246.31" class="tk">40</text>
<path d="M542.6 261.85 h3.4" stroke="#000" stroke-width="0.8"/>
<text x="550.9" y="265.25" class="tk">35</text>
<path d="M542.6 280.79 h3.4" stroke="#000" stroke-width="0.8"/>
<text x="550.9" y="284.19" class="tk">30</text>
<path d="M542.6 299.74 h3.4" stroke="#000" stroke-width="0.8"/>
<text x="550.9" y="303.14" class="tk">25</text>
<path d="M542.6 318.68 h3.4" stroke="#000" stroke-width="0.8"/>
<text x="550.9" y="322.08" class="tk">20</text>
<path d="M542.6 337.62 h3.4" stroke="#000" stroke-width="0.8"/>
<text x="550.9" y="341.02" class="tk">15</text>
<path d="M542.6 356.56 h3.4" stroke="#000" stroke-width="0.8"/>
<text x="550.9" y="359.96" class="tk">10</text>
<path d="M542.6 375.5 h3.4" stroke="#000" stroke-width="0.8"/>
<text x="550.9" y="378.9" class="tk">5</text>
<text transform="translate(571.6 213.5) rotate(-90)" text-anchor="middle" style="font-size:8.05px">Total deforestation (%)</text>
<rect x="43.6" y="581.4" width="26.95" height="6" fill="#ffff81"/>
<rect x="70.25" y="581.4" width="26.95" height="6" fill="#ffff03"/>
<rect x="96.9" y="581.4" width="26.95" height="6" fill="#ffad00"/>
<rect x="123.55" y="581.4" width="26.95" height="6" fill="#ff5900"/>
<rect x="150.2" y="581.4" width="26.95" height="6" fill="#ff0500"/>
<rect x="176.85" y="581.4" width="26.95" height="6" fill="#b00000"/>
<rect x="203.5" y="581.4" width="26.95" height="6" fill="#5c0000"/>
<path d="M230.15 581.4 L240.6 584.4 L230.15 587.4 z" fill="#0b0000"/>
<path d="M43.6 581.4 L230.15 581.4 L240.6 584.4 L230.15 587.4 L43.6 587.4 L34.2 584.4 z" fill="none" stroke="#000" stroke-width="1"/>
<path d="M43.6 587.4 v3.4" stroke="#000" stroke-width="0.8"/>
<text x="43.6" y="602.1" text-anchor="middle" class="tk">5</text>
<path d="M70.25 587.4 v3.4" stroke="#000" stroke-width="0.8"/>
<text x="70.25" y="602.1" text-anchor="middle" class="tk">15</text>
<path d="M96.9 587.4 v3.4" stroke="#000" stroke-width="0.8"/>
<text x="96.9" y="602.1" text-anchor="middle" class="tk">25</text>
<path d="M123.55 587.4 v3.4" stroke="#000" stroke-width="0.8"/>
<text x="123.55" y="602.1" text-anchor="middle" class="tk">35</text>
<path d="M150.2 587.4 v3.4" stroke="#000" stroke-width="0.8"/>
<text x="150.2" y="602.1" text-anchor="middle" class="tk">45</text>
<path d="M176.85 587.4 v3.4" stroke="#000" stroke-width="0.8"/>
<text x="176.85" y="602.1" text-anchor="middle" class="tk">55</text>
<path d="M203.5 587.4 v3.4" stroke="#000" stroke-width="0.8"/>
<text x="203.5" y="602.1" text-anchor="middle" class="tk">65</text>
<path d="M230.15 587.4 v3.4" stroke="#000" stroke-width="0.8"/>
<text x="230.15" y="602.1" text-anchor="middle" class="tk">75</text>
<text x="137" y="614.1" text-anchor="middle" style="font-size:8.05px">Difference in percentage deforestation in 2050 (percentage points)</text>
</svg></body></html>
